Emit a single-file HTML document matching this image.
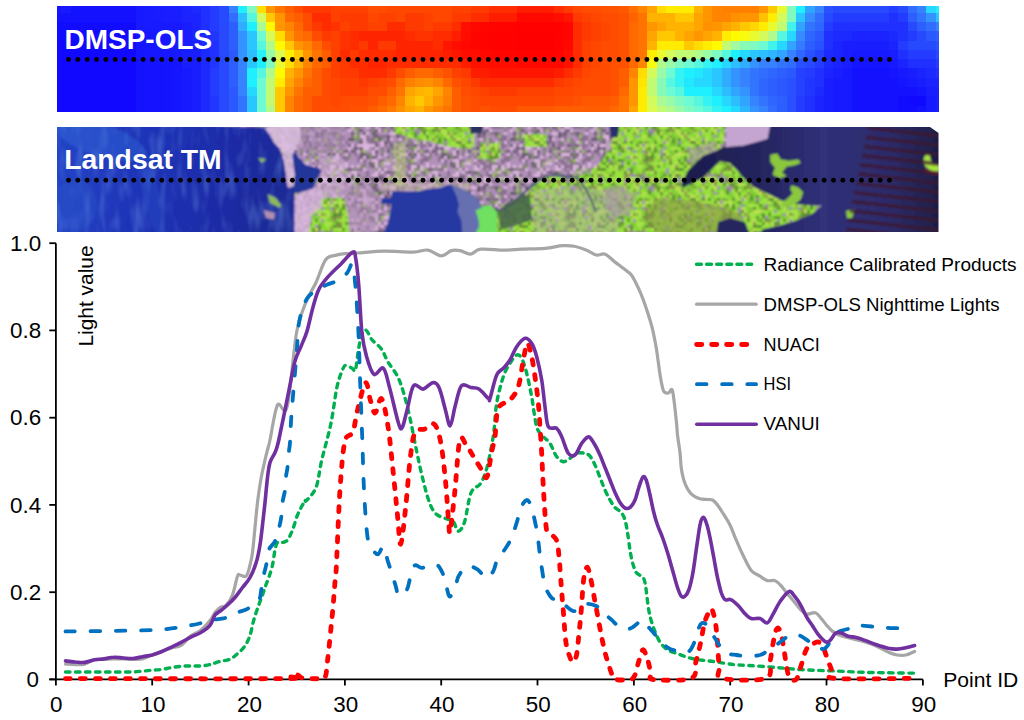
<!DOCTYPE html>
<html><head><meta charset="utf-8"><style>
html,body{margin:0;padding:0;background:#fff;width:1024px;height:720px;overflow:hidden}
svg{display:block}
</style></head><body>
<svg width="1024" height="720" viewBox="0 0 1024 720">
<rect width="1024" height="720" fill="#fff"/>
<g shape-rendering="crispEdges">
<rect x="57.00" y="6.00" width="4.70" height="7.18" fill="#1515ff"/>
<rect x="57.00" y="12.78" width="4.70" height="9.68" fill="#1411ff"/>
<rect x="57.00" y="22.06" width="4.70" height="9.68" fill="#120cff"/>
<rect x="57.00" y="31.34" width="4.70" height="9.68" fill="#120cff"/>
<rect x="57.00" y="40.62" width="4.70" height="9.68" fill="#1008ff"/>
<rect x="57.00" y="49.90" width="4.70" height="9.68" fill="#1008ff"/>
<rect x="57.00" y="59.18" width="4.70" height="9.68" fill="#1008ff"/>
<rect x="57.00" y="68.46" width="4.70" height="9.68" fill="#1008ff"/>
<rect x="57.00" y="77.74" width="4.70" height="9.68" fill="#1008ff"/>
<rect x="57.00" y="87.02" width="4.70" height="9.68" fill="#1008ff"/>
<rect x="57.00" y="96.30" width="4.70" height="9.68" fill="#1008ff"/>
<rect x="57.00" y="105.58" width="4.70" height="5.92" fill="#1008ff"/>
<rect x="61.30" y="6.00" width="9.70" height="7.18" fill="#171aff"/>
<rect x="61.30" y="12.78" width="9.70" height="9.68" fill="#1411ff"/>
<rect x="61.30" y="22.06" width="9.70" height="9.68" fill="#120cff"/>
<rect x="61.30" y="31.34" width="9.70" height="9.68" fill="#120cff"/>
<rect x="61.30" y="40.62" width="9.70" height="9.68" fill="#1008ff"/>
<rect x="61.30" y="49.90" width="9.70" height="9.68" fill="#1008ff"/>
<rect x="61.30" y="59.18" width="9.70" height="9.68" fill="#1008ff"/>
<rect x="61.30" y="68.46" width="9.70" height="9.68" fill="#1008ff"/>
<rect x="61.30" y="77.74" width="9.70" height="9.68" fill="#1008ff"/>
<rect x="61.30" y="87.02" width="9.70" height="9.68" fill="#1008ff"/>
<rect x="61.30" y="96.30" width="9.70" height="9.68" fill="#1008ff"/>
<rect x="61.30" y="105.58" width="9.70" height="5.92" fill="#1008ff"/>
<rect x="70.60" y="6.00" width="9.70" height="7.18" fill="#1411ff"/>
<rect x="70.60" y="12.78" width="9.70" height="9.68" fill="#1411ff"/>
<rect x="70.60" y="22.06" width="9.70" height="9.68" fill="#120cff"/>
<rect x="70.60" y="31.34" width="9.70" height="9.68" fill="#120cff"/>
<rect x="70.60" y="40.62" width="9.70" height="9.68" fill="#1008ff"/>
<rect x="70.60" y="49.90" width="9.70" height="9.68" fill="#1008ff"/>
<rect x="70.60" y="59.18" width="9.70" height="9.68" fill="#1008ff"/>
<rect x="70.60" y="68.46" width="9.70" height="9.68" fill="#1008ff"/>
<rect x="70.60" y="77.74" width="9.70" height="9.68" fill="#1008ff"/>
<rect x="70.60" y="87.02" width="9.70" height="9.68" fill="#1008ff"/>
<rect x="70.60" y="96.30" width="9.70" height="9.68" fill="#1008ff"/>
<rect x="70.60" y="105.58" width="9.70" height="5.92" fill="#1008ff"/>
<rect x="79.90" y="6.00" width="9.70" height="7.18" fill="#1411ff"/>
<rect x="79.90" y="12.78" width="9.70" height="9.68" fill="#1411ff"/>
<rect x="79.90" y="22.06" width="9.70" height="9.68" fill="#120cff"/>
<rect x="79.90" y="31.34" width="9.70" height="9.68" fill="#120cff"/>
<rect x="79.90" y="40.62" width="9.70" height="9.68" fill="#1009ff"/>
<rect x="79.90" y="49.90" width="9.70" height="9.68" fill="#1008ff"/>
<rect x="79.90" y="59.18" width="9.70" height="9.68" fill="#1008ff"/>
<rect x="79.90" y="68.46" width="9.70" height="9.68" fill="#1008ff"/>
<rect x="79.90" y="77.74" width="9.70" height="9.68" fill="#1008ff"/>
<rect x="79.90" y="87.02" width="9.70" height="9.68" fill="#1008ff"/>
<rect x="79.90" y="96.30" width="9.70" height="9.68" fill="#1008ff"/>
<rect x="79.90" y="105.58" width="9.70" height="5.92" fill="#1008ff"/>
<rect x="89.20" y="6.00" width="9.70" height="7.18" fill="#1411ff"/>
<rect x="89.20" y="12.78" width="9.70" height="9.68" fill="#1411ff"/>
<rect x="89.20" y="22.06" width="9.70" height="9.68" fill="#120cff"/>
<rect x="89.20" y="31.34" width="9.70" height="9.68" fill="#120cff"/>
<rect x="89.20" y="40.62" width="9.70" height="9.68" fill="#1109ff"/>
<rect x="89.20" y="49.90" width="9.70" height="9.68" fill="#1008ff"/>
<rect x="89.20" y="59.18" width="9.70" height="9.68" fill="#1008ff"/>
<rect x="89.20" y="68.46" width="9.70" height="9.68" fill="#1008ff"/>
<rect x="89.20" y="77.74" width="9.70" height="9.68" fill="#1008ff"/>
<rect x="89.20" y="87.02" width="9.70" height="9.68" fill="#1008ff"/>
<rect x="89.20" y="96.30" width="9.70" height="9.68" fill="#1008ff"/>
<rect x="89.20" y="105.58" width="9.70" height="5.92" fill="#1008ff"/>
<rect x="98.50" y="6.00" width="9.70" height="7.18" fill="#1411ff"/>
<rect x="98.50" y="12.78" width="9.70" height="9.68" fill="#1411ff"/>
<rect x="98.50" y="22.06" width="9.70" height="9.68" fill="#120cff"/>
<rect x="98.50" y="31.34" width="9.70" height="9.68" fill="#120cff"/>
<rect x="98.50" y="40.62" width="9.70" height="9.68" fill="#110aff"/>
<rect x="98.50" y="49.90" width="9.70" height="9.68" fill="#1008ff"/>
<rect x="98.50" y="59.18" width="9.70" height="9.68" fill="#1008ff"/>
<rect x="98.50" y="68.46" width="9.70" height="9.68" fill="#1008ff"/>
<rect x="98.50" y="77.74" width="9.70" height="9.68" fill="#1008ff"/>
<rect x="98.50" y="87.02" width="9.70" height="9.68" fill="#1008ff"/>
<rect x="98.50" y="96.30" width="9.70" height="9.68" fill="#1008ff"/>
<rect x="98.50" y="105.58" width="9.70" height="5.92" fill="#1008ff"/>
<rect x="107.80" y="6.00" width="9.70" height="7.18" fill="#1411ff"/>
<rect x="107.80" y="12.78" width="9.70" height="9.68" fill="#1411ff"/>
<rect x="107.80" y="22.06" width="9.70" height="9.68" fill="#120cff"/>
<rect x="107.80" y="31.34" width="9.70" height="9.68" fill="#120cff"/>
<rect x="107.80" y="40.62" width="9.70" height="9.68" fill="#110bff"/>
<rect x="107.80" y="49.90" width="9.70" height="9.68" fill="#1008ff"/>
<rect x="107.80" y="59.18" width="9.70" height="9.68" fill="#1008ff"/>
<rect x="107.80" y="68.46" width="9.70" height="9.68" fill="#1008ff"/>
<rect x="107.80" y="77.74" width="9.70" height="9.68" fill="#1008ff"/>
<rect x="107.80" y="87.02" width="9.70" height="9.68" fill="#1008ff"/>
<rect x="107.80" y="96.30" width="9.70" height="9.68" fill="#1008ff"/>
<rect x="107.80" y="105.58" width="9.70" height="5.92" fill="#1008ff"/>
<rect x="117.10" y="6.00" width="9.70" height="7.18" fill="#1411ff"/>
<rect x="117.10" y="12.78" width="9.70" height="9.68" fill="#1411ff"/>
<rect x="117.10" y="22.06" width="9.70" height="9.68" fill="#120cff"/>
<rect x="117.10" y="31.34" width="9.70" height="9.68" fill="#120cff"/>
<rect x="117.10" y="40.62" width="9.70" height="9.68" fill="#120cff"/>
<rect x="117.10" y="49.90" width="9.70" height="9.68" fill="#1008ff"/>
<rect x="117.10" y="59.18" width="9.70" height="9.68" fill="#1008ff"/>
<rect x="117.10" y="68.46" width="9.70" height="9.68" fill="#1008ff"/>
<rect x="117.10" y="77.74" width="9.70" height="9.68" fill="#1008ff"/>
<rect x="117.10" y="87.02" width="9.70" height="9.68" fill="#1008ff"/>
<rect x="117.10" y="96.30" width="9.70" height="9.68" fill="#1008ff"/>
<rect x="117.10" y="105.58" width="9.70" height="5.92" fill="#1008ff"/>
<rect x="126.40" y="6.00" width="9.70" height="7.18" fill="#1411ff"/>
<rect x="126.40" y="12.78" width="9.70" height="9.68" fill="#1411ff"/>
<rect x="126.40" y="22.06" width="9.70" height="9.68" fill="#120cff"/>
<rect x="126.40" y="31.34" width="9.70" height="9.68" fill="#120cff"/>
<rect x="126.40" y="40.62" width="9.70" height="9.68" fill="#120cff"/>
<rect x="126.40" y="49.90" width="9.70" height="9.68" fill="#1008ff"/>
<rect x="126.40" y="59.18" width="9.70" height="9.68" fill="#1008ff"/>
<rect x="126.40" y="68.46" width="9.70" height="9.68" fill="#1008ff"/>
<rect x="126.40" y="77.74" width="9.70" height="9.68" fill="#1008ff"/>
<rect x="126.40" y="87.02" width="9.70" height="9.68" fill="#1008ff"/>
<rect x="126.40" y="96.30" width="9.70" height="9.68" fill="#1008ff"/>
<rect x="126.40" y="105.58" width="9.70" height="5.92" fill="#1008ff"/>
<rect x="135.70" y="6.00" width="9.70" height="7.18" fill="#171aff"/>
<rect x="135.70" y="12.78" width="9.70" height="9.68" fill="#171aff"/>
<rect x="135.70" y="22.06" width="9.70" height="9.68" fill="#171aff"/>
<rect x="135.70" y="31.34" width="9.70" height="9.68" fill="#1515ff"/>
<rect x="135.70" y="40.62" width="9.70" height="9.68" fill="#1515ff"/>
<rect x="135.70" y="49.90" width="9.70" height="9.68" fill="#1515ff"/>
<rect x="135.70" y="59.18" width="9.70" height="9.68" fill="#1411ff"/>
<rect x="135.70" y="68.46" width="9.70" height="9.68" fill="#1411ff"/>
<rect x="135.70" y="77.74" width="9.70" height="9.68" fill="#1411ff"/>
<rect x="135.70" y="87.02" width="9.70" height="9.68" fill="#1411ff"/>
<rect x="135.70" y="96.30" width="9.70" height="9.68" fill="#1411ff"/>
<rect x="135.70" y="105.58" width="9.70" height="5.92" fill="#1411ff"/>
<rect x="145.00" y="6.00" width="9.70" height="7.18" fill="#181bff"/>
<rect x="145.00" y="12.78" width="9.70" height="9.68" fill="#181bff"/>
<rect x="145.00" y="22.06" width="9.70" height="9.68" fill="#171aff"/>
<rect x="145.00" y="31.34" width="9.70" height="9.68" fill="#1616ff"/>
<rect x="145.00" y="40.62" width="9.70" height="9.68" fill="#1616ff"/>
<rect x="145.00" y="49.90" width="9.70" height="9.68" fill="#1616ff"/>
<rect x="145.00" y="59.18" width="9.70" height="9.68" fill="#1412ff"/>
<rect x="145.00" y="68.46" width="9.70" height="9.68" fill="#1412ff"/>
<rect x="145.00" y="77.74" width="9.70" height="9.68" fill="#1412ff"/>
<rect x="145.00" y="87.02" width="9.70" height="9.68" fill="#1412ff"/>
<rect x="145.00" y="96.30" width="9.70" height="9.68" fill="#1412ff"/>
<rect x="145.00" y="105.58" width="9.70" height="5.92" fill="#1412ff"/>
<rect x="154.30" y="6.00" width="9.70" height="7.18" fill="#181cff"/>
<rect x="154.30" y="12.78" width="9.70" height="9.68" fill="#181cff"/>
<rect x="154.30" y="22.06" width="9.70" height="9.68" fill="#171aff"/>
<rect x="154.30" y="31.34" width="9.70" height="9.68" fill="#1617ff"/>
<rect x="154.30" y="40.62" width="9.70" height="9.68" fill="#1617ff"/>
<rect x="154.30" y="49.90" width="9.70" height="9.68" fill="#1617ff"/>
<rect x="154.30" y="59.18" width="9.70" height="9.68" fill="#1413ff"/>
<rect x="154.30" y="68.46" width="9.70" height="9.68" fill="#1413ff"/>
<rect x="154.30" y="77.74" width="9.70" height="9.68" fill="#1413ff"/>
<rect x="154.30" y="87.02" width="9.70" height="9.68" fill="#1413ff"/>
<rect x="154.30" y="96.30" width="9.70" height="9.68" fill="#1413ff"/>
<rect x="154.30" y="105.58" width="9.70" height="5.92" fill="#1413ff"/>
<rect x="163.60" y="6.00" width="9.70" height="7.18" fill="#191dff"/>
<rect x="163.60" y="12.78" width="9.70" height="9.68" fill="#191dff"/>
<rect x="163.60" y="22.06" width="9.70" height="9.68" fill="#171aff"/>
<rect x="163.60" y="31.34" width="9.70" height="9.68" fill="#1718ff"/>
<rect x="163.60" y="40.62" width="9.70" height="9.68" fill="#1718ff"/>
<rect x="163.60" y="49.90" width="9.70" height="9.68" fill="#1718ff"/>
<rect x="163.60" y="59.18" width="9.70" height="9.68" fill="#1514ff"/>
<rect x="163.60" y="68.46" width="9.70" height="9.68" fill="#1514ff"/>
<rect x="163.60" y="77.74" width="9.70" height="9.68" fill="#1514ff"/>
<rect x="163.60" y="87.02" width="9.70" height="9.68" fill="#1514ff"/>
<rect x="163.60" y="96.30" width="9.70" height="9.68" fill="#1514ff"/>
<rect x="163.60" y="105.58" width="9.70" height="5.92" fill="#1514ff"/>
<rect x="172.90" y="6.00" width="9.70" height="7.18" fill="#191eff"/>
<rect x="172.90" y="12.78" width="9.70" height="9.68" fill="#191eff"/>
<rect x="172.90" y="22.06" width="9.70" height="9.68" fill="#171aff"/>
<rect x="172.90" y="31.34" width="9.70" height="9.68" fill="#171aff"/>
<rect x="172.90" y="40.62" width="9.70" height="9.68" fill="#171aff"/>
<rect x="172.90" y="49.90" width="9.70" height="9.68" fill="#171aff"/>
<rect x="172.90" y="59.18" width="9.70" height="9.68" fill="#1515ff"/>
<rect x="172.90" y="68.46" width="9.70" height="9.68" fill="#1515ff"/>
<rect x="172.90" y="77.74" width="9.70" height="9.68" fill="#1515ff"/>
<rect x="172.90" y="87.02" width="9.70" height="9.68" fill="#1515ff"/>
<rect x="172.90" y="96.30" width="9.70" height="9.68" fill="#1515ff"/>
<rect x="172.90" y="105.58" width="9.70" height="5.92" fill="#1515ff"/>
<rect x="182.20" y="6.00" width="9.70" height="7.18" fill="#1b24ff"/>
<rect x="182.20" y="12.78" width="9.70" height="9.68" fill="#1b24ff"/>
<rect x="182.20" y="22.06" width="9.70" height="9.68" fill="#191eff"/>
<rect x="182.20" y="31.34" width="9.70" height="9.68" fill="#191eff"/>
<rect x="182.20" y="40.62" width="9.70" height="9.68" fill="#191eff"/>
<rect x="182.20" y="49.90" width="9.70" height="9.68" fill="#191eff"/>
<rect x="182.20" y="59.18" width="9.70" height="9.68" fill="#191eff"/>
<rect x="182.20" y="68.46" width="9.70" height="9.68" fill="#171aff"/>
<rect x="182.20" y="77.74" width="9.70" height="9.68" fill="#171aff"/>
<rect x="182.20" y="87.02" width="9.70" height="9.68" fill="#171aff"/>
<rect x="182.20" y="96.30" width="9.70" height="9.68" fill="#171aff"/>
<rect x="182.20" y="105.58" width="9.70" height="5.92" fill="#171aff"/>
<rect x="191.50" y="6.00" width="9.70" height="7.18" fill="#1d2aff"/>
<rect x="191.50" y="12.78" width="9.70" height="9.68" fill="#1b24ff"/>
<rect x="191.50" y="22.06" width="9.70" height="9.68" fill="#1b24ff"/>
<rect x="191.50" y="31.34" width="9.70" height="9.68" fill="#1b24ff"/>
<rect x="191.50" y="40.62" width="9.70" height="9.68" fill="#191eff"/>
<rect x="191.50" y="49.90" width="9.70" height="9.68" fill="#191eff"/>
<rect x="191.50" y="59.18" width="9.70" height="9.68" fill="#191eff"/>
<rect x="191.50" y="68.46" width="9.70" height="9.68" fill="#191eff"/>
<rect x="191.50" y="77.74" width="9.70" height="9.68" fill="#191eff"/>
<rect x="191.50" y="87.02" width="9.70" height="9.68" fill="#191eff"/>
<rect x="191.50" y="96.30" width="9.70" height="9.68" fill="#191eff"/>
<rect x="191.50" y="105.58" width="9.70" height="5.92" fill="#191eff"/>
<rect x="200.80" y="6.00" width="9.70" height="7.18" fill="#1f30ff"/>
<rect x="200.80" y="12.78" width="9.70" height="9.68" fill="#1f30ff"/>
<rect x="200.80" y="22.06" width="9.70" height="9.68" fill="#1f30ff"/>
<rect x="200.80" y="31.34" width="9.70" height="9.68" fill="#1d2aff"/>
<rect x="200.80" y="40.62" width="9.70" height="9.68" fill="#1d2aff"/>
<rect x="200.80" y="49.90" width="9.70" height="9.68" fill="#1d2aff"/>
<rect x="200.80" y="59.18" width="9.70" height="9.68" fill="#1d2aff"/>
<rect x="200.80" y="68.46" width="9.70" height="9.68" fill="#1d2aff"/>
<rect x="200.80" y="77.74" width="9.70" height="9.68" fill="#1d2aff"/>
<rect x="200.80" y="87.02" width="9.70" height="9.68" fill="#1d2aff"/>
<rect x="200.80" y="96.30" width="9.70" height="9.68" fill="#1d2aff"/>
<rect x="200.80" y="105.58" width="9.70" height="5.92" fill="#1d2aff"/>
<rect x="210.10" y="6.00" width="9.70" height="7.18" fill="#233cff"/>
<rect x="210.10" y="12.78" width="9.70" height="9.68" fill="#233cff"/>
<rect x="210.10" y="22.06" width="9.70" height="9.68" fill="#233cff"/>
<rect x="210.10" y="31.34" width="9.70" height="9.68" fill="#2136ff"/>
<rect x="210.10" y="40.62" width="9.70" height="9.68" fill="#1f30ff"/>
<rect x="210.10" y="49.90" width="9.70" height="9.68" fill="#1f30ff"/>
<rect x="210.10" y="59.18" width="9.70" height="9.68" fill="#2136ff"/>
<rect x="210.10" y="68.46" width="9.70" height="9.68" fill="#233cff"/>
<rect x="210.10" y="77.74" width="9.70" height="9.68" fill="#233cff"/>
<rect x="210.10" y="87.02" width="9.70" height="9.68" fill="#233cff"/>
<rect x="210.10" y="96.30" width="9.70" height="9.68" fill="#2136ff"/>
<rect x="210.10" y="105.58" width="9.70" height="5.92" fill="#2136ff"/>
<rect x="219.40" y="6.00" width="9.70" height="7.18" fill="#274aff"/>
<rect x="219.40" y="12.78" width="9.70" height="9.68" fill="#274aff"/>
<rect x="219.40" y="22.06" width="9.70" height="9.68" fill="#274aff"/>
<rect x="219.40" y="31.34" width="9.70" height="9.68" fill="#274aff"/>
<rect x="219.40" y="40.62" width="9.70" height="9.68" fill="#274aff"/>
<rect x="219.40" y="49.90" width="9.70" height="9.68" fill="#274aff"/>
<rect x="219.40" y="59.18" width="9.70" height="9.68" fill="#274aff"/>
<rect x="219.40" y="68.46" width="9.70" height="9.68" fill="#274aff"/>
<rect x="219.40" y="77.74" width="9.70" height="9.68" fill="#274aff"/>
<rect x="219.40" y="87.02" width="9.70" height="9.68" fill="#274aff"/>
<rect x="219.40" y="96.30" width="9.70" height="9.68" fill="#274aff"/>
<rect x="219.40" y="105.58" width="9.70" height="5.92" fill="#274aff"/>
<rect x="228.70" y="6.00" width="9.70" height="7.18" fill="#3782ff"/>
<rect x="228.70" y="12.78" width="9.70" height="9.68" fill="#316dff"/>
<rect x="228.70" y="22.06" width="9.70" height="9.68" fill="#2d5fff"/>
<rect x="228.70" y="31.34" width="9.70" height="9.68" fill="#2d5fff"/>
<rect x="228.70" y="40.62" width="9.70" height="9.68" fill="#2d5fff"/>
<rect x="228.70" y="49.90" width="9.70" height="9.68" fill="#2b58ff"/>
<rect x="228.70" y="59.18" width="9.70" height="9.68" fill="#2d5fff"/>
<rect x="228.70" y="68.46" width="9.70" height="9.68" fill="#2d5fff"/>
<rect x="228.70" y="77.74" width="9.70" height="9.68" fill="#2d5fff"/>
<rect x="228.70" y="87.02" width="9.70" height="9.68" fill="#2b58ff"/>
<rect x="228.70" y="96.30" width="9.70" height="9.68" fill="#2b58ff"/>
<rect x="228.70" y="105.58" width="9.70" height="5.92" fill="#2b58ff"/>
<rect x="238.00" y="6.00" width="9.70" height="7.18" fill="#1ef0ff"/>
<rect x="238.00" y="12.78" width="9.70" height="9.68" fill="#2dbeff"/>
<rect x="238.00" y="22.06" width="9.70" height="9.68" fill="#30adff"/>
<rect x="238.00" y="31.34" width="9.70" height="9.68" fill="#3493ff"/>
<rect x="238.00" y="40.62" width="9.70" height="9.68" fill="#3493ff"/>
<rect x="238.00" y="49.90" width="9.70" height="9.68" fill="#3493ff"/>
<rect x="238.00" y="59.18" width="9.70" height="9.68" fill="#3782ff"/>
<rect x="238.00" y="68.46" width="9.70" height="9.68" fill="#3782ff"/>
<rect x="238.00" y="77.74" width="9.70" height="9.68" fill="#3782ff"/>
<rect x="238.00" y="87.02" width="9.70" height="9.68" fill="#3782ff"/>
<rect x="238.00" y="96.30" width="9.70" height="9.68" fill="#3374ff"/>
<rect x="238.00" y="105.58" width="9.70" height="5.92" fill="#3374ff"/>
<rect x="247.30" y="6.00" width="9.70" height="7.18" fill="#7ffac1"/>
<rect x="247.30" y="12.78" width="9.70" height="9.68" fill="#57f7df"/>
<rect x="247.30" y="22.06" width="9.70" height="9.68" fill="#1ef0ff"/>
<rect x="247.30" y="31.34" width="9.70" height="9.68" fill="#2ac6ff"/>
<rect x="247.30" y="40.62" width="9.70" height="9.68" fill="#2ac6ff"/>
<rect x="247.30" y="49.90" width="9.70" height="9.68" fill="#2dbeff"/>
<rect x="247.30" y="59.18" width="9.70" height="9.68" fill="#2ac6ff"/>
<rect x="247.30" y="68.46" width="9.70" height="9.68" fill="#1ef0ff"/>
<rect x="247.30" y="77.74" width="9.70" height="9.68" fill="#1ef0ff"/>
<rect x="247.30" y="87.02" width="9.70" height="9.68" fill="#26d7ff"/>
<rect x="247.30" y="96.30" width="9.70" height="9.68" fill="#2ac6ff"/>
<rect x="247.30" y="105.58" width="9.70" height="5.92" fill="#2ac6ff"/>
<rect x="256.60" y="6.00" width="9.70" height="7.18" fill="#ffdd00"/>
<rect x="256.60" y="12.78" width="9.70" height="9.68" fill="#d4fa5c"/>
<rect x="256.60" y="22.06" width="9.70" height="9.68" fill="#aafa96"/>
<rect x="256.60" y="31.34" width="9.70" height="9.68" fill="#6efad2"/>
<rect x="256.60" y="40.62" width="9.70" height="9.68" fill="#57f7df"/>
<rect x="256.60" y="49.90" width="9.70" height="9.68" fill="#29f1f9"/>
<rect x="256.60" y="59.18" width="9.70" height="9.68" fill="#1ef0ff"/>
<rect x="256.60" y="68.46" width="9.70" height="9.68" fill="#57f7df"/>
<rect x="256.60" y="77.74" width="9.70" height="9.68" fill="#6efad2"/>
<rect x="256.60" y="87.02" width="9.70" height="9.68" fill="#6efad2"/>
<rect x="256.60" y="96.30" width="9.70" height="9.68" fill="#6efad2"/>
<rect x="256.60" y="105.58" width="9.70" height="5.92" fill="#6efad2"/>
<rect x="265.90" y="6.00" width="9.70" height="7.18" fill="#ff9600"/>
<rect x="265.90" y="12.78" width="9.70" height="9.68" fill="#ffc800"/>
<rect x="265.90" y="22.06" width="9.70" height="9.68" fill="#fffa00"/>
<rect x="265.90" y="31.34" width="9.70" height="9.68" fill="#d4fa5c"/>
<rect x="265.90" y="40.62" width="9.70" height="9.68" fill="#b2fa8a"/>
<rect x="265.90" y="49.90" width="9.70" height="9.68" fill="#99faa7"/>
<rect x="265.90" y="59.18" width="9.70" height="9.68" fill="#7ffac1"/>
<rect x="265.90" y="68.46" width="9.70" height="9.68" fill="#b2fa8a"/>
<rect x="265.90" y="77.74" width="9.70" height="9.68" fill="#c3fa73"/>
<rect x="265.90" y="87.02" width="9.70" height="9.68" fill="#c3fa73"/>
<rect x="265.90" y="96.30" width="9.70" height="9.68" fill="#c3fa73"/>
<rect x="265.90" y="105.58" width="9.70" height="5.92" fill="#b2fa8a"/>
<rect x="275.20" y="6.00" width="9.70" height="7.18" fill="#ff7400"/>
<rect x="275.20" y="12.78" width="9.70" height="9.68" fill="#ff9600"/>
<rect x="275.20" y="22.06" width="9.70" height="9.68" fill="#ff9600"/>
<rect x="275.20" y="31.34" width="9.70" height="9.68" fill="#ffdd00"/>
<rect x="275.20" y="40.62" width="9.70" height="9.68" fill="#fffa00"/>
<rect x="275.20" y="49.90" width="9.70" height="9.68" fill="#dcfa50"/>
<rect x="275.20" y="59.18" width="9.70" height="9.68" fill="#eafa30"/>
<rect x="275.20" y="68.46" width="9.70" height="9.68" fill="#fffa00"/>
<rect x="275.20" y="77.74" width="9.70" height="9.68" fill="#ffec00"/>
<rect x="275.20" y="87.02" width="9.70" height="9.68" fill="#ffc800"/>
<rect x="275.20" y="96.30" width="9.70" height="9.68" fill="#ffc800"/>
<rect x="275.20" y="105.58" width="9.70" height="5.92" fill="#ffc800"/>
<rect x="284.50" y="6.00" width="9.70" height="7.18" fill="#ff5e00"/>
<rect x="284.50" y="12.78" width="9.70" height="9.68" fill="#ff6900"/>
<rect x="284.50" y="22.06" width="9.70" height="9.68" fill="#ff8500"/>
<rect x="284.50" y="31.34" width="9.70" height="9.68" fill="#ff9600"/>
<rect x="284.50" y="40.62" width="9.70" height="9.68" fill="#ffc800"/>
<rect x="284.50" y="49.90" width="9.70" height="9.68" fill="#ffec00"/>
<rect x="284.50" y="59.18" width="9.70" height="9.68" fill="#ffdd00"/>
<rect x="284.50" y="68.46" width="9.70" height="9.68" fill="#ffb300"/>
<rect x="284.50" y="77.74" width="9.70" height="9.68" fill="#ffa400"/>
<rect x="284.50" y="87.02" width="9.70" height="9.68" fill="#ff9600"/>
<rect x="284.50" y="96.30" width="9.70" height="9.68" fill="#ff8500"/>
<rect x="284.50" y="105.58" width="9.70" height="5.92" fill="#ff8500"/>
<rect x="293.80" y="6.00" width="9.70" height="7.18" fill="#ff4c00"/>
<rect x="293.80" y="12.78" width="9.70" height="9.68" fill="#ff5e00"/>
<rect x="293.80" y="22.06" width="9.70" height="9.68" fill="#ff6900"/>
<rect x="293.80" y="31.34" width="9.70" height="9.68" fill="#ff7400"/>
<rect x="293.80" y="40.62" width="9.70" height="9.68" fill="#ff9600"/>
<rect x="293.80" y="49.90" width="9.70" height="9.68" fill="#ffc800"/>
<rect x="293.80" y="59.18" width="9.70" height="9.68" fill="#ffb300"/>
<rect x="293.80" y="68.46" width="9.70" height="9.68" fill="#ff9600"/>
<rect x="293.80" y="77.74" width="9.70" height="9.68" fill="#ff8500"/>
<rect x="293.80" y="87.02" width="9.70" height="9.68" fill="#ff7400"/>
<rect x="293.80" y="96.30" width="9.70" height="9.68" fill="#ff6900"/>
<rect x="293.80" y="105.58" width="9.70" height="5.92" fill="#ff6900"/>
<rect x="303.10" y="6.00" width="9.70" height="7.18" fill="#ff3a00"/>
<rect x="303.10" y="12.78" width="9.70" height="9.68" fill="#ff4c00"/>
<rect x="303.10" y="22.06" width="9.70" height="9.68" fill="#ff4c00"/>
<rect x="303.10" y="31.34" width="9.70" height="9.68" fill="#ff6900"/>
<rect x="303.10" y="40.62" width="9.70" height="9.68" fill="#ff8500"/>
<rect x="303.10" y="49.90" width="9.70" height="9.68" fill="#ff9600"/>
<rect x="303.10" y="59.18" width="9.70" height="9.68" fill="#ff8500"/>
<rect x="303.10" y="68.46" width="9.70" height="9.68" fill="#ff7400"/>
<rect x="303.10" y="77.74" width="9.70" height="9.68" fill="#ff6900"/>
<rect x="303.10" y="87.02" width="9.70" height="9.68" fill="#ff5e00"/>
<rect x="303.10" y="96.30" width="9.70" height="9.68" fill="#ff5e00"/>
<rect x="303.10" y="105.58" width="9.70" height="5.92" fill="#ff5e00"/>
<rect x="312.40" y="6.00" width="9.70" height="7.18" fill="#ff3a00"/>
<rect x="312.40" y="12.78" width="9.70" height="9.68" fill="#ff2c00"/>
<rect x="312.40" y="22.06" width="9.70" height="9.68" fill="#ff3a00"/>
<rect x="312.40" y="31.34" width="9.70" height="9.68" fill="#ff4c00"/>
<rect x="312.40" y="40.62" width="9.70" height="9.68" fill="#ff6900"/>
<rect x="312.40" y="49.90" width="9.70" height="9.68" fill="#ff7400"/>
<rect x="312.40" y="59.18" width="9.70" height="9.68" fill="#ff6900"/>
<rect x="312.40" y="68.46" width="9.70" height="9.68" fill="#ff5e00"/>
<rect x="312.40" y="77.74" width="9.70" height="9.68" fill="#ff5e00"/>
<rect x="312.40" y="87.02" width="9.70" height="9.68" fill="#ff5e00"/>
<rect x="312.40" y="96.30" width="9.70" height="9.68" fill="#ff4c00"/>
<rect x="312.40" y="105.58" width="9.70" height="5.92" fill="#ff4c00"/>
<rect x="321.70" y="6.00" width="9.70" height="7.18" fill="#ff3a00"/>
<rect x="321.70" y="12.78" width="9.70" height="9.68" fill="#ff2c00"/>
<rect x="321.70" y="22.06" width="9.70" height="9.68" fill="#ff2c00"/>
<rect x="321.70" y="31.34" width="9.70" height="9.68" fill="#ff3a00"/>
<rect x="321.70" y="40.62" width="9.70" height="9.68" fill="#ff4c00"/>
<rect x="321.70" y="49.90" width="9.70" height="9.68" fill="#ff5e00"/>
<rect x="321.70" y="59.18" width="9.70" height="9.68" fill="#ff5e00"/>
<rect x="321.70" y="68.46" width="9.70" height="9.68" fill="#ff4c00"/>
<rect x="321.70" y="77.74" width="9.70" height="9.68" fill="#ff4c00"/>
<rect x="321.70" y="87.02" width="9.70" height="9.68" fill="#ff4c00"/>
<rect x="321.70" y="96.30" width="9.70" height="9.68" fill="#ff4c00"/>
<rect x="321.70" y="105.58" width="9.70" height="5.92" fill="#ff4c00"/>
<rect x="331.00" y="6.00" width="9.70" height="7.18" fill="#ff4100"/>
<rect x="331.00" y="12.78" width="9.70" height="9.68" fill="#ff4100"/>
<rect x="331.00" y="22.06" width="9.70" height="9.68" fill="#ff3300"/>
<rect x="331.00" y="31.34" width="9.70" height="9.68" fill="#ff4100"/>
<rect x="331.00" y="40.62" width="9.70" height="9.68" fill="#ff4100"/>
<rect x="331.00" y="49.90" width="9.70" height="9.68" fill="#ff4100"/>
<rect x="331.00" y="59.18" width="9.70" height="9.68" fill="#ff4100"/>
<rect x="331.00" y="68.46" width="9.70" height="9.68" fill="#ff4100"/>
<rect x="331.00" y="77.74" width="9.70" height="9.68" fill="#ff4700"/>
<rect x="331.00" y="87.02" width="9.70" height="9.68" fill="#ff4700"/>
<rect x="331.00" y="96.30" width="9.70" height="9.68" fill="#ff4700"/>
<rect x="331.00" y="105.58" width="9.70" height="5.92" fill="#ff4c00"/>
<rect x="340.30" y="6.00" width="9.70" height="7.18" fill="#ff4100"/>
<rect x="340.30" y="12.78" width="9.70" height="9.68" fill="#ff3a00"/>
<rect x="340.30" y="22.06" width="9.70" height="9.68" fill="#ff4100"/>
<rect x="340.30" y="31.34" width="9.70" height="9.68" fill="#ff3300"/>
<rect x="340.30" y="40.62" width="9.70" height="9.68" fill="#ff3300"/>
<rect x="340.30" y="49.90" width="9.70" height="9.68" fill="#ff2c00"/>
<rect x="340.30" y="59.18" width="9.70" height="9.68" fill="#ff3a00"/>
<rect x="340.30" y="68.46" width="9.70" height="9.68" fill="#ff3a00"/>
<rect x="340.30" y="77.74" width="9.70" height="9.68" fill="#ff4100"/>
<rect x="340.30" y="87.02" width="9.70" height="9.68" fill="#ff4100"/>
<rect x="340.30" y="96.30" width="9.70" height="9.68" fill="#ff4c00"/>
<rect x="340.30" y="105.58" width="9.70" height="5.92" fill="#ff4c00"/>
<rect x="349.60" y="6.00" width="9.70" height="7.18" fill="#ff4100"/>
<rect x="349.60" y="12.78" width="9.70" height="9.68" fill="#ff3a00"/>
<rect x="349.60" y="22.06" width="9.70" height="9.68" fill="#ff3a00"/>
<rect x="349.60" y="31.34" width="9.70" height="9.68" fill="#ff2c00"/>
<rect x="349.60" y="40.62" width="9.70" height="9.68" fill="#ff2c00"/>
<rect x="349.60" y="49.90" width="9.70" height="9.68" fill="#ff3a00"/>
<rect x="349.60" y="59.18" width="9.70" height="9.68" fill="#ff2c00"/>
<rect x="349.60" y="68.46" width="9.70" height="9.68" fill="#ff3a00"/>
<rect x="349.60" y="77.74" width="9.70" height="9.68" fill="#ff4100"/>
<rect x="349.60" y="87.02" width="9.70" height="9.68" fill="#ff4100"/>
<rect x="349.60" y="96.30" width="9.70" height="9.68" fill="#ff4c00"/>
<rect x="349.60" y="105.58" width="9.70" height="5.92" fill="#ff5200"/>
<rect x="358.90" y="6.00" width="9.70" height="7.18" fill="#ff4100"/>
<rect x="358.90" y="12.78" width="9.70" height="9.68" fill="#ff3a00"/>
<rect x="358.90" y="22.06" width="9.70" height="9.68" fill="#ff3a00"/>
<rect x="358.90" y="31.34" width="9.70" height="9.68" fill="#ff2400"/>
<rect x="358.90" y="40.62" width="9.70" height="9.68" fill="#ff3a00"/>
<rect x="358.90" y="49.90" width="9.70" height="9.68" fill="#ff2c00"/>
<rect x="358.90" y="59.18" width="9.70" height="9.68" fill="#ff2c00"/>
<rect x="358.90" y="68.46" width="9.70" height="9.68" fill="#ff2c00"/>
<rect x="358.90" y="77.74" width="9.70" height="9.68" fill="#ff3a00"/>
<rect x="358.90" y="87.02" width="9.70" height="9.68" fill="#ff4100"/>
<rect x="358.90" y="96.30" width="9.70" height="9.68" fill="#ff4c00"/>
<rect x="358.90" y="105.58" width="9.70" height="5.92" fill="#ff5200"/>
<rect x="368.20" y="6.00" width="9.70" height="7.18" fill="#ff4c00"/>
<rect x="368.20" y="12.78" width="9.70" height="9.68" fill="#ff4700"/>
<rect x="368.20" y="22.06" width="9.70" height="9.68" fill="#ff4100"/>
<rect x="368.20" y="31.34" width="9.70" height="9.68" fill="#ff2400"/>
<rect x="368.20" y="40.62" width="9.70" height="9.68" fill="#ff2400"/>
<rect x="368.20" y="49.90" width="9.70" height="9.68" fill="#ff2c00"/>
<rect x="368.20" y="59.18" width="9.70" height="9.68" fill="#ff2400"/>
<rect x="368.20" y="68.46" width="9.70" height="9.68" fill="#ff2c00"/>
<rect x="368.20" y="77.74" width="9.70" height="9.68" fill="#ff4100"/>
<rect x="368.20" y="87.02" width="9.70" height="9.68" fill="#ff4c00"/>
<rect x="368.20" y="96.30" width="9.70" height="9.68" fill="#ff5200"/>
<rect x="368.20" y="105.58" width="9.70" height="5.92" fill="#ff5e00"/>
<rect x="377.50" y="6.00" width="9.70" height="7.18" fill="#ff4c00"/>
<rect x="377.50" y="12.78" width="9.70" height="9.68" fill="#ff4100"/>
<rect x="377.50" y="22.06" width="9.70" height="9.68" fill="#ff4100"/>
<rect x="377.50" y="31.34" width="9.70" height="9.68" fill="#ff2400"/>
<rect x="377.50" y="40.62" width="9.70" height="9.68" fill="#ff3a00"/>
<rect x="377.50" y="49.90" width="9.70" height="9.68" fill="#ff2c00"/>
<rect x="377.50" y="59.18" width="9.70" height="9.68" fill="#ff2400"/>
<rect x="377.50" y="68.46" width="9.70" height="9.68" fill="#ff2c00"/>
<rect x="377.50" y="77.74" width="9.70" height="9.68" fill="#ff4700"/>
<rect x="377.50" y="87.02" width="9.70" height="9.68" fill="#ff4c00"/>
<rect x="377.50" y="96.30" width="9.70" height="9.68" fill="#ff5e00"/>
<rect x="377.50" y="105.58" width="9.70" height="5.92" fill="#ff6900"/>
<rect x="386.80" y="6.00" width="9.70" height="7.18" fill="#ff4700"/>
<rect x="386.80" y="12.78" width="9.70" height="9.68" fill="#ff4100"/>
<rect x="386.80" y="22.06" width="9.70" height="9.68" fill="#ff2c00"/>
<rect x="386.80" y="31.34" width="9.70" height="9.68" fill="#ff2400"/>
<rect x="386.80" y="40.62" width="9.70" height="9.68" fill="#ff3a00"/>
<rect x="386.80" y="49.90" width="9.70" height="9.68" fill="#ff2c00"/>
<rect x="386.80" y="59.18" width="9.70" height="9.68" fill="#ff2c00"/>
<rect x="386.80" y="68.46" width="9.70" height="9.68" fill="#ff3a00"/>
<rect x="386.80" y="77.74" width="9.70" height="9.68" fill="#ff4c00"/>
<rect x="386.80" y="87.02" width="9.70" height="9.68" fill="#ff5e00"/>
<rect x="386.80" y="96.30" width="9.70" height="9.68" fill="#ff6900"/>
<rect x="386.80" y="105.58" width="9.70" height="5.92" fill="#ff7a00"/>
<rect x="396.10" y="6.00" width="9.70" height="7.18" fill="#ff4700"/>
<rect x="396.10" y="12.78" width="9.70" height="9.68" fill="#ff4700"/>
<rect x="396.10" y="22.06" width="9.70" height="9.68" fill="#ff2c00"/>
<rect x="396.10" y="31.34" width="9.70" height="9.68" fill="#ff2400"/>
<rect x="396.10" y="40.62" width="9.70" height="9.68" fill="#ff2400"/>
<rect x="396.10" y="49.90" width="9.70" height="9.68" fill="#ff2400"/>
<rect x="396.10" y="59.18" width="9.70" height="9.68" fill="#ff2c00"/>
<rect x="396.10" y="68.46" width="9.70" height="9.68" fill="#ff4c00"/>
<rect x="396.10" y="77.74" width="9.70" height="9.68" fill="#ff6900"/>
<rect x="396.10" y="87.02" width="9.70" height="9.68" fill="#ff7400"/>
<rect x="396.10" y="96.30" width="9.70" height="9.68" fill="#ff8500"/>
<rect x="396.10" y="105.58" width="9.70" height="5.92" fill="#ff9000"/>
<rect x="405.40" y="6.00" width="9.70" height="7.18" fill="#ff4700"/>
<rect x="405.40" y="12.78" width="9.70" height="9.68" fill="#ff3a00"/>
<rect x="405.40" y="22.06" width="9.70" height="9.68" fill="#ff3a00"/>
<rect x="405.40" y="31.34" width="9.70" height="9.68" fill="#ff2c00"/>
<rect x="405.40" y="40.62" width="9.70" height="9.68" fill="#ff2400"/>
<rect x="405.40" y="49.90" width="9.70" height="9.68" fill="#ff2400"/>
<rect x="405.40" y="59.18" width="9.70" height="9.68" fill="#ff2c00"/>
<rect x="405.40" y="68.46" width="9.70" height="9.68" fill="#ff5e00"/>
<rect x="405.40" y="77.74" width="9.70" height="9.68" fill="#ff8000"/>
<rect x="405.40" y="87.02" width="9.70" height="9.68" fill="#ffa400"/>
<rect x="405.40" y="96.30" width="9.70" height="9.68" fill="#ffb300"/>
<rect x="405.40" y="105.58" width="9.70" height="5.92" fill="#ffa400"/>
<rect x="414.70" y="6.00" width="9.70" height="7.18" fill="#ff4700"/>
<rect x="414.70" y="12.78" width="9.70" height="9.68" fill="#ff3a00"/>
<rect x="414.70" y="22.06" width="9.70" height="9.68" fill="#ff3a00"/>
<rect x="414.70" y="31.34" width="9.70" height="9.68" fill="#ff3300"/>
<rect x="414.70" y="40.62" width="9.70" height="9.68" fill="#ff2400"/>
<rect x="414.70" y="49.90" width="9.70" height="9.68" fill="#ff2400"/>
<rect x="414.70" y="59.18" width="9.70" height="9.68" fill="#ff2c00"/>
<rect x="414.70" y="68.46" width="9.70" height="9.68" fill="#ff6900"/>
<rect x="414.70" y="77.74" width="9.70" height="9.68" fill="#ff8b00"/>
<rect x="414.70" y="87.02" width="9.70" height="9.68" fill="#ffb300"/>
<rect x="414.70" y="96.30" width="9.70" height="9.68" fill="#ffc800"/>
<rect x="414.70" y="105.58" width="9.70" height="5.92" fill="#ffb300"/>
<rect x="424.00" y="6.00" width="9.70" height="7.18" fill="#ff4700"/>
<rect x="424.00" y="12.78" width="9.70" height="9.68" fill="#ff4100"/>
<rect x="424.00" y="22.06" width="9.70" height="9.68" fill="#ff4100"/>
<rect x="424.00" y="31.34" width="9.70" height="9.68" fill="#ff3300"/>
<rect x="424.00" y="40.62" width="9.70" height="9.68" fill="#ff2400"/>
<rect x="424.00" y="49.90" width="9.70" height="9.68" fill="#ff2400"/>
<rect x="424.00" y="59.18" width="9.70" height="9.68" fill="#ff2c00"/>
<rect x="424.00" y="68.46" width="9.70" height="9.68" fill="#ff6900"/>
<rect x="424.00" y="77.74" width="9.70" height="9.68" fill="#ff9000"/>
<rect x="424.00" y="87.02" width="9.70" height="9.68" fill="#ffba00"/>
<rect x="424.00" y="96.30" width="9.70" height="9.68" fill="#ffb300"/>
<rect x="424.00" y="105.58" width="9.70" height="5.92" fill="#ff9600"/>
<rect x="433.30" y="6.00" width="9.70" height="7.18" fill="#ff4700"/>
<rect x="433.30" y="12.78" width="9.70" height="9.68" fill="#ff4700"/>
<rect x="433.30" y="22.06" width="9.70" height="9.68" fill="#ff3a00"/>
<rect x="433.30" y="31.34" width="9.70" height="9.68" fill="#ff2c00"/>
<rect x="433.30" y="40.62" width="9.70" height="9.68" fill="#ff2c00"/>
<rect x="433.30" y="49.90" width="9.70" height="9.68" fill="#ff2400"/>
<rect x="433.30" y="59.18" width="9.70" height="9.68" fill="#ff2c00"/>
<rect x="433.30" y="68.46" width="9.70" height="9.68" fill="#ff5e00"/>
<rect x="433.30" y="77.74" width="9.70" height="9.68" fill="#ff8500"/>
<rect x="433.30" y="87.02" width="9.70" height="9.68" fill="#ffa400"/>
<rect x="433.30" y="96.30" width="9.70" height="9.68" fill="#ff9600"/>
<rect x="433.30" y="105.58" width="9.70" height="5.92" fill="#ff8500"/>
<rect x="442.60" y="6.00" width="9.70" height="7.18" fill="#ff4700"/>
<rect x="442.60" y="12.78" width="9.70" height="9.68" fill="#ff4700"/>
<rect x="442.60" y="22.06" width="9.70" height="9.68" fill="#ff3a00"/>
<rect x="442.60" y="31.34" width="9.70" height="9.68" fill="#ff2c00"/>
<rect x="442.60" y="40.62" width="9.70" height="9.68" fill="#ff1600"/>
<rect x="442.60" y="49.90" width="9.70" height="9.68" fill="#ff1d00"/>
<rect x="442.60" y="59.18" width="9.70" height="9.68" fill="#ff2c00"/>
<rect x="442.60" y="68.46" width="9.70" height="9.68" fill="#ff5200"/>
<rect x="442.60" y="77.74" width="9.70" height="9.68" fill="#ff6900"/>
<rect x="442.60" y="87.02" width="9.70" height="9.68" fill="#ff8500"/>
<rect x="442.60" y="96.30" width="9.70" height="9.68" fill="#ff8000"/>
<rect x="442.60" y="105.58" width="9.70" height="5.92" fill="#ff7400"/>
<rect x="451.90" y="6.00" width="9.70" height="7.18" fill="#ff4100"/>
<rect x="451.90" y="12.78" width="9.70" height="9.68" fill="#ff3a00"/>
<rect x="451.90" y="22.06" width="9.70" height="9.68" fill="#ff2c00"/>
<rect x="451.90" y="31.34" width="9.70" height="9.68" fill="#ff1d00"/>
<rect x="451.90" y="40.62" width="9.70" height="9.68" fill="#ff0d00"/>
<rect x="451.90" y="49.90" width="9.70" height="9.68" fill="#ff1600"/>
<rect x="451.90" y="59.18" width="9.70" height="9.68" fill="#ff2c00"/>
<rect x="451.90" y="68.46" width="9.70" height="9.68" fill="#ff4100"/>
<rect x="451.90" y="77.74" width="9.70" height="9.68" fill="#ff5200"/>
<rect x="451.90" y="87.02" width="9.70" height="9.68" fill="#ff5e00"/>
<rect x="451.90" y="96.30" width="9.70" height="9.68" fill="#ff5e00"/>
<rect x="451.90" y="105.58" width="9.70" height="5.92" fill="#ff5e00"/>
<rect x="461.20" y="6.00" width="9.70" height="7.18" fill="#ff4100"/>
<rect x="461.20" y="12.78" width="9.70" height="9.68" fill="#ff3a00"/>
<rect x="461.20" y="22.06" width="9.70" height="9.68" fill="#ff0d00"/>
<rect x="461.20" y="31.34" width="9.70" height="9.68" fill="#ff0d00"/>
<rect x="461.20" y="40.62" width="9.70" height="9.68" fill="#ff0800"/>
<rect x="461.20" y="49.90" width="9.70" height="9.68" fill="#ff0d00"/>
<rect x="461.20" y="59.18" width="9.70" height="9.68" fill="#ff1d00"/>
<rect x="461.20" y="68.46" width="9.70" height="9.68" fill="#ff3a00"/>
<rect x="461.20" y="77.74" width="9.70" height="9.68" fill="#ff4700"/>
<rect x="461.20" y="87.02" width="9.70" height="9.68" fill="#ff4c00"/>
<rect x="461.20" y="96.30" width="9.70" height="9.68" fill="#ff5200"/>
<rect x="461.20" y="105.58" width="9.70" height="5.92" fill="#ff5200"/>
<rect x="470.50" y="6.00" width="9.70" height="7.18" fill="#ff3a00"/>
<rect x="470.50" y="12.78" width="9.70" height="9.68" fill="#ff2c00"/>
<rect x="470.50" y="22.06" width="9.70" height="9.68" fill="#ff0800"/>
<rect x="470.50" y="31.34" width="9.70" height="9.68" fill="#ff0500"/>
<rect x="470.50" y="40.62" width="9.70" height="9.68" fill="#ff0500"/>
<rect x="470.50" y="49.90" width="9.70" height="9.68" fill="#ff0d00"/>
<rect x="470.50" y="59.18" width="9.70" height="9.68" fill="#ff1100"/>
<rect x="470.50" y="68.46" width="9.70" height="9.68" fill="#ff1d00"/>
<rect x="470.50" y="77.74" width="9.70" height="9.68" fill="#ff3a00"/>
<rect x="470.50" y="87.02" width="9.70" height="9.68" fill="#ff4700"/>
<rect x="470.50" y="96.30" width="9.70" height="9.68" fill="#ff4c00"/>
<rect x="470.50" y="105.58" width="9.70" height="5.92" fill="#ff4c00"/>
<rect x="479.80" y="6.00" width="9.70" height="7.18" fill="#ff3a00"/>
<rect x="479.80" y="12.78" width="9.70" height="9.68" fill="#ff2c00"/>
<rect x="479.80" y="22.06" width="9.70" height="9.68" fill="#ff0500"/>
<rect x="479.80" y="31.34" width="9.70" height="9.68" fill="#ff0300"/>
<rect x="479.80" y="40.62" width="9.70" height="9.68" fill="#ff0300"/>
<rect x="479.80" y="49.90" width="9.70" height="9.68" fill="#ff0800"/>
<rect x="479.80" y="59.18" width="9.70" height="9.68" fill="#ff1100"/>
<rect x="479.80" y="68.46" width="9.70" height="9.68" fill="#ff1d00"/>
<rect x="479.80" y="77.74" width="9.70" height="9.68" fill="#ff2c00"/>
<rect x="479.80" y="87.02" width="9.70" height="9.68" fill="#ff4100"/>
<rect x="479.80" y="96.30" width="9.70" height="9.68" fill="#ff4700"/>
<rect x="479.80" y="105.58" width="9.70" height="5.92" fill="#ff5200"/>
<rect x="489.10" y="6.00" width="9.70" height="7.18" fill="#ff2c00"/>
<rect x="489.10" y="12.78" width="9.70" height="9.68" fill="#ff1d00"/>
<rect x="489.10" y="22.06" width="9.70" height="9.68" fill="#ff0300"/>
<rect x="489.10" y="31.34" width="9.70" height="9.68" fill="#ff0200"/>
<rect x="489.10" y="40.62" width="9.70" height="9.68" fill="#ff0200"/>
<rect x="489.10" y="49.90" width="9.70" height="9.68" fill="#ff0500"/>
<rect x="489.10" y="59.18" width="9.70" height="9.68" fill="#ff0d00"/>
<rect x="489.10" y="68.46" width="9.70" height="9.68" fill="#ff1600"/>
<rect x="489.10" y="77.74" width="9.70" height="9.68" fill="#ff2c00"/>
<rect x="489.10" y="87.02" width="9.70" height="9.68" fill="#ff3a00"/>
<rect x="489.10" y="96.30" width="9.70" height="9.68" fill="#ff4700"/>
<rect x="489.10" y="105.58" width="9.70" height="5.92" fill="#ff4c00"/>
<rect x="498.40" y="6.00" width="9.70" height="7.18" fill="#ff2c00"/>
<rect x="498.40" y="12.78" width="9.70" height="9.68" fill="#ff1d00"/>
<rect x="498.40" y="22.06" width="9.70" height="9.68" fill="#ff0300"/>
<rect x="498.40" y="31.34" width="9.70" height="9.68" fill="#ff0200"/>
<rect x="498.40" y="40.62" width="9.70" height="9.68" fill="#ff0200"/>
<rect x="498.40" y="49.90" width="9.70" height="9.68" fill="#ff0500"/>
<rect x="498.40" y="59.18" width="9.70" height="9.68" fill="#ff0d00"/>
<rect x="498.40" y="68.46" width="9.70" height="9.68" fill="#ff1600"/>
<rect x="498.40" y="77.74" width="9.70" height="9.68" fill="#ff2c00"/>
<rect x="498.40" y="87.02" width="9.70" height="9.68" fill="#ff3a00"/>
<rect x="498.40" y="96.30" width="9.70" height="9.68" fill="#ff4700"/>
<rect x="498.40" y="105.58" width="9.70" height="5.92" fill="#ff4c00"/>
<rect x="507.70" y="6.00" width="9.70" height="7.18" fill="#ff2c00"/>
<rect x="507.70" y="12.78" width="9.70" height="9.68" fill="#ff1d00"/>
<rect x="507.70" y="22.06" width="9.70" height="9.68" fill="#ff0300"/>
<rect x="507.70" y="31.34" width="9.70" height="9.68" fill="#ff0200"/>
<rect x="507.70" y="40.62" width="9.70" height="9.68" fill="#ff0200"/>
<rect x="507.70" y="49.90" width="9.70" height="9.68" fill="#ff0500"/>
<rect x="507.70" y="59.18" width="9.70" height="9.68" fill="#ff0d00"/>
<rect x="507.70" y="68.46" width="9.70" height="9.68" fill="#ff1600"/>
<rect x="507.70" y="77.74" width="9.70" height="9.68" fill="#ff2c00"/>
<rect x="507.70" y="87.02" width="9.70" height="9.68" fill="#ff3a00"/>
<rect x="507.70" y="96.30" width="9.70" height="9.68" fill="#ff4700"/>
<rect x="507.70" y="105.58" width="9.70" height="5.92" fill="#ff4c00"/>
<rect x="517.00" y="6.00" width="9.70" height="7.18" fill="#ff1d00"/>
<rect x="517.00" y="12.78" width="9.70" height="9.68" fill="#ff0800"/>
<rect x="517.00" y="22.06" width="9.70" height="9.68" fill="#ff0200"/>
<rect x="517.00" y="31.34" width="9.70" height="9.68" fill="#ff0000"/>
<rect x="517.00" y="40.62" width="9.70" height="9.68" fill="#ff0000"/>
<rect x="517.00" y="49.90" width="9.70" height="9.68" fill="#ff0300"/>
<rect x="517.00" y="59.18" width="9.70" height="9.68" fill="#ff0800"/>
<rect x="517.00" y="68.46" width="9.70" height="9.68" fill="#ff1600"/>
<rect x="517.00" y="77.74" width="9.70" height="9.68" fill="#ff2c00"/>
<rect x="517.00" y="87.02" width="9.70" height="9.68" fill="#ff4100"/>
<rect x="517.00" y="96.30" width="9.70" height="9.68" fill="#ff4700"/>
<rect x="517.00" y="105.58" width="9.70" height="5.92" fill="#ff5800"/>
<rect x="526.30" y="6.00" width="9.70" height="7.18" fill="#ff1d00"/>
<rect x="526.30" y="12.78" width="9.70" height="9.68" fill="#ff0800"/>
<rect x="526.30" y="22.06" width="9.70" height="9.68" fill="#ff0200"/>
<rect x="526.30" y="31.34" width="9.70" height="9.68" fill="#ff0000"/>
<rect x="526.30" y="40.62" width="9.70" height="9.68" fill="#ff0000"/>
<rect x="526.30" y="49.90" width="9.70" height="9.68" fill="#ff0300"/>
<rect x="526.30" y="59.18" width="9.70" height="9.68" fill="#ff0800"/>
<rect x="526.30" y="68.46" width="9.70" height="9.68" fill="#ff1600"/>
<rect x="526.30" y="77.74" width="9.70" height="9.68" fill="#ff2c00"/>
<rect x="526.30" y="87.02" width="9.70" height="9.68" fill="#ff4100"/>
<rect x="526.30" y="96.30" width="9.70" height="9.68" fill="#ff4700"/>
<rect x="526.30" y="105.58" width="9.70" height="5.92" fill="#ff5800"/>
<rect x="535.60" y="6.00" width="9.70" height="7.18" fill="#ff1d00"/>
<rect x="535.60" y="12.78" width="9.70" height="9.68" fill="#ff0800"/>
<rect x="535.60" y="22.06" width="9.70" height="9.68" fill="#ff0200"/>
<rect x="535.60" y="31.34" width="9.70" height="9.68" fill="#ff0000"/>
<rect x="535.60" y="40.62" width="9.70" height="9.68" fill="#ff0000"/>
<rect x="535.60" y="49.90" width="9.70" height="9.68" fill="#ff0300"/>
<rect x="535.60" y="59.18" width="9.70" height="9.68" fill="#ff0800"/>
<rect x="535.60" y="68.46" width="9.70" height="9.68" fill="#ff1600"/>
<rect x="535.60" y="77.74" width="9.70" height="9.68" fill="#ff2c00"/>
<rect x="535.60" y="87.02" width="9.70" height="9.68" fill="#ff4100"/>
<rect x="535.60" y="96.30" width="9.70" height="9.68" fill="#ff4700"/>
<rect x="535.60" y="105.58" width="9.70" height="5.92" fill="#ff5800"/>
<rect x="544.90" y="6.00" width="9.70" height="7.18" fill="#ff1d00"/>
<rect x="544.90" y="12.78" width="9.70" height="9.68" fill="#ff0800"/>
<rect x="544.90" y="22.06" width="9.70" height="9.68" fill="#ff0200"/>
<rect x="544.90" y="31.34" width="9.70" height="9.68" fill="#ff0000"/>
<rect x="544.90" y="40.62" width="9.70" height="9.68" fill="#ff0000"/>
<rect x="544.90" y="49.90" width="9.70" height="9.68" fill="#ff0300"/>
<rect x="544.90" y="59.18" width="9.70" height="9.68" fill="#ff0800"/>
<rect x="544.90" y="68.46" width="9.70" height="9.68" fill="#ff1600"/>
<rect x="544.90" y="77.74" width="9.70" height="9.68" fill="#ff2c00"/>
<rect x="544.90" y="87.02" width="9.70" height="9.68" fill="#ff4100"/>
<rect x="544.90" y="96.30" width="9.70" height="9.68" fill="#ff4700"/>
<rect x="544.90" y="105.58" width="9.70" height="5.92" fill="#ff5800"/>
<rect x="554.20" y="6.00" width="9.70" height="7.18" fill="#ff2c00"/>
<rect x="554.20" y="12.78" width="9.70" height="9.68" fill="#ff0d00"/>
<rect x="554.20" y="22.06" width="9.70" height="9.68" fill="#ff0200"/>
<rect x="554.20" y="31.34" width="9.70" height="9.68" fill="#ff0200"/>
<rect x="554.20" y="40.62" width="9.70" height="9.68" fill="#ff0300"/>
<rect x="554.20" y="49.90" width="9.70" height="9.68" fill="#ff0500"/>
<rect x="554.20" y="59.18" width="9.70" height="9.68" fill="#ff0800"/>
<rect x="554.20" y="68.46" width="9.70" height="9.68" fill="#ff1d00"/>
<rect x="554.20" y="77.74" width="9.70" height="9.68" fill="#ff3a00"/>
<rect x="554.20" y="87.02" width="9.70" height="9.68" fill="#ff4700"/>
<rect x="554.20" y="96.30" width="9.70" height="9.68" fill="#ff4c00"/>
<rect x="554.20" y="105.58" width="9.70" height="5.92" fill="#ff5e00"/>
<rect x="563.50" y="6.00" width="9.70" height="7.18" fill="#ff3a00"/>
<rect x="563.50" y="12.78" width="9.70" height="9.68" fill="#ff1600"/>
<rect x="563.50" y="22.06" width="9.70" height="9.68" fill="#ff0500"/>
<rect x="563.50" y="31.34" width="9.70" height="9.68" fill="#ff0500"/>
<rect x="563.50" y="40.62" width="9.70" height="9.68" fill="#ff0800"/>
<rect x="563.50" y="49.90" width="9.70" height="9.68" fill="#ff0d00"/>
<rect x="563.50" y="59.18" width="9.70" height="9.68" fill="#ff1100"/>
<rect x="563.50" y="68.46" width="9.70" height="9.68" fill="#ff2c00"/>
<rect x="563.50" y="77.74" width="9.70" height="9.68" fill="#ff4100"/>
<rect x="563.50" y="87.02" width="9.70" height="9.68" fill="#ff4700"/>
<rect x="563.50" y="96.30" width="9.70" height="9.68" fill="#ff4c00"/>
<rect x="563.50" y="105.58" width="9.70" height="5.92" fill="#ff5e00"/>
<rect x="572.80" y="6.00" width="9.70" height="7.18" fill="#ff4700"/>
<rect x="572.80" y="12.78" width="9.70" height="9.68" fill="#ff3a00"/>
<rect x="572.80" y="22.06" width="9.70" height="9.68" fill="#ff2c00"/>
<rect x="572.80" y="31.34" width="9.70" height="9.68" fill="#ff2c00"/>
<rect x="572.80" y="40.62" width="9.70" height="9.68" fill="#ff2c00"/>
<rect x="572.80" y="49.90" width="9.70" height="9.68" fill="#ff2c00"/>
<rect x="572.80" y="59.18" width="9.70" height="9.68" fill="#ff2c00"/>
<rect x="572.80" y="68.46" width="9.70" height="9.68" fill="#ff3a00"/>
<rect x="572.80" y="77.74" width="9.70" height="9.68" fill="#ff4700"/>
<rect x="572.80" y="87.02" width="9.70" height="9.68" fill="#ff4c00"/>
<rect x="572.80" y="96.30" width="9.70" height="9.68" fill="#ff5200"/>
<rect x="572.80" y="105.58" width="9.70" height="5.92" fill="#ff5e00"/>
<rect x="582.10" y="6.00" width="9.70" height="7.18" fill="#ff4c00"/>
<rect x="582.10" y="12.78" width="9.70" height="9.68" fill="#ff4100"/>
<rect x="582.10" y="22.06" width="9.70" height="9.68" fill="#ff3a00"/>
<rect x="582.10" y="31.34" width="9.70" height="9.68" fill="#ff3a00"/>
<rect x="582.10" y="40.62" width="9.70" height="9.68" fill="#ff4100"/>
<rect x="582.10" y="49.90" width="9.70" height="9.68" fill="#ff4100"/>
<rect x="582.10" y="59.18" width="9.70" height="9.68" fill="#ff4100"/>
<rect x="582.10" y="68.46" width="9.70" height="9.68" fill="#ff4700"/>
<rect x="582.10" y="77.74" width="9.70" height="9.68" fill="#ff4c00"/>
<rect x="582.10" y="87.02" width="9.70" height="9.68" fill="#ff4c00"/>
<rect x="582.10" y="96.30" width="9.70" height="9.68" fill="#ff5800"/>
<rect x="582.10" y="105.58" width="9.70" height="5.92" fill="#ff5e00"/>
<rect x="591.40" y="6.00" width="9.70" height="7.18" fill="#ff4c00"/>
<rect x="591.40" y="12.78" width="9.70" height="9.68" fill="#ff4700"/>
<rect x="591.40" y="22.06" width="9.70" height="9.68" fill="#ff4100"/>
<rect x="591.40" y="31.34" width="9.70" height="9.68" fill="#ff4100"/>
<rect x="591.40" y="40.62" width="9.70" height="9.68" fill="#ff4700"/>
<rect x="591.40" y="49.90" width="9.70" height="9.68" fill="#ff4700"/>
<rect x="591.40" y="59.18" width="9.70" height="9.68" fill="#ff4700"/>
<rect x="591.40" y="68.46" width="9.70" height="9.68" fill="#ff4c00"/>
<rect x="591.40" y="77.74" width="9.70" height="9.68" fill="#ff4c00"/>
<rect x="591.40" y="87.02" width="9.70" height="9.68" fill="#ff4c00"/>
<rect x="591.40" y="96.30" width="9.70" height="9.68" fill="#ff5800"/>
<rect x="591.40" y="105.58" width="9.70" height="5.92" fill="#ff5e00"/>
<rect x="600.70" y="6.00" width="9.70" height="7.18" fill="#ff5200"/>
<rect x="600.70" y="12.78" width="9.70" height="9.68" fill="#ff4c00"/>
<rect x="600.70" y="22.06" width="9.70" height="9.68" fill="#ff4700"/>
<rect x="600.70" y="31.34" width="9.70" height="9.68" fill="#ff4700"/>
<rect x="600.70" y="40.62" width="9.70" height="9.68" fill="#ff4c00"/>
<rect x="600.70" y="49.90" width="9.70" height="9.68" fill="#ff4c00"/>
<rect x="600.70" y="59.18" width="9.70" height="9.68" fill="#ff4c00"/>
<rect x="600.70" y="68.46" width="9.70" height="9.68" fill="#ff4c00"/>
<rect x="600.70" y="77.74" width="9.70" height="9.68" fill="#ff4c00"/>
<rect x="600.70" y="87.02" width="9.70" height="9.68" fill="#ff4c00"/>
<rect x="600.70" y="96.30" width="9.70" height="9.68" fill="#ff5800"/>
<rect x="600.70" y="105.58" width="9.70" height="5.92" fill="#ff5e00"/>
<rect x="610.00" y="6.00" width="9.70" height="7.18" fill="#ff5200"/>
<rect x="610.00" y="12.78" width="9.70" height="9.68" fill="#ff4c00"/>
<rect x="610.00" y="22.06" width="9.70" height="9.68" fill="#ff4c00"/>
<rect x="610.00" y="31.34" width="9.70" height="9.68" fill="#ff4c00"/>
<rect x="610.00" y="40.62" width="9.70" height="9.68" fill="#ff4c00"/>
<rect x="610.00" y="49.90" width="9.70" height="9.68" fill="#ff4c00"/>
<rect x="610.00" y="59.18" width="9.70" height="9.68" fill="#ff5200"/>
<rect x="610.00" y="68.46" width="9.70" height="9.68" fill="#ff5200"/>
<rect x="610.00" y="77.74" width="9.70" height="9.68" fill="#ff5200"/>
<rect x="610.00" y="87.02" width="9.70" height="9.68" fill="#ff5200"/>
<rect x="610.00" y="96.30" width="9.70" height="9.68" fill="#ff5e00"/>
<rect x="610.00" y="105.58" width="9.70" height="5.92" fill="#ff6900"/>
<rect x="619.30" y="6.00" width="9.70" height="7.18" fill="#ff5800"/>
<rect x="619.30" y="12.78" width="9.70" height="9.68" fill="#ff5200"/>
<rect x="619.30" y="22.06" width="9.70" height="9.68" fill="#ff5200"/>
<rect x="619.30" y="31.34" width="9.70" height="9.68" fill="#ff5200"/>
<rect x="619.30" y="40.62" width="9.70" height="9.68" fill="#ff5200"/>
<rect x="619.30" y="49.90" width="9.70" height="9.68" fill="#ff5200"/>
<rect x="619.30" y="59.18" width="9.70" height="9.68" fill="#ff5200"/>
<rect x="619.30" y="68.46" width="9.70" height="9.68" fill="#ff5e00"/>
<rect x="619.30" y="77.74" width="9.70" height="9.68" fill="#ff5e00"/>
<rect x="619.30" y="87.02" width="9.70" height="9.68" fill="#ff6900"/>
<rect x="619.30" y="96.30" width="9.70" height="9.68" fill="#ff7400"/>
<rect x="619.30" y="105.58" width="9.70" height="5.92" fill="#ff7400"/>
<rect x="628.60" y="6.00" width="9.70" height="7.18" fill="#ff6f00"/>
<rect x="628.60" y="12.78" width="9.70" height="9.68" fill="#ff6300"/>
<rect x="628.60" y="22.06" width="9.70" height="9.68" fill="#ff6900"/>
<rect x="628.60" y="31.34" width="9.70" height="9.68" fill="#ff6900"/>
<rect x="628.60" y="40.62" width="9.70" height="9.68" fill="#ff6900"/>
<rect x="628.60" y="49.90" width="9.70" height="9.68" fill="#ff6900"/>
<rect x="628.60" y="59.18" width="9.70" height="9.68" fill="#ff6900"/>
<rect x="628.60" y="68.46" width="9.70" height="9.68" fill="#ff8500"/>
<rect x="628.60" y="77.74" width="9.70" height="9.68" fill="#ff9600"/>
<rect x="628.60" y="87.02" width="9.70" height="9.68" fill="#ff9600"/>
<rect x="628.60" y="96.30" width="9.70" height="9.68" fill="#ff9600"/>
<rect x="628.60" y="105.58" width="9.70" height="5.92" fill="#ffa400"/>
<rect x="637.90" y="6.00" width="9.70" height="7.18" fill="#ff8500"/>
<rect x="637.90" y="12.78" width="9.70" height="9.68" fill="#ff7400"/>
<rect x="637.90" y="22.06" width="9.70" height="9.68" fill="#ff7400"/>
<rect x="637.90" y="31.34" width="9.70" height="9.68" fill="#ff7400"/>
<rect x="637.90" y="40.62" width="9.70" height="9.68" fill="#ff7400"/>
<rect x="637.90" y="49.90" width="9.70" height="9.68" fill="#ff7400"/>
<rect x="637.90" y="59.18" width="9.70" height="9.68" fill="#ff8500"/>
<rect x="637.90" y="68.46" width="9.70" height="9.68" fill="#ffdd00"/>
<rect x="637.90" y="77.74" width="9.70" height="9.68" fill="#ffe500"/>
<rect x="637.90" y="87.02" width="9.70" height="9.68" fill="#ffec00"/>
<rect x="637.90" y="96.30" width="9.70" height="9.68" fill="#ffec00"/>
<rect x="637.90" y="105.58" width="9.70" height="5.92" fill="#ffec00"/>
<rect x="647.20" y="6.00" width="9.70" height="7.18" fill="#ffa400"/>
<rect x="647.20" y="12.78" width="9.70" height="9.68" fill="#ffb300"/>
<rect x="647.20" y="22.06" width="9.70" height="9.68" fill="#ff9600"/>
<rect x="647.20" y="31.34" width="9.70" height="9.68" fill="#ffa400"/>
<rect x="647.20" y="40.62" width="9.70" height="9.68" fill="#ffb300"/>
<rect x="647.20" y="49.90" width="9.70" height="9.68" fill="#ffec00"/>
<rect x="647.20" y="59.18" width="9.70" height="9.68" fill="#f8fa10"/>
<rect x="647.20" y="68.46" width="9.70" height="9.68" fill="#d4fa5c"/>
<rect x="647.20" y="77.74" width="9.70" height="9.68" fill="#c3fa73"/>
<rect x="647.20" y="87.02" width="9.70" height="9.68" fill="#c3fa73"/>
<rect x="647.20" y="96.30" width="9.70" height="9.68" fill="#d4fa5c"/>
<rect x="647.20" y="105.58" width="9.70" height="5.92" fill="#dcfa50"/>
<rect x="656.50" y="6.00" width="9.70" height="7.18" fill="#ffdd00"/>
<rect x="656.50" y="12.78" width="9.70" height="9.68" fill="#ffb300"/>
<rect x="656.50" y="22.06" width="9.70" height="9.68" fill="#ffa400"/>
<rect x="656.50" y="31.34" width="9.70" height="9.68" fill="#ffc800"/>
<rect x="656.50" y="40.62" width="9.70" height="9.68" fill="#ffec00"/>
<rect x="656.50" y="49.90" width="9.70" height="9.68" fill="#eafa30"/>
<rect x="656.50" y="59.18" width="9.70" height="9.68" fill="#b2fa8a"/>
<rect x="656.50" y="68.46" width="9.70" height="9.68" fill="#99faa7"/>
<rect x="656.50" y="77.74" width="9.70" height="9.68" fill="#88fab8"/>
<rect x="656.50" y="87.02" width="9.70" height="9.68" fill="#88fab8"/>
<rect x="656.50" y="96.30" width="9.70" height="9.68" fill="#aafa96"/>
<rect x="656.50" y="105.58" width="9.70" height="5.92" fill="#c3fa73"/>
<rect x="665.80" y="6.00" width="9.70" height="7.18" fill="#ffec00"/>
<rect x="665.80" y="12.78" width="9.70" height="9.68" fill="#ffb300"/>
<rect x="665.80" y="22.06" width="9.70" height="9.68" fill="#ffb300"/>
<rect x="665.80" y="31.34" width="9.70" height="9.68" fill="#ffc800"/>
<rect x="665.80" y="40.62" width="9.70" height="9.68" fill="#ffec00"/>
<rect x="665.80" y="49.90" width="9.70" height="9.68" fill="#d4fa5c"/>
<rect x="665.80" y="59.18" width="9.70" height="9.68" fill="#99faa7"/>
<rect x="665.80" y="68.46" width="9.70" height="9.68" fill="#6efad2"/>
<rect x="665.80" y="77.74" width="9.70" height="9.68" fill="#57f7df"/>
<rect x="665.80" y="87.02" width="9.70" height="9.68" fill="#6efad2"/>
<rect x="665.80" y="96.30" width="9.70" height="9.68" fill="#99faa7"/>
<rect x="665.80" y="105.58" width="9.70" height="5.92" fill="#b2fa8a"/>
<rect x="675.10" y="6.00" width="9.70" height="7.18" fill="#ffec00"/>
<rect x="675.10" y="12.78" width="9.70" height="9.68" fill="#ffc800"/>
<rect x="675.10" y="22.06" width="9.70" height="9.68" fill="#ffb300"/>
<rect x="675.10" y="31.34" width="9.70" height="9.68" fill="#ffb300"/>
<rect x="675.10" y="40.62" width="9.70" height="9.68" fill="#ffec00"/>
<rect x="675.10" y="49.90" width="9.70" height="9.68" fill="#c3fa73"/>
<rect x="675.10" y="59.18" width="9.70" height="9.68" fill="#7ffac1"/>
<rect x="675.10" y="68.46" width="9.70" height="9.68" fill="#35f3f2"/>
<rect x="675.10" y="77.74" width="9.70" height="9.68" fill="#35f3f2"/>
<rect x="675.10" y="87.02" width="9.70" height="9.68" fill="#57f7df"/>
<rect x="675.10" y="96.30" width="9.70" height="9.68" fill="#7ffac1"/>
<rect x="675.10" y="105.58" width="9.70" height="5.92" fill="#99faa7"/>
<rect x="684.40" y="6.00" width="9.70" height="7.18" fill="#ffec00"/>
<rect x="684.40" y="12.78" width="9.70" height="9.68" fill="#ffc800"/>
<rect x="684.40" y="22.06" width="9.70" height="9.68" fill="#ffb300"/>
<rect x="684.40" y="31.34" width="9.70" height="9.68" fill="#ffa400"/>
<rect x="684.40" y="40.62" width="9.70" height="9.68" fill="#ffc800"/>
<rect x="684.40" y="49.90" width="9.70" height="9.68" fill="#c3fa73"/>
<rect x="684.40" y="59.18" width="9.70" height="9.68" fill="#6efad2"/>
<rect x="684.40" y="68.46" width="9.70" height="9.68" fill="#1ef0ff"/>
<rect x="684.40" y="77.74" width="9.70" height="9.68" fill="#20e8ff"/>
<rect x="684.40" y="87.02" width="9.70" height="9.68" fill="#1ef0ff"/>
<rect x="684.40" y="96.30" width="9.70" height="9.68" fill="#6efad2"/>
<rect x="684.40" y="105.58" width="9.70" height="5.92" fill="#7ffac1"/>
<rect x="693.70" y="6.00" width="9.70" height="7.18" fill="#ffb300"/>
<rect x="693.70" y="12.78" width="9.70" height="9.68" fill="#ffa400"/>
<rect x="693.70" y="22.06" width="9.70" height="9.68" fill="#ffa400"/>
<rect x="693.70" y="31.34" width="9.70" height="9.68" fill="#ff9600"/>
<rect x="693.70" y="40.62" width="9.70" height="9.68" fill="#ffdd00"/>
<rect x="693.70" y="49.90" width="9.70" height="9.68" fill="#b2fa8a"/>
<rect x="693.70" y="59.18" width="9.70" height="9.68" fill="#57f7df"/>
<rect x="693.70" y="68.46" width="9.70" height="9.68" fill="#20e8ff"/>
<rect x="693.70" y="77.74" width="9.70" height="9.68" fill="#26d7ff"/>
<rect x="693.70" y="87.02" width="9.70" height="9.68" fill="#1ef0ff"/>
<rect x="693.70" y="96.30" width="9.70" height="9.68" fill="#57f7df"/>
<rect x="693.70" y="105.58" width="9.70" height="5.92" fill="#6efad2"/>
<rect x="703.00" y="6.00" width="9.70" height="7.18" fill="#ff9600"/>
<rect x="703.00" y="12.78" width="9.70" height="9.68" fill="#ff9600"/>
<rect x="703.00" y="22.06" width="9.70" height="9.68" fill="#ff9000"/>
<rect x="703.00" y="31.34" width="9.70" height="9.68" fill="#ffa400"/>
<rect x="703.00" y="40.62" width="9.70" height="9.68" fill="#ffec00"/>
<rect x="703.00" y="49.90" width="9.70" height="9.68" fill="#99faa7"/>
<rect x="703.00" y="59.18" width="9.70" height="9.68" fill="#35f3f2"/>
<rect x="703.00" y="68.46" width="9.70" height="9.68" fill="#26d7ff"/>
<rect x="703.00" y="77.74" width="9.70" height="9.68" fill="#26d7ff"/>
<rect x="703.00" y="87.02" width="9.70" height="9.68" fill="#1ef0ff"/>
<rect x="703.00" y="96.30" width="9.70" height="9.68" fill="#35f3f2"/>
<rect x="703.00" y="105.58" width="9.70" height="5.92" fill="#57f7df"/>
<rect x="712.30" y="6.00" width="9.70" height="7.18" fill="#ff8500"/>
<rect x="712.30" y="12.78" width="9.70" height="9.68" fill="#ff8500"/>
<rect x="712.30" y="22.06" width="9.70" height="9.68" fill="#ff9600"/>
<rect x="712.30" y="31.34" width="9.70" height="9.68" fill="#ffb300"/>
<rect x="712.30" y="40.62" width="9.70" height="9.68" fill="#fffa00"/>
<rect x="712.30" y="49.90" width="9.70" height="9.68" fill="#7ffac1"/>
<rect x="712.30" y="59.18" width="9.70" height="9.68" fill="#1ef0ff"/>
<rect x="712.30" y="68.46" width="9.70" height="9.68" fill="#2ac6ff"/>
<rect x="712.30" y="77.74" width="9.70" height="9.68" fill="#2ac6ff"/>
<rect x="712.30" y="87.02" width="9.70" height="9.68" fill="#26d7ff"/>
<rect x="712.30" y="96.30" width="9.70" height="9.68" fill="#1ef0ff"/>
<rect x="712.30" y="105.58" width="9.70" height="5.92" fill="#35f3f2"/>
<rect x="721.60" y="6.00" width="9.70" height="7.18" fill="#ff8000"/>
<rect x="721.60" y="12.78" width="9.70" height="9.68" fill="#ff8500"/>
<rect x="721.60" y="22.06" width="9.70" height="9.68" fill="#ffa400"/>
<rect x="721.60" y="31.34" width="9.70" height="9.68" fill="#ffec00"/>
<rect x="721.60" y="40.62" width="9.70" height="9.68" fill="#c3fa73"/>
<rect x="721.60" y="49.90" width="9.70" height="9.68" fill="#57f7df"/>
<rect x="721.60" y="59.18" width="9.70" height="9.68" fill="#26d7ff"/>
<rect x="721.60" y="68.46" width="9.70" height="9.68" fill="#30adff"/>
<rect x="721.60" y="77.74" width="9.70" height="9.68" fill="#30adff"/>
<rect x="721.60" y="87.02" width="9.70" height="9.68" fill="#2dbeff"/>
<rect x="721.60" y="96.30" width="9.70" height="9.68" fill="#26d7ff"/>
<rect x="721.60" y="105.58" width="9.70" height="5.92" fill="#1ef0ff"/>
<rect x="730.90" y="6.00" width="9.70" height="7.18" fill="#ff8000"/>
<rect x="730.90" y="12.78" width="9.70" height="9.68" fill="#ff9000"/>
<rect x="730.90" y="22.06" width="9.70" height="9.68" fill="#ffb300"/>
<rect x="730.90" y="31.34" width="9.70" height="9.68" fill="#fffa00"/>
<rect x="730.90" y="40.62" width="9.70" height="9.68" fill="#a1fa9f"/>
<rect x="730.90" y="49.90" width="9.70" height="9.68" fill="#1ef0ff"/>
<rect x="730.90" y="59.18" width="9.70" height="9.68" fill="#2dbeff"/>
<rect x="730.90" y="68.46" width="9.70" height="9.68" fill="#3493ff"/>
<rect x="730.90" y="77.74" width="9.70" height="9.68" fill="#3493ff"/>
<rect x="730.90" y="87.02" width="9.70" height="9.68" fill="#31a4ff"/>
<rect x="730.90" y="96.30" width="9.70" height="9.68" fill="#2dbeff"/>
<rect x="730.90" y="105.58" width="9.70" height="5.92" fill="#26d7ff"/>
<rect x="740.20" y="6.00" width="9.70" height="7.18" fill="#ff8000"/>
<rect x="740.20" y="12.78" width="9.70" height="9.68" fill="#ff9600"/>
<rect x="740.20" y="22.06" width="9.70" height="9.68" fill="#ffc800"/>
<rect x="740.20" y="31.34" width="9.70" height="9.68" fill="#f8fa10"/>
<rect x="740.20" y="40.62" width="9.70" height="9.68" fill="#88fab8"/>
<rect x="740.20" y="49.90" width="9.70" height="9.68" fill="#26d7ff"/>
<rect x="740.20" y="59.18" width="9.70" height="9.68" fill="#30adff"/>
<rect x="740.20" y="68.46" width="9.70" height="9.68" fill="#3782ff"/>
<rect x="740.20" y="77.74" width="9.70" height="9.68" fill="#3782ff"/>
<rect x="740.20" y="87.02" width="9.70" height="9.68" fill="#3493ff"/>
<rect x="740.20" y="96.30" width="9.70" height="9.68" fill="#31a4ff"/>
<rect x="740.20" y="105.58" width="9.70" height="5.92" fill="#2eb5ff"/>
<rect x="749.50" y="6.00" width="9.70" height="7.18" fill="#ff8000"/>
<rect x="749.50" y="12.78" width="9.70" height="9.68" fill="#ff9600"/>
<rect x="749.50" y="22.06" width="9.70" height="9.68" fill="#ffd600"/>
<rect x="749.50" y="31.34" width="9.70" height="9.68" fill="#eafa30"/>
<rect x="749.50" y="40.62" width="9.70" height="9.68" fill="#7ffac1"/>
<rect x="749.50" y="49.90" width="9.70" height="9.68" fill="#2ac6ff"/>
<rect x="749.50" y="59.18" width="9.70" height="9.68" fill="#3493ff"/>
<rect x="749.50" y="68.46" width="9.70" height="9.68" fill="#3374ff"/>
<rect x="749.50" y="77.74" width="9.70" height="9.68" fill="#3374ff"/>
<rect x="749.50" y="87.02" width="9.70" height="9.68" fill="#3374ff"/>
<rect x="749.50" y="96.30" width="9.70" height="9.68" fill="#3782ff"/>
<rect x="749.50" y="105.58" width="9.70" height="5.92" fill="#3493ff"/>
<rect x="758.80" y="6.00" width="9.70" height="7.18" fill="#ff9600"/>
<rect x="758.80" y="12.78" width="9.70" height="9.68" fill="#ffc100"/>
<rect x="758.80" y="22.06" width="9.70" height="9.68" fill="#ffec00"/>
<rect x="758.80" y="31.34" width="9.70" height="9.68" fill="#d4fa5c"/>
<rect x="758.80" y="40.62" width="9.70" height="9.68" fill="#6efad2"/>
<rect x="758.80" y="49.90" width="9.70" height="9.68" fill="#2dbeff"/>
<rect x="758.80" y="59.18" width="9.70" height="9.68" fill="#3782ff"/>
<rect x="758.80" y="68.46" width="9.70" height="9.68" fill="#316dff"/>
<rect x="758.80" y="77.74" width="9.70" height="9.68" fill="#2f66ff"/>
<rect x="758.80" y="87.02" width="9.70" height="9.68" fill="#2f66ff"/>
<rect x="758.80" y="96.30" width="9.70" height="9.68" fill="#3374ff"/>
<rect x="758.80" y="105.58" width="9.70" height="5.92" fill="#3782ff"/>
<rect x="768.10" y="6.00" width="9.70" height="7.18" fill="#ffc800"/>
<rect x="768.10" y="12.78" width="9.70" height="9.68" fill="#ffec00"/>
<rect x="768.10" y="22.06" width="9.70" height="9.68" fill="#eafa30"/>
<rect x="768.10" y="31.34" width="9.70" height="9.68" fill="#b2fa8a"/>
<rect x="768.10" y="40.62" width="9.70" height="9.68" fill="#40f4ec"/>
<rect x="768.10" y="49.90" width="9.70" height="9.68" fill="#2eb5ff"/>
<rect x="768.10" y="59.18" width="9.70" height="9.68" fill="#3782ff"/>
<rect x="768.10" y="68.46" width="9.70" height="9.68" fill="#2f66ff"/>
<rect x="768.10" y="77.74" width="9.70" height="9.68" fill="#2d5fff"/>
<rect x="768.10" y="87.02" width="9.70" height="9.68" fill="#2d5fff"/>
<rect x="768.10" y="96.30" width="9.70" height="9.68" fill="#2f66ff"/>
<rect x="768.10" y="105.58" width="9.70" height="5.92" fill="#316dff"/>
<rect x="777.40" y="6.00" width="9.70" height="7.18" fill="#eafa30"/>
<rect x="777.40" y="12.78" width="9.70" height="9.68" fill="#d4fa5c"/>
<rect x="777.40" y="22.06" width="9.70" height="9.68" fill="#c3fa73"/>
<rect x="777.40" y="31.34" width="9.70" height="9.68" fill="#57f7df"/>
<rect x="777.40" y="40.62" width="9.70" height="9.68" fill="#26d7ff"/>
<rect x="777.40" y="49.90" width="9.70" height="9.68" fill="#31a4ff"/>
<rect x="777.40" y="59.18" width="9.70" height="9.68" fill="#3374ff"/>
<rect x="777.40" y="68.46" width="9.70" height="9.68" fill="#2d5fff"/>
<rect x="777.40" y="77.74" width="9.70" height="9.68" fill="#2b58ff"/>
<rect x="777.40" y="87.02" width="9.70" height="9.68" fill="#2b58ff"/>
<rect x="777.40" y="96.30" width="9.70" height="9.68" fill="#2d5fff"/>
<rect x="777.40" y="105.58" width="9.70" height="5.92" fill="#2d5fff"/>
<rect x="786.70" y="6.00" width="9.70" height="7.18" fill="#7ffac1"/>
<rect x="786.70" y="12.78" width="9.70" height="9.68" fill="#7ffac1"/>
<rect x="786.70" y="22.06" width="9.70" height="9.68" fill="#40f4ec"/>
<rect x="786.70" y="31.34" width="9.70" height="9.68" fill="#26d7ff"/>
<rect x="786.70" y="40.62" width="9.70" height="9.68" fill="#31a4ff"/>
<rect x="786.70" y="49.90" width="9.70" height="9.68" fill="#3782ff"/>
<rect x="786.70" y="59.18" width="9.70" height="9.68" fill="#316dff"/>
<rect x="786.70" y="68.46" width="9.70" height="9.68" fill="#2b58ff"/>
<rect x="786.70" y="77.74" width="9.70" height="9.68" fill="#2951ff"/>
<rect x="786.70" y="87.02" width="9.70" height="9.68" fill="#2951ff"/>
<rect x="786.70" y="96.30" width="9.70" height="9.68" fill="#2951ff"/>
<rect x="786.70" y="105.58" width="9.70" height="5.92" fill="#2951ff"/>
<rect x="796.00" y="6.00" width="9.70" height="7.18" fill="#1ef0ff"/>
<rect x="796.00" y="12.78" width="9.70" height="9.68" fill="#2ac6ff"/>
<rect x="796.00" y="22.06" width="9.70" height="9.68" fill="#31a4ff"/>
<rect x="796.00" y="31.34" width="9.70" height="9.68" fill="#368bff"/>
<rect x="796.00" y="40.62" width="9.70" height="9.68" fill="#357bff"/>
<rect x="796.00" y="49.90" width="9.70" height="9.68" fill="#2f66ff"/>
<rect x="796.00" y="59.18" width="9.70" height="9.68" fill="#2951ff"/>
<rect x="796.00" y="68.46" width="9.70" height="9.68" fill="#2543ff"/>
<rect x="796.00" y="77.74" width="9.70" height="9.68" fill="#2543ff"/>
<rect x="796.00" y="87.02" width="9.70" height="9.68" fill="#2543ff"/>
<rect x="796.00" y="96.30" width="9.70" height="9.68" fill="#233cff"/>
<rect x="796.00" y="105.58" width="9.70" height="5.92" fill="#233cff"/>
<rect x="805.30" y="6.00" width="9.70" height="7.18" fill="#31a4ff"/>
<rect x="805.30" y="12.78" width="9.70" height="9.68" fill="#368bff"/>
<rect x="805.30" y="22.06" width="9.70" height="9.68" fill="#3374ff"/>
<rect x="805.30" y="31.34" width="9.70" height="9.68" fill="#2f66ff"/>
<rect x="805.30" y="40.62" width="9.70" height="9.68" fill="#2d5fff"/>
<rect x="805.30" y="49.90" width="9.70" height="9.68" fill="#2951ff"/>
<rect x="805.30" y="59.18" width="9.70" height="9.68" fill="#274aff"/>
<rect x="805.30" y="68.46" width="9.70" height="9.68" fill="#233cff"/>
<rect x="805.30" y="77.74" width="9.70" height="9.68" fill="#2136ff"/>
<rect x="805.30" y="87.02" width="9.70" height="9.68" fill="#2136ff"/>
<rect x="805.30" y="96.30" width="9.70" height="9.68" fill="#1f30ff"/>
<rect x="805.30" y="105.58" width="9.70" height="5.92" fill="#1f30ff"/>
<rect x="814.60" y="6.00" width="9.70" height="7.18" fill="#3782ff"/>
<rect x="814.60" y="12.78" width="9.70" height="9.68" fill="#316dff"/>
<rect x="814.60" y="22.06" width="9.70" height="9.68" fill="#2f66ff"/>
<rect x="814.60" y="31.34" width="9.70" height="9.68" fill="#2b58ff"/>
<rect x="814.60" y="40.62" width="9.70" height="9.68" fill="#2951ff"/>
<rect x="814.60" y="49.90" width="9.70" height="9.68" fill="#2543ff"/>
<rect x="814.60" y="59.18" width="9.70" height="9.68" fill="#233cff"/>
<rect x="814.60" y="68.46" width="9.70" height="9.68" fill="#1f30ff"/>
<rect x="814.60" y="77.74" width="9.70" height="9.68" fill="#1f30ff"/>
<rect x="814.60" y="87.02" width="9.70" height="9.68" fill="#1d2aff"/>
<rect x="814.60" y="96.30" width="9.70" height="9.68" fill="#1b24ff"/>
<rect x="814.60" y="105.58" width="9.70" height="5.92" fill="#1b24ff"/>
<rect x="823.90" y="6.00" width="9.70" height="7.18" fill="#2951ff"/>
<rect x="823.90" y="12.78" width="9.70" height="9.68" fill="#274aff"/>
<rect x="823.90" y="22.06" width="9.70" height="9.68" fill="#233cff"/>
<rect x="823.90" y="31.34" width="9.70" height="9.68" fill="#1f30ff"/>
<rect x="823.90" y="40.62" width="9.70" height="9.68" fill="#1f30ff"/>
<rect x="823.90" y="49.90" width="9.70" height="9.68" fill="#1d2aff"/>
<rect x="823.90" y="59.18" width="9.70" height="9.68" fill="#1d2aff"/>
<rect x="823.90" y="68.46" width="9.70" height="9.68" fill="#1b24ff"/>
<rect x="823.90" y="77.74" width="9.70" height="9.68" fill="#191eff"/>
<rect x="823.90" y="87.02" width="9.70" height="9.68" fill="#191eff"/>
<rect x="823.90" y="96.30" width="9.70" height="9.68" fill="#191eff"/>
<rect x="823.90" y="105.58" width="9.70" height="5.92" fill="#191eff"/>
<rect x="833.20" y="6.00" width="9.70" height="7.18" fill="#274aff"/>
<rect x="833.20" y="12.78" width="9.70" height="9.68" fill="#233cff"/>
<rect x="833.20" y="22.06" width="9.70" height="9.68" fill="#1f30ff"/>
<rect x="833.20" y="31.34" width="9.70" height="9.68" fill="#1d2aff"/>
<rect x="833.20" y="40.62" width="9.70" height="9.68" fill="#1b24ff"/>
<rect x="833.20" y="49.90" width="9.70" height="9.68" fill="#1b24ff"/>
<rect x="833.20" y="59.18" width="9.70" height="9.68" fill="#1b24ff"/>
<rect x="833.20" y="68.46" width="9.70" height="9.68" fill="#191eff"/>
<rect x="833.20" y="77.74" width="9.70" height="9.68" fill="#171aff"/>
<rect x="833.20" y="87.02" width="9.70" height="9.68" fill="#171aff"/>
<rect x="833.20" y="96.30" width="9.70" height="9.68" fill="#171aff"/>
<rect x="833.20" y="105.58" width="9.70" height="5.92" fill="#171aff"/>
<rect x="842.50" y="6.00" width="9.70" height="7.18" fill="#274aff"/>
<rect x="842.50" y="12.78" width="9.70" height="9.68" fill="#233cff"/>
<rect x="842.50" y="22.06" width="9.70" height="9.68" fill="#1f30ff"/>
<rect x="842.50" y="31.34" width="9.70" height="9.68" fill="#1d2aff"/>
<rect x="842.50" y="40.62" width="9.70" height="9.68" fill="#191eff"/>
<rect x="842.50" y="49.90" width="9.70" height="9.68" fill="#191eff"/>
<rect x="842.50" y="59.18" width="9.70" height="9.68" fill="#191eff"/>
<rect x="842.50" y="68.46" width="9.70" height="9.68" fill="#171aff"/>
<rect x="842.50" y="77.74" width="9.70" height="9.68" fill="#171aff"/>
<rect x="842.50" y="87.02" width="9.70" height="9.68" fill="#171aff"/>
<rect x="842.50" y="96.30" width="9.70" height="9.68" fill="#171aff"/>
<rect x="842.50" y="105.58" width="9.70" height="5.92" fill="#171aff"/>
<rect x="851.80" y="6.00" width="9.70" height="7.18" fill="#274aff"/>
<rect x="851.80" y="12.78" width="9.70" height="9.68" fill="#233cff"/>
<rect x="851.80" y="22.06" width="9.70" height="9.68" fill="#1f30ff"/>
<rect x="851.80" y="31.34" width="9.70" height="9.68" fill="#1b24ff"/>
<rect x="851.80" y="40.62" width="9.70" height="9.68" fill="#191eff"/>
<rect x="851.80" y="49.90" width="9.70" height="9.68" fill="#171aff"/>
<rect x="851.80" y="59.18" width="9.70" height="9.68" fill="#1515ff"/>
<rect x="851.80" y="68.46" width="9.70" height="9.68" fill="#1411ff"/>
<rect x="851.80" y="77.74" width="9.70" height="9.68" fill="#1411ff"/>
<rect x="851.80" y="87.02" width="9.70" height="9.68" fill="#1411ff"/>
<rect x="851.80" y="96.30" width="9.70" height="9.68" fill="#1411ff"/>
<rect x="851.80" y="105.58" width="9.70" height="5.92" fill="#1411ff"/>
<rect x="861.10" y="6.00" width="9.70" height="7.18" fill="#274aff"/>
<rect x="861.10" y="12.78" width="9.70" height="9.68" fill="#233cff"/>
<rect x="861.10" y="22.06" width="9.70" height="9.68" fill="#1f30ff"/>
<rect x="861.10" y="31.34" width="9.70" height="9.68" fill="#1b24ff"/>
<rect x="861.10" y="40.62" width="9.70" height="9.68" fill="#191eff"/>
<rect x="861.10" y="49.90" width="9.70" height="9.68" fill="#171aff"/>
<rect x="861.10" y="59.18" width="9.70" height="9.68" fill="#1515ff"/>
<rect x="861.10" y="68.46" width="9.70" height="9.68" fill="#1411ff"/>
<rect x="861.10" y="77.74" width="9.70" height="9.68" fill="#1411ff"/>
<rect x="861.10" y="87.02" width="9.70" height="9.68" fill="#1411ff"/>
<rect x="861.10" y="96.30" width="9.70" height="9.68" fill="#1411ff"/>
<rect x="861.10" y="105.58" width="9.70" height="5.92" fill="#1411ff"/>
<rect x="870.40" y="6.00" width="9.70" height="7.18" fill="#274aff"/>
<rect x="870.40" y="12.78" width="9.70" height="9.68" fill="#233cff"/>
<rect x="870.40" y="22.06" width="9.70" height="9.68" fill="#1f30ff"/>
<rect x="870.40" y="31.34" width="9.70" height="9.68" fill="#1b24ff"/>
<rect x="870.40" y="40.62" width="9.70" height="9.68" fill="#191eff"/>
<rect x="870.40" y="49.90" width="9.70" height="9.68" fill="#171aff"/>
<rect x="870.40" y="59.18" width="9.70" height="9.68" fill="#1515ff"/>
<rect x="870.40" y="68.46" width="9.70" height="9.68" fill="#1411ff"/>
<rect x="870.40" y="77.74" width="9.70" height="9.68" fill="#1411ff"/>
<rect x="870.40" y="87.02" width="9.70" height="9.68" fill="#1411ff"/>
<rect x="870.40" y="96.30" width="9.70" height="9.68" fill="#1411ff"/>
<rect x="870.40" y="105.58" width="9.70" height="5.92" fill="#1411ff"/>
<rect x="879.70" y="6.00" width="9.70" height="7.18" fill="#274aff"/>
<rect x="879.70" y="12.78" width="9.70" height="9.68" fill="#233cff"/>
<rect x="879.70" y="22.06" width="9.70" height="9.68" fill="#1f30ff"/>
<rect x="879.70" y="31.34" width="9.70" height="9.68" fill="#1b24ff"/>
<rect x="879.70" y="40.62" width="9.70" height="9.68" fill="#191eff"/>
<rect x="879.70" y="49.90" width="9.70" height="9.68" fill="#171aff"/>
<rect x="879.70" y="59.18" width="9.70" height="9.68" fill="#1515ff"/>
<rect x="879.70" y="68.46" width="9.70" height="9.68" fill="#1411ff"/>
<rect x="879.70" y="77.74" width="9.70" height="9.68" fill="#1411ff"/>
<rect x="879.70" y="87.02" width="9.70" height="9.68" fill="#1411ff"/>
<rect x="879.70" y="96.30" width="9.70" height="9.68" fill="#1411ff"/>
<rect x="879.70" y="105.58" width="9.70" height="5.92" fill="#1411ff"/>
<rect x="889.00" y="6.00" width="9.70" height="7.18" fill="#233cff"/>
<rect x="889.00" y="12.78" width="9.70" height="9.68" fill="#1f30ff"/>
<rect x="889.00" y="22.06" width="9.70" height="9.68" fill="#1f30ff"/>
<rect x="889.00" y="31.34" width="9.70" height="9.68" fill="#1d2aff"/>
<rect x="889.00" y="40.62" width="9.70" height="9.68" fill="#1b24ff"/>
<rect x="889.00" y="49.90" width="9.70" height="9.68" fill="#191eff"/>
<rect x="889.00" y="59.18" width="9.70" height="9.68" fill="#171aff"/>
<rect x="889.00" y="68.46" width="9.70" height="9.68" fill="#1515ff"/>
<rect x="889.00" y="77.74" width="9.70" height="9.68" fill="#1411ff"/>
<rect x="889.00" y="87.02" width="9.70" height="9.68" fill="#1411ff"/>
<rect x="889.00" y="96.30" width="9.70" height="9.68" fill="#1411ff"/>
<rect x="889.00" y="105.58" width="9.70" height="5.92" fill="#1411ff"/>
<rect x="898.30" y="6.00" width="9.70" height="7.18" fill="#274aff"/>
<rect x="898.30" y="12.78" width="9.70" height="9.68" fill="#233cff"/>
<rect x="898.30" y="22.06" width="9.70" height="9.68" fill="#1f30ff"/>
<rect x="898.30" y="31.34" width="9.70" height="9.68" fill="#1f30ff"/>
<rect x="898.30" y="40.62" width="9.70" height="9.68" fill="#233cff"/>
<rect x="898.30" y="49.90" width="9.70" height="9.68" fill="#1f30ff"/>
<rect x="898.30" y="59.18" width="9.70" height="9.68" fill="#1b24ff"/>
<rect x="898.30" y="68.46" width="9.70" height="9.68" fill="#171aff"/>
<rect x="898.30" y="77.74" width="9.70" height="9.68" fill="#1515ff"/>
<rect x="898.30" y="87.02" width="9.70" height="9.68" fill="#1411ff"/>
<rect x="898.30" y="96.30" width="9.70" height="9.68" fill="#120cff"/>
<rect x="898.30" y="105.58" width="9.70" height="5.92" fill="#120cff"/>
<rect x="907.60" y="6.00" width="9.70" height="7.18" fill="#316dff"/>
<rect x="907.60" y="12.78" width="9.70" height="9.68" fill="#2d5fff"/>
<rect x="907.60" y="22.06" width="9.70" height="9.68" fill="#274aff"/>
<rect x="907.60" y="31.34" width="9.70" height="9.68" fill="#233cff"/>
<rect x="907.60" y="40.62" width="9.70" height="9.68" fill="#274aff"/>
<rect x="907.60" y="49.90" width="9.70" height="9.68" fill="#233cff"/>
<rect x="907.60" y="59.18" width="9.70" height="9.68" fill="#1f30ff"/>
<rect x="907.60" y="68.46" width="9.70" height="9.68" fill="#191eff"/>
<rect x="907.60" y="77.74" width="9.70" height="9.68" fill="#171aff"/>
<rect x="907.60" y="87.02" width="9.70" height="9.68" fill="#1411ff"/>
<rect x="907.60" y="96.30" width="9.70" height="9.68" fill="#1008ff"/>
<rect x="907.60" y="105.58" width="9.70" height="5.92" fill="#120cff"/>
<rect x="916.90" y="6.00" width="9.70" height="7.18" fill="#3782ff"/>
<rect x="916.90" y="12.78" width="9.70" height="9.68" fill="#3374ff"/>
<rect x="916.90" y="22.06" width="9.70" height="9.68" fill="#2d5fff"/>
<rect x="916.90" y="31.34" width="9.70" height="9.68" fill="#274aff"/>
<rect x="916.90" y="40.62" width="9.70" height="9.68" fill="#274aff"/>
<rect x="916.90" y="49.90" width="9.70" height="9.68" fill="#233cff"/>
<rect x="916.90" y="59.18" width="9.70" height="9.68" fill="#1f30ff"/>
<rect x="916.90" y="68.46" width="9.70" height="9.68" fill="#1b24ff"/>
<rect x="916.90" y="77.74" width="9.70" height="9.68" fill="#191eff"/>
<rect x="916.90" y="87.02" width="9.70" height="9.68" fill="#1515ff"/>
<rect x="916.90" y="96.30" width="9.70" height="9.68" fill="#1008ff"/>
<rect x="916.90" y="105.58" width="9.70" height="5.92" fill="#1411ff"/>
<rect x="926.20" y="6.00" width="9.70" height="7.18" fill="#26d7ff"/>
<rect x="926.20" y="12.78" width="9.70" height="9.68" fill="#3493ff"/>
<rect x="926.20" y="22.06" width="9.70" height="9.68" fill="#316dff"/>
<rect x="926.20" y="31.34" width="9.70" height="9.68" fill="#2b58ff"/>
<rect x="926.20" y="40.62" width="9.70" height="9.68" fill="#274aff"/>
<rect x="926.20" y="49.90" width="9.70" height="9.68" fill="#233cff"/>
<rect x="926.20" y="59.18" width="9.70" height="9.68" fill="#1f30ff"/>
<rect x="926.20" y="68.46" width="9.70" height="9.68" fill="#1d2aff"/>
<rect x="926.20" y="77.74" width="9.70" height="9.68" fill="#1b24ff"/>
<rect x="926.20" y="87.02" width="9.70" height="9.68" fill="#191eff"/>
<rect x="926.20" y="96.30" width="9.70" height="9.68" fill="#171aff"/>
<rect x="926.20" y="105.58" width="9.70" height="5.92" fill="#171aff"/>
<rect x="935.50" y="6.00" width="3.00" height="7.18" fill="#1ef0ff"/>
<rect x="935.50" y="12.78" width="3.00" height="9.68" fill="#2ac6ff"/>
<rect x="935.50" y="22.06" width="3.00" height="9.68" fill="#3782ff"/>
<rect x="935.50" y="31.34" width="3.00" height="9.68" fill="#2d5fff"/>
<rect x="935.50" y="40.62" width="3.00" height="9.68" fill="#2951ff"/>
<rect x="935.50" y="49.90" width="3.00" height="9.68" fill="#274aff"/>
<rect x="935.50" y="59.18" width="3.00" height="9.68" fill="#233cff"/>
<rect x="935.50" y="68.46" width="3.00" height="9.68" fill="#1f30ff"/>
<rect x="935.50" y="77.74" width="3.00" height="9.68" fill="#1b24ff"/>
<rect x="935.50" y="87.02" width="3.00" height="9.68" fill="#191eff"/>
<rect x="935.50" y="96.30" width="3.00" height="9.68" fill="#191eff"/>
<rect x="935.50" y="105.58" width="3.00" height="5.92" fill="#191eff"/>
</g>
<text x="64.6" y="48.5" font-family='"Liberation Sans", sans-serif' font-weight="bold" font-size="28" fill="#fff" textLength="147.5" lengthAdjust="spacingAndGlyphs">DMSP-OLS</text>
<g fill="#000"><circle cx="68.50" cy="59.5" r="2.45"/>
<circle cx="77.83" cy="59.5" r="2.45"/>
<circle cx="87.16" cy="59.5" r="2.45"/>
<circle cx="96.49" cy="59.5" r="2.45"/>
<circle cx="105.82" cy="59.5" r="2.45"/>
<circle cx="115.15" cy="59.5" r="2.45"/>
<circle cx="124.47" cy="59.5" r="2.45"/>
<circle cx="133.80" cy="59.5" r="2.45"/>
<circle cx="143.13" cy="59.5" r="2.45"/>
<circle cx="152.46" cy="59.5" r="2.45"/>
<circle cx="161.79" cy="59.5" r="2.45"/>
<circle cx="171.12" cy="59.5" r="2.45"/>
<circle cx="180.45" cy="59.5" r="2.45"/>
<circle cx="189.78" cy="59.5" r="2.45"/>
<circle cx="199.11" cy="59.5" r="2.45"/>
<circle cx="208.44" cy="59.5" r="2.45"/>
<circle cx="217.76" cy="59.5" r="2.45"/>
<circle cx="227.09" cy="59.5" r="2.45"/>
<circle cx="236.42" cy="59.5" r="2.45"/>
<circle cx="245.75" cy="59.5" r="2.45"/>
<circle cx="255.08" cy="59.5" r="2.45"/>
<circle cx="264.41" cy="59.5" r="2.45"/>
<circle cx="273.74" cy="59.5" r="2.45"/>
<circle cx="283.07" cy="59.5" r="2.45"/>
<circle cx="292.40" cy="59.5" r="2.45"/>
<circle cx="301.73" cy="59.5" r="2.45"/>
<circle cx="311.05" cy="59.5" r="2.45"/>
<circle cx="320.38" cy="59.5" r="2.45"/>
<circle cx="329.71" cy="59.5" r="2.45"/>
<circle cx="339.04" cy="59.5" r="2.45"/>
<circle cx="348.37" cy="59.5" r="2.45"/>
<circle cx="357.70" cy="59.5" r="2.45"/>
<circle cx="367.03" cy="59.5" r="2.45"/>
<circle cx="376.36" cy="59.5" r="2.45"/>
<circle cx="385.69" cy="59.5" r="2.45"/>
<circle cx="395.02" cy="59.5" r="2.45"/>
<circle cx="404.34" cy="59.5" r="2.45"/>
<circle cx="413.67" cy="59.5" r="2.45"/>
<circle cx="423.00" cy="59.5" r="2.45"/>
<circle cx="432.33" cy="59.5" r="2.45"/>
<circle cx="441.66" cy="59.5" r="2.45"/>
<circle cx="450.99" cy="59.5" r="2.45"/>
<circle cx="460.32" cy="59.5" r="2.45"/>
<circle cx="469.65" cy="59.5" r="2.45"/>
<circle cx="478.98" cy="59.5" r="2.45"/>
<circle cx="488.31" cy="59.5" r="2.45"/>
<circle cx="497.63" cy="59.5" r="2.45"/>
<circle cx="506.96" cy="59.5" r="2.45"/>
<circle cx="516.29" cy="59.5" r="2.45"/>
<circle cx="525.62" cy="59.5" r="2.45"/>
<circle cx="534.95" cy="59.5" r="2.45"/>
<circle cx="544.28" cy="59.5" r="2.45"/>
<circle cx="553.61" cy="59.5" r="2.45"/>
<circle cx="562.94" cy="59.5" r="2.45"/>
<circle cx="572.27" cy="59.5" r="2.45"/>
<circle cx="581.60" cy="59.5" r="2.45"/>
<circle cx="590.92" cy="59.5" r="2.45"/>
<circle cx="600.25" cy="59.5" r="2.45"/>
<circle cx="609.58" cy="59.5" r="2.45"/>
<circle cx="618.91" cy="59.5" r="2.45"/>
<circle cx="628.24" cy="59.5" r="2.45"/>
<circle cx="637.57" cy="59.5" r="2.45"/>
<circle cx="646.90" cy="59.5" r="2.45"/>
<circle cx="656.23" cy="59.5" r="2.45"/>
<circle cx="665.56" cy="59.5" r="2.45"/>
<circle cx="674.88" cy="59.5" r="2.45"/>
<circle cx="684.21" cy="59.5" r="2.45"/>
<circle cx="693.54" cy="59.5" r="2.45"/>
<circle cx="702.87" cy="59.5" r="2.45"/>
<circle cx="712.20" cy="59.5" r="2.45"/>
<circle cx="721.53" cy="59.5" r="2.45"/>
<circle cx="730.86" cy="59.5" r="2.45"/>
<circle cx="740.19" cy="59.5" r="2.45"/>
<circle cx="749.52" cy="59.5" r="2.45"/>
<circle cx="758.85" cy="59.5" r="2.45"/>
<circle cx="768.18" cy="59.5" r="2.45"/>
<circle cx="777.50" cy="59.5" r="2.45"/>
<circle cx="786.83" cy="59.5" r="2.45"/>
<circle cx="796.16" cy="59.5" r="2.45"/>
<circle cx="805.49" cy="59.5" r="2.45"/>
<circle cx="814.82" cy="59.5" r="2.45"/>
<circle cx="824.15" cy="59.5" r="2.45"/>
<circle cx="833.48" cy="59.5" r="2.45"/>
<circle cx="842.81" cy="59.5" r="2.45"/>
<circle cx="852.14" cy="59.5" r="2.45"/>
<circle cx="861.47" cy="59.5" r="2.45"/>
<circle cx="870.79" cy="59.5" r="2.45"/>
<circle cx="880.12" cy="59.5" r="2.45"/>
<circle cx="889.45" cy="59.5" r="2.45"/></g>
<defs>
<pattern id="urb" x="0" y="0" width="81" height="54" patternUnits="userSpaceOnUse"><rect x="0" y="0" width="3" height="3" fill="#b090b8"/><rect x="0" y="3" width="3" height="3" fill="#8a7090"/><rect x="0" y="6" width="3" height="3" fill="#b090b8"/><rect x="0" y="9" width="3" height="3" fill="#8a7090"/><rect x="0" y="12" width="3" height="3" fill="#8a7090"/><rect x="0" y="15" width="3" height="3" fill="#dcb6de"/><rect x="0" y="18" width="3" height="3" fill="#dcb6de"/><rect x="0" y="21" width="3" height="3" fill="#62566c"/><rect x="0" y="24" width="3" height="3" fill="#b090b8"/><rect x="0" y="27" width="3" height="3" fill="#b090b8"/><rect x="0" y="30" width="3" height="3" fill="#9cbc5c"/><rect x="0" y="33" width="3" height="3" fill="#b090b8"/><rect x="0" y="36" width="3" height="3" fill="#62566c"/><rect x="0" y="39" width="3" height="3" fill="#b090b8"/><rect x="0" y="42" width="3" height="3" fill="#8a7090"/><rect x="0" y="45" width="3" height="3" fill="#dcb6de"/><rect x="0" y="48" width="3" height="3" fill="#8a7090"/><rect x="0" y="51" width="3" height="3" fill="#7e8c6c"/><rect x="3" y="0" width="3" height="3" fill="#8a7090"/><rect x="3" y="3" width="3" height="3" fill="#8a7090"/><rect x="3" y="6" width="3" height="3" fill="#8a7090"/><rect x="3" y="9" width="3" height="3" fill="#dcb6de"/><rect x="3" y="12" width="3" height="3" fill="#62566c"/><rect x="3" y="15" width="3" height="3" fill="#8a7090"/><rect x="3" y="18" width="3" height="3" fill="#b090b8"/><rect x="3" y="21" width="3" height="3" fill="#dcb6de"/><rect x="3" y="24" width="3" height="3" fill="#7e8c6c"/><rect x="3" y="27" width="3" height="3" fill="#b090b8"/><rect x="3" y="30" width="3" height="3" fill="#8a7090"/><rect x="3" y="33" width="3" height="3" fill="#7e8c6c"/><rect x="3" y="36" width="3" height="3" fill="#8a7090"/><rect x="3" y="39" width="3" height="3" fill="#7e8c6c"/><rect x="3" y="42" width="3" height="3" fill="#b090b8"/><rect x="3" y="45" width="3" height="3" fill="#62566c"/><rect x="3" y="48" width="3" height="3" fill="#b090b8"/><rect x="3" y="51" width="3" height="3" fill="#7e8c6c"/><rect x="6" y="0" width="3" height="3" fill="#7e8c6c"/><rect x="6" y="3" width="3" height="3" fill="#dcb6de"/><rect x="6" y="6" width="3" height="3" fill="#dcb6de"/><rect x="6" y="9" width="3" height="3" fill="#b090b8"/><rect x="6" y="12" width="3" height="3" fill="#9cbc5c"/><rect x="6" y="15" width="3" height="3" fill="#b090b8"/><rect x="6" y="18" width="3" height="3" fill="#8a7090"/><rect x="6" y="21" width="3" height="3" fill="#b090b8"/><rect x="6" y="24" width="3" height="3" fill="#8a7090"/><rect x="6" y="27" width="3" height="3" fill="#b090b8"/><rect x="6" y="30" width="3" height="3" fill="#b090b8"/><rect x="6" y="33" width="3" height="3" fill="#8a7090"/><rect x="6" y="36" width="3" height="3" fill="#8a7090"/><rect x="6" y="39" width="3" height="3" fill="#7e8c6c"/><rect x="6" y="42" width="3" height="3" fill="#8a7090"/><rect x="6" y="45" width="3" height="3" fill="#7e8c6c"/><rect x="6" y="48" width="3" height="3" fill="#62566c"/><rect x="6" y="51" width="3" height="3" fill="#9cbc5c"/><rect x="9" y="0" width="3" height="3" fill="#8a7090"/><rect x="9" y="3" width="3" height="3" fill="#dcb6de"/><rect x="9" y="6" width="3" height="3" fill="#7e8c6c"/><rect x="9" y="9" width="3" height="3" fill="#9cbc5c"/><rect x="9" y="12" width="3" height="3" fill="#7e8c6c"/><rect x="9" y="15" width="3" height="3" fill="#8a7090"/><rect x="9" y="18" width="3" height="3" fill="#8a7090"/><rect x="9" y="21" width="3" height="3" fill="#b090b8"/><rect x="9" y="24" width="3" height="3" fill="#62566c"/><rect x="9" y="27" width="3" height="3" fill="#8a7090"/><rect x="9" y="30" width="3" height="3" fill="#b090b8"/><rect x="9" y="33" width="3" height="3" fill="#dcb6de"/><rect x="9" y="36" width="3" height="3" fill="#62566c"/><rect x="9" y="39" width="3" height="3" fill="#9cbc5c"/><rect x="9" y="42" width="3" height="3" fill="#dcb6de"/><rect x="9" y="45" width="3" height="3" fill="#62566c"/><rect x="9" y="48" width="3" height="3" fill="#b090b8"/><rect x="9" y="51" width="3" height="3" fill="#dcb6de"/><rect x="12" y="0" width="3" height="3" fill="#b090b8"/><rect x="12" y="3" width="3" height="3" fill="#62566c"/><rect x="12" y="6" width="3" height="3" fill="#7e8c6c"/><rect x="12" y="9" width="3" height="3" fill="#dcb6de"/><rect x="12" y="12" width="3" height="3" fill="#8a7090"/><rect x="12" y="15" width="3" height="3" fill="#dcb6de"/><rect x="12" y="18" width="3" height="3" fill="#8a7090"/><rect x="12" y="21" width="3" height="3" fill="#b090b8"/><rect x="12" y="24" width="3" height="3" fill="#7e8c6c"/><rect x="12" y="27" width="3" height="3" fill="#9cbc5c"/><rect x="12" y="30" width="3" height="3" fill="#8a7090"/><rect x="12" y="33" width="3" height="3" fill="#9cbc5c"/><rect x="12" y="36" width="3" height="3" fill="#b090b8"/><rect x="12" y="39" width="3" height="3" fill="#dcb6de"/><rect x="12" y="42" width="3" height="3" fill="#8a7090"/><rect x="12" y="45" width="3" height="3" fill="#dcb6de"/><rect x="12" y="48" width="3" height="3" fill="#dcb6de"/><rect x="12" y="51" width="3" height="3" fill="#b090b8"/><rect x="15" y="0" width="3" height="3" fill="#8a7090"/><rect x="15" y="3" width="3" height="3" fill="#dcb6de"/><rect x="15" y="6" width="3" height="3" fill="#dcb6de"/><rect x="15" y="9" width="3" height="3" fill="#7e8c6c"/><rect x="15" y="12" width="3" height="3" fill="#b090b8"/><rect x="15" y="15" width="3" height="3" fill="#9cbc5c"/><rect x="15" y="18" width="3" height="3" fill="#7e8c6c"/><rect x="15" y="21" width="3" height="3" fill="#b090b8"/><rect x="15" y="24" width="3" height="3" fill="#b090b8"/><rect x="15" y="27" width="3" height="3" fill="#8a7090"/><rect x="15" y="30" width="3" height="3" fill="#8a7090"/><rect x="15" y="33" width="3" height="3" fill="#8a7090"/><rect x="15" y="36" width="3" height="3" fill="#8a7090"/><rect x="15" y="39" width="3" height="3" fill="#8a7090"/><rect x="15" y="42" width="3" height="3" fill="#9cbc5c"/><rect x="15" y="45" width="3" height="3" fill="#8a7090"/><rect x="15" y="48" width="3" height="3" fill="#b090b8"/><rect x="15" y="51" width="3" height="3" fill="#8a7090"/><rect x="18" y="0" width="3" height="3" fill="#b090b8"/><rect x="18" y="3" width="3" height="3" fill="#b090b8"/><rect x="18" y="6" width="3" height="3" fill="#9cbc5c"/><rect x="18" y="9" width="3" height="3" fill="#8a7090"/><rect x="18" y="12" width="3" height="3" fill="#8a7090"/><rect x="18" y="15" width="3" height="3" fill="#dcb6de"/><rect x="18" y="18" width="3" height="3" fill="#b090b8"/><rect x="18" y="21" width="3" height="3" fill="#8a7090"/><rect x="18" y="24" width="3" height="3" fill="#dcb6de"/><rect x="18" y="27" width="3" height="3" fill="#8a7090"/><rect x="18" y="30" width="3" height="3" fill="#8a7090"/><rect x="18" y="33" width="3" height="3" fill="#dcb6de"/><rect x="18" y="36" width="3" height="3" fill="#8a7090"/><rect x="18" y="39" width="3" height="3" fill="#b090b8"/><rect x="18" y="42" width="3" height="3" fill="#8a7090"/><rect x="18" y="45" width="3" height="3" fill="#b090b8"/><rect x="18" y="48" width="3" height="3" fill="#8a7090"/><rect x="18" y="51" width="3" height="3" fill="#8a7090"/><rect x="21" y="0" width="3" height="3" fill="#dcb6de"/><rect x="21" y="3" width="3" height="3" fill="#dcb6de"/><rect x="21" y="6" width="3" height="3" fill="#8a7090"/><rect x="21" y="9" width="3" height="3" fill="#9cbc5c"/><rect x="21" y="12" width="3" height="3" fill="#b090b8"/><rect x="21" y="15" width="3" height="3" fill="#b090b8"/><rect x="21" y="18" width="3" height="3" fill="#8a7090"/><rect x="21" y="21" width="3" height="3" fill="#b090b8"/><rect x="21" y="24" width="3" height="3" fill="#b090b8"/><rect x="21" y="27" width="3" height="3" fill="#b090b8"/><rect x="21" y="30" width="3" height="3" fill="#b090b8"/><rect x="21" y="33" width="3" height="3" fill="#8a7090"/><rect x="21" y="36" width="3" height="3" fill="#b090b8"/><rect x="21" y="39" width="3" height="3" fill="#b090b8"/><rect x="21" y="42" width="3" height="3" fill="#62566c"/><rect x="21" y="45" width="3" height="3" fill="#dcb6de"/><rect x="21" y="48" width="3" height="3" fill="#8a7090"/><rect x="21" y="51" width="3" height="3" fill="#8a7090"/><rect x="24" y="0" width="3" height="3" fill="#b090b8"/><rect x="24" y="3" width="3" height="3" fill="#b090b8"/><rect x="24" y="6" width="3" height="3" fill="#62566c"/><rect x="24" y="9" width="3" height="3" fill="#b090b8"/><rect x="24" y="12" width="3" height="3" fill="#dcb6de"/><rect x="24" y="15" width="3" height="3" fill="#b090b8"/><rect x="24" y="18" width="3" height="3" fill="#8a7090"/><rect x="24" y="21" width="3" height="3" fill="#dcb6de"/><rect x="24" y="24" width="3" height="3" fill="#b090b8"/><rect x="24" y="27" width="3" height="3" fill="#b090b8"/><rect x="24" y="30" width="3" height="3" fill="#62566c"/><rect x="24" y="33" width="3" height="3" fill="#b090b8"/><rect x="24" y="36" width="3" height="3" fill="#62566c"/><rect x="24" y="39" width="3" height="3" fill="#dcb6de"/><rect x="24" y="42" width="3" height="3" fill="#b090b8"/><rect x="24" y="45" width="3" height="3" fill="#8a7090"/><rect x="24" y="48" width="3" height="3" fill="#7e8c6c"/><rect x="24" y="51" width="3" height="3" fill="#b090b8"/><rect x="27" y="0" width="3" height="3" fill="#b090b8"/><rect x="27" y="3" width="3" height="3" fill="#dcb6de"/><rect x="27" y="6" width="3" height="3" fill="#8a7090"/><rect x="27" y="9" width="3" height="3" fill="#dcb6de"/><rect x="27" y="12" width="3" height="3" fill="#62566c"/><rect x="27" y="15" width="3" height="3" fill="#62566c"/><rect x="27" y="18" width="3" height="3" fill="#dcb6de"/><rect x="27" y="21" width="3" height="3" fill="#b090b8"/><rect x="27" y="24" width="3" height="3" fill="#62566c"/><rect x="27" y="27" width="3" height="3" fill="#8a7090"/><rect x="27" y="30" width="3" height="3" fill="#62566c"/><rect x="27" y="33" width="3" height="3" fill="#b090b8"/><rect x="27" y="36" width="3" height="3" fill="#dcb6de"/><rect x="27" y="39" width="3" height="3" fill="#b090b8"/><rect x="27" y="42" width="3" height="3" fill="#62566c"/><rect x="27" y="45" width="3" height="3" fill="#b090b8"/><rect x="27" y="48" width="3" height="3" fill="#b090b8"/><rect x="27" y="51" width="3" height="3" fill="#b090b8"/><rect x="30" y="0" width="3" height="3" fill="#b090b8"/><rect x="30" y="3" width="3" height="3" fill="#b090b8"/><rect x="30" y="6" width="3" height="3" fill="#7e8c6c"/><rect x="30" y="9" width="3" height="3" fill="#dcb6de"/><rect x="30" y="12" width="3" height="3" fill="#dcb6de"/><rect x="30" y="15" width="3" height="3" fill="#9cbc5c"/><rect x="30" y="18" width="3" height="3" fill="#7e8c6c"/><rect x="30" y="21" width="3" height="3" fill="#9cbc5c"/><rect x="30" y="24" width="3" height="3" fill="#b090b8"/><rect x="30" y="27" width="3" height="3" fill="#9cbc5c"/><rect x="30" y="30" width="3" height="3" fill="#7e8c6c"/><rect x="30" y="33" width="3" height="3" fill="#b090b8"/><rect x="30" y="36" width="3" height="3" fill="#8a7090"/><rect x="30" y="39" width="3" height="3" fill="#62566c"/><rect x="30" y="42" width="3" height="3" fill="#8a7090"/><rect x="30" y="45" width="3" height="3" fill="#8a7090"/><rect x="30" y="48" width="3" height="3" fill="#b090b8"/><rect x="30" y="51" width="3" height="3" fill="#b090b8"/><rect x="33" y="0" width="3" height="3" fill="#b090b8"/><rect x="33" y="3" width="3" height="3" fill="#dcb6de"/><rect x="33" y="6" width="3" height="3" fill="#8a7090"/><rect x="33" y="9" width="3" height="3" fill="#b090b8"/><rect x="33" y="12" width="3" height="3" fill="#62566c"/><rect x="33" y="15" width="3" height="3" fill="#dcb6de"/><rect x="33" y="18" width="3" height="3" fill="#7e8c6c"/><rect x="33" y="21" width="3" height="3" fill="#8a7090"/><rect x="33" y="24" width="3" height="3" fill="#7e8c6c"/><rect x="33" y="27" width="3" height="3" fill="#7e8c6c"/><rect x="33" y="30" width="3" height="3" fill="#7e8c6c"/><rect x="33" y="33" width="3" height="3" fill="#8a7090"/><rect x="33" y="36" width="3" height="3" fill="#dcb6de"/><rect x="33" y="39" width="3" height="3" fill="#8a7090"/><rect x="33" y="42" width="3" height="3" fill="#dcb6de"/><rect x="33" y="45" width="3" height="3" fill="#b090b8"/><rect x="33" y="48" width="3" height="3" fill="#8a7090"/><rect x="33" y="51" width="3" height="3" fill="#8a7090"/><rect x="36" y="0" width="3" height="3" fill="#b090b8"/><rect x="36" y="3" width="3" height="3" fill="#7e8c6c"/><rect x="36" y="6" width="3" height="3" fill="#8a7090"/><rect x="36" y="9" width="3" height="3" fill="#b090b8"/><rect x="36" y="12" width="3" height="3" fill="#b090b8"/><rect x="36" y="15" width="3" height="3" fill="#7e8c6c"/><rect x="36" y="18" width="3" height="3" fill="#b090b8"/><rect x="36" y="21" width="3" height="3" fill="#62566c"/><rect x="36" y="24" width="3" height="3" fill="#b090b8"/><rect x="36" y="27" width="3" height="3" fill="#dcb6de"/><rect x="36" y="30" width="3" height="3" fill="#8a7090"/><rect x="36" y="33" width="3" height="3" fill="#62566c"/><rect x="36" y="36" width="3" height="3" fill="#dcb6de"/><rect x="36" y="39" width="3" height="3" fill="#62566c"/><rect x="36" y="42" width="3" height="3" fill="#7e8c6c"/><rect x="36" y="45" width="3" height="3" fill="#62566c"/><rect x="36" y="48" width="3" height="3" fill="#62566c"/><rect x="36" y="51" width="3" height="3" fill="#dcb6de"/><rect x="39" y="0" width="3" height="3" fill="#8a7090"/><rect x="39" y="3" width="3" height="3" fill="#7e8c6c"/><rect x="39" y="6" width="3" height="3" fill="#dcb6de"/><rect x="39" y="9" width="3" height="3" fill="#b090b8"/><rect x="39" y="12" width="3" height="3" fill="#b090b8"/><rect x="39" y="15" width="3" height="3" fill="#8a7090"/><rect x="39" y="18" width="3" height="3" fill="#b090b8"/><rect x="39" y="21" width="3" height="3" fill="#b090b8"/><rect x="39" y="24" width="3" height="3" fill="#62566c"/><rect x="39" y="27" width="3" height="3" fill="#dcb6de"/><rect x="39" y="30" width="3" height="3" fill="#dcb6de"/><rect x="39" y="33" width="3" height="3" fill="#dcb6de"/><rect x="39" y="36" width="3" height="3" fill="#dcb6de"/><rect x="39" y="39" width="3" height="3" fill="#dcb6de"/><rect x="39" y="42" width="3" height="3" fill="#9cbc5c"/><rect x="39" y="45" width="3" height="3" fill="#62566c"/><rect x="39" y="48" width="3" height="3" fill="#dcb6de"/><rect x="39" y="51" width="3" height="3" fill="#8a7090"/><rect x="42" y="0" width="3" height="3" fill="#b090b8"/><rect x="42" y="3" width="3" height="3" fill="#b090b8"/><rect x="42" y="6" width="3" height="3" fill="#b090b8"/><rect x="42" y="9" width="3" height="3" fill="#8a7090"/><rect x="42" y="12" width="3" height="3" fill="#8a7090"/><rect x="42" y="15" width="3" height="3" fill="#b090b8"/><rect x="42" y="18" width="3" height="3" fill="#dcb6de"/><rect x="42" y="21" width="3" height="3" fill="#b090b8"/><rect x="42" y="24" width="3" height="3" fill="#dcb6de"/><rect x="42" y="27" width="3" height="3" fill="#8a7090"/><rect x="42" y="30" width="3" height="3" fill="#8a7090"/><rect x="42" y="33" width="3" height="3" fill="#b090b8"/><rect x="42" y="36" width="3" height="3" fill="#dcb6de"/><rect x="42" y="39" width="3" height="3" fill="#dcb6de"/><rect x="42" y="42" width="3" height="3" fill="#b090b8"/><rect x="42" y="45" width="3" height="3" fill="#8a7090"/><rect x="42" y="48" width="3" height="3" fill="#62566c"/><rect x="42" y="51" width="3" height="3" fill="#b090b8"/><rect x="45" y="0" width="3" height="3" fill="#62566c"/><rect x="45" y="3" width="3" height="3" fill="#8a7090"/><rect x="45" y="6" width="3" height="3" fill="#b090b8"/><rect x="45" y="9" width="3" height="3" fill="#b090b8"/><rect x="45" y="12" width="3" height="3" fill="#b090b8"/><rect x="45" y="15" width="3" height="3" fill="#8a7090"/><rect x="45" y="18" width="3" height="3" fill="#b090b8"/><rect x="45" y="21" width="3" height="3" fill="#8a7090"/><rect x="45" y="24" width="3" height="3" fill="#b090b8"/><rect x="45" y="27" width="3" height="3" fill="#b090b8"/><rect x="45" y="30" width="3" height="3" fill="#8a7090"/><rect x="45" y="33" width="3" height="3" fill="#8a7090"/><rect x="45" y="36" width="3" height="3" fill="#dcb6de"/><rect x="45" y="39" width="3" height="3" fill="#b090b8"/><rect x="45" y="42" width="3" height="3" fill="#b090b8"/><rect x="45" y="45" width="3" height="3" fill="#7e8c6c"/><rect x="45" y="48" width="3" height="3" fill="#7e8c6c"/><rect x="45" y="51" width="3" height="3" fill="#b090b8"/><rect x="48" y="0" width="3" height="3" fill="#7e8c6c"/><rect x="48" y="3" width="3" height="3" fill="#62566c"/><rect x="48" y="6" width="3" height="3" fill="#b090b8"/><rect x="48" y="9" width="3" height="3" fill="#b090b8"/><rect x="48" y="12" width="3" height="3" fill="#dcb6de"/><rect x="48" y="15" width="3" height="3" fill="#62566c"/><rect x="48" y="18" width="3" height="3" fill="#8a7090"/><rect x="48" y="21" width="3" height="3" fill="#7e8c6c"/><rect x="48" y="24" width="3" height="3" fill="#62566c"/><rect x="48" y="27" width="3" height="3" fill="#8a7090"/><rect x="48" y="30" width="3" height="3" fill="#8a7090"/><rect x="48" y="33" width="3" height="3" fill="#8a7090"/><rect x="48" y="36" width="3" height="3" fill="#dcb6de"/><rect x="48" y="39" width="3" height="3" fill="#8a7090"/><rect x="48" y="42" width="3" height="3" fill="#dcb6de"/><rect x="48" y="45" width="3" height="3" fill="#dcb6de"/><rect x="48" y="48" width="3" height="3" fill="#62566c"/><rect x="48" y="51" width="3" height="3" fill="#dcb6de"/><rect x="51" y="0" width="3" height="3" fill="#dcb6de"/><rect x="51" y="3" width="3" height="3" fill="#dcb6de"/><rect x="51" y="6" width="3" height="3" fill="#7e8c6c"/><rect x="51" y="9" width="3" height="3" fill="#dcb6de"/><rect x="51" y="12" width="3" height="3" fill="#dcb6de"/><rect x="51" y="15" width="3" height="3" fill="#62566c"/><rect x="51" y="18" width="3" height="3" fill="#dcb6de"/><rect x="51" y="21" width="3" height="3" fill="#62566c"/><rect x="51" y="24" width="3" height="3" fill="#8a7090"/><rect x="51" y="27" width="3" height="3" fill="#62566c"/><rect x="51" y="30" width="3" height="3" fill="#9cbc5c"/><rect x="51" y="33" width="3" height="3" fill="#8a7090"/><rect x="51" y="36" width="3" height="3" fill="#62566c"/><rect x="51" y="39" width="3" height="3" fill="#dcb6de"/><rect x="51" y="42" width="3" height="3" fill="#62566c"/><rect x="51" y="45" width="3" height="3" fill="#8a7090"/><rect x="51" y="48" width="3" height="3" fill="#8a7090"/><rect x="51" y="51" width="3" height="3" fill="#dcb6de"/><rect x="54" y="0" width="3" height="3" fill="#8a7090"/><rect x="54" y="3" width="3" height="3" fill="#7e8c6c"/><rect x="54" y="6" width="3" height="3" fill="#dcb6de"/><rect x="54" y="9" width="3" height="3" fill="#b090b8"/><rect x="54" y="12" width="3" height="3" fill="#8a7090"/><rect x="54" y="15" width="3" height="3" fill="#62566c"/><rect x="54" y="18" width="3" height="3" fill="#b090b8"/><rect x="54" y="21" width="3" height="3" fill="#dcb6de"/><rect x="54" y="24" width="3" height="3" fill="#b090b8"/><rect x="54" y="27" width="3" height="3" fill="#8a7090"/><rect x="54" y="30" width="3" height="3" fill="#62566c"/><rect x="54" y="33" width="3" height="3" fill="#b090b8"/><rect x="54" y="36" width="3" height="3" fill="#b090b8"/><rect x="54" y="39" width="3" height="3" fill="#b090b8"/><rect x="54" y="42" width="3" height="3" fill="#b090b8"/><rect x="54" y="45" width="3" height="3" fill="#b090b8"/><rect x="54" y="48" width="3" height="3" fill="#dcb6de"/><rect x="54" y="51" width="3" height="3" fill="#8a7090"/><rect x="57" y="0" width="3" height="3" fill="#9cbc5c"/><rect x="57" y="3" width="3" height="3" fill="#b090b8"/><rect x="57" y="6" width="3" height="3" fill="#8a7090"/><rect x="57" y="9" width="3" height="3" fill="#dcb6de"/><rect x="57" y="12" width="3" height="3" fill="#8a7090"/><rect x="57" y="15" width="3" height="3" fill="#62566c"/><rect x="57" y="18" width="3" height="3" fill="#8a7090"/><rect x="57" y="21" width="3" height="3" fill="#8a7090"/><rect x="57" y="24" width="3" height="3" fill="#b090b8"/><rect x="57" y="27" width="3" height="3" fill="#8a7090"/><rect x="57" y="30" width="3" height="3" fill="#7e8c6c"/><rect x="57" y="33" width="3" height="3" fill="#dcb6de"/><rect x="57" y="36" width="3" height="3" fill="#dcb6de"/><rect x="57" y="39" width="3" height="3" fill="#8a7090"/><rect x="57" y="42" width="3" height="3" fill="#7e8c6c"/><rect x="57" y="45" width="3" height="3" fill="#8a7090"/><rect x="57" y="48" width="3" height="3" fill="#b090b8"/><rect x="57" y="51" width="3" height="3" fill="#8a7090"/><rect x="60" y="0" width="3" height="3" fill="#dcb6de"/><rect x="60" y="3" width="3" height="3" fill="#b090b8"/><rect x="60" y="6" width="3" height="3" fill="#dcb6de"/><rect x="60" y="9" width="3" height="3" fill="#8a7090"/><rect x="60" y="12" width="3" height="3" fill="#b090b8"/><rect x="60" y="15" width="3" height="3" fill="#b090b8"/><rect x="60" y="18" width="3" height="3" fill="#8a7090"/><rect x="60" y="21" width="3" height="3" fill="#9cbc5c"/><rect x="60" y="24" width="3" height="3" fill="#b090b8"/><rect x="60" y="27" width="3" height="3" fill="#8a7090"/><rect x="60" y="30" width="3" height="3" fill="#b090b8"/><rect x="60" y="33" width="3" height="3" fill="#62566c"/><rect x="60" y="36" width="3" height="3" fill="#8a7090"/><rect x="60" y="39" width="3" height="3" fill="#b090b8"/><rect x="60" y="42" width="3" height="3" fill="#b090b8"/><rect x="60" y="45" width="3" height="3" fill="#dcb6de"/><rect x="60" y="48" width="3" height="3" fill="#b090b8"/><rect x="60" y="51" width="3" height="3" fill="#b090b8"/><rect x="63" y="0" width="3" height="3" fill="#dcb6de"/><rect x="63" y="3" width="3" height="3" fill="#b090b8"/><rect x="63" y="6" width="3" height="3" fill="#b090b8"/><rect x="63" y="9" width="3" height="3" fill="#62566c"/><rect x="63" y="12" width="3" height="3" fill="#dcb6de"/><rect x="63" y="15" width="3" height="3" fill="#9cbc5c"/><rect x="63" y="18" width="3" height="3" fill="#b090b8"/><rect x="63" y="21" width="3" height="3" fill="#8a7090"/><rect x="63" y="24" width="3" height="3" fill="#b090b8"/><rect x="63" y="27" width="3" height="3" fill="#62566c"/><rect x="63" y="30" width="3" height="3" fill="#62566c"/><rect x="63" y="33" width="3" height="3" fill="#8a7090"/><rect x="63" y="36" width="3" height="3" fill="#b090b8"/><rect x="63" y="39" width="3" height="3" fill="#8a7090"/><rect x="63" y="42" width="3" height="3" fill="#62566c"/><rect x="63" y="45" width="3" height="3" fill="#b090b8"/><rect x="63" y="48" width="3" height="3" fill="#8a7090"/><rect x="63" y="51" width="3" height="3" fill="#9cbc5c"/><rect x="66" y="0" width="3" height="3" fill="#b090b8"/><rect x="66" y="3" width="3" height="3" fill="#b090b8"/><rect x="66" y="6" width="3" height="3" fill="#b090b8"/><rect x="66" y="9" width="3" height="3" fill="#8a7090"/><rect x="66" y="12" width="3" height="3" fill="#8a7090"/><rect x="66" y="15" width="3" height="3" fill="#9cbc5c"/><rect x="66" y="18" width="3" height="3" fill="#62566c"/><rect x="66" y="21" width="3" height="3" fill="#b090b8"/><rect x="66" y="24" width="3" height="3" fill="#dcb6de"/><rect x="66" y="27" width="3" height="3" fill="#b090b8"/><rect x="66" y="30" width="3" height="3" fill="#dcb6de"/><rect x="66" y="33" width="3" height="3" fill="#8a7090"/><rect x="66" y="36" width="3" height="3" fill="#62566c"/><rect x="66" y="39" width="3" height="3" fill="#7e8c6c"/><rect x="66" y="42" width="3" height="3" fill="#b090b8"/><rect x="66" y="45" width="3" height="3" fill="#7e8c6c"/><rect x="66" y="48" width="3" height="3" fill="#b090b8"/><rect x="66" y="51" width="3" height="3" fill="#b090b8"/><rect x="69" y="0" width="3" height="3" fill="#8a7090"/><rect x="69" y="3" width="3" height="3" fill="#dcb6de"/><rect x="69" y="6" width="3" height="3" fill="#dcb6de"/><rect x="69" y="9" width="3" height="3" fill="#62566c"/><rect x="69" y="12" width="3" height="3" fill="#b090b8"/><rect x="69" y="15" width="3" height="3" fill="#b090b8"/><rect x="69" y="18" width="3" height="3" fill="#8a7090"/><rect x="69" y="21" width="3" height="3" fill="#8a7090"/><rect x="69" y="24" width="3" height="3" fill="#dcb6de"/><rect x="69" y="27" width="3" height="3" fill="#b090b8"/><rect x="69" y="30" width="3" height="3" fill="#b090b8"/><rect x="69" y="33" width="3" height="3" fill="#b090b8"/><rect x="69" y="36" width="3" height="3" fill="#b090b8"/><rect x="69" y="39" width="3" height="3" fill="#8a7090"/><rect x="69" y="42" width="3" height="3" fill="#9cbc5c"/><rect x="69" y="45" width="3" height="3" fill="#b090b8"/><rect x="69" y="48" width="3" height="3" fill="#8a7090"/><rect x="69" y="51" width="3" height="3" fill="#dcb6de"/><rect x="72" y="0" width="3" height="3" fill="#b090b8"/><rect x="72" y="3" width="3" height="3" fill="#8a7090"/><rect x="72" y="6" width="3" height="3" fill="#dcb6de"/><rect x="72" y="9" width="3" height="3" fill="#7e8c6c"/><rect x="72" y="12" width="3" height="3" fill="#7e8c6c"/><rect x="72" y="15" width="3" height="3" fill="#dcb6de"/><rect x="72" y="18" width="3" height="3" fill="#9cbc5c"/><rect x="72" y="21" width="3" height="3" fill="#b090b8"/><rect x="72" y="24" width="3" height="3" fill="#62566c"/><rect x="72" y="27" width="3" height="3" fill="#62566c"/><rect x="72" y="30" width="3" height="3" fill="#b090b8"/><rect x="72" y="33" width="3" height="3" fill="#8a7090"/><rect x="72" y="36" width="3" height="3" fill="#8a7090"/><rect x="72" y="39" width="3" height="3" fill="#62566c"/><rect x="72" y="42" width="3" height="3" fill="#b090b8"/><rect x="72" y="45" width="3" height="3" fill="#62566c"/><rect x="72" y="48" width="3" height="3" fill="#9cbc5c"/><rect x="72" y="51" width="3" height="3" fill="#8a7090"/><rect x="75" y="0" width="3" height="3" fill="#8a7090"/><rect x="75" y="3" width="3" height="3" fill="#dcb6de"/><rect x="75" y="6" width="3" height="3" fill="#b090b8"/><rect x="75" y="9" width="3" height="3" fill="#b090b8"/><rect x="75" y="12" width="3" height="3" fill="#8a7090"/><rect x="75" y="15" width="3" height="3" fill="#8a7090"/><rect x="75" y="18" width="3" height="3" fill="#8a7090"/><rect x="75" y="21" width="3" height="3" fill="#dcb6de"/><rect x="75" y="24" width="3" height="3" fill="#8a7090"/><rect x="75" y="27" width="3" height="3" fill="#8a7090"/><rect x="75" y="30" width="3" height="3" fill="#dcb6de"/><rect x="75" y="33" width="3" height="3" fill="#7e8c6c"/><rect x="75" y="36" width="3" height="3" fill="#8a7090"/><rect x="75" y="39" width="3" height="3" fill="#dcb6de"/><rect x="75" y="42" width="3" height="3" fill="#7e8c6c"/><rect x="75" y="45" width="3" height="3" fill="#dcb6de"/><rect x="75" y="48" width="3" height="3" fill="#b090b8"/><rect x="75" y="51" width="3" height="3" fill="#8a7090"/><rect x="78" y="0" width="3" height="3" fill="#8a7090"/><rect x="78" y="3" width="3" height="3" fill="#8a7090"/><rect x="78" y="6" width="3" height="3" fill="#8a7090"/><rect x="78" y="9" width="3" height="3" fill="#b090b8"/><rect x="78" y="12" width="3" height="3" fill="#b090b8"/><rect x="78" y="15" width="3" height="3" fill="#dcb6de"/><rect x="78" y="18" width="3" height="3" fill="#dcb6de"/><rect x="78" y="21" width="3" height="3" fill="#8a7090"/><rect x="78" y="24" width="3" height="3" fill="#62566c"/><rect x="78" y="27" width="3" height="3" fill="#8a7090"/><rect x="78" y="30" width="3" height="3" fill="#8a7090"/><rect x="78" y="33" width="3" height="3" fill="#b090b8"/><rect x="78" y="36" width="3" height="3" fill="#b090b8"/><rect x="78" y="39" width="3" height="3" fill="#b090b8"/><rect x="78" y="42" width="3" height="3" fill="#7e8c6c"/><rect x="78" y="45" width="3" height="3" fill="#dcb6de"/><rect x="78" y="48" width="3" height="3" fill="#8a7090"/><rect x="78" y="51" width="3" height="3" fill="#b090b8"/></pattern>
<pattern id="veg" x="0" y="0" width="78" height="57" patternUnits="userSpaceOnUse"><rect x="0" y="0" width="3" height="3" fill="#5c9030"/><rect x="0" y="3" width="3" height="3" fill="#8c9448"/><rect x="0" y="6" width="3" height="3" fill="#8c9448"/><rect x="0" y="9" width="3" height="3" fill="#a088a8"/><rect x="0" y="12" width="3" height="3" fill="#8c9448"/><rect x="0" y="15" width="3" height="3" fill="#bce055"/><rect x="0" y="18" width="3" height="3" fill="#9ae23e"/><rect x="0" y="21" width="3" height="3" fill="#80cc36"/><rect x="0" y="24" width="3" height="3" fill="#a088a8"/><rect x="0" y="27" width="3" height="3" fill="#5c9030"/><rect x="0" y="30" width="3" height="3" fill="#bce055"/><rect x="0" y="33" width="3" height="3" fill="#9ae23e"/><rect x="0" y="36" width="3" height="3" fill="#80cc36"/><rect x="0" y="39" width="3" height="3" fill="#9ae23e"/><rect x="0" y="42" width="3" height="3" fill="#80cc36"/><rect x="0" y="45" width="3" height="3" fill="#80cc36"/><rect x="0" y="48" width="3" height="3" fill="#9ae23e"/><rect x="0" y="51" width="3" height="3" fill="#9ae23e"/><rect x="0" y="54" width="3" height="3" fill="#9ae23e"/><rect x="3" y="0" width="3" height="3" fill="#bce055"/><rect x="3" y="3" width="3" height="3" fill="#8c9448"/><rect x="3" y="6" width="3" height="3" fill="#9ae23e"/><rect x="3" y="9" width="3" height="3" fill="#8c9448"/><rect x="3" y="12" width="3" height="3" fill="#9ae23e"/><rect x="3" y="15" width="3" height="3" fill="#5c9030"/><rect x="3" y="18" width="3" height="3" fill="#9ae23e"/><rect x="3" y="21" width="3" height="3" fill="#9ae23e"/><rect x="3" y="24" width="3" height="3" fill="#bce055"/><rect x="3" y="27" width="3" height="3" fill="#9ae23e"/><rect x="3" y="30" width="3" height="3" fill="#9ae23e"/><rect x="3" y="33" width="3" height="3" fill="#a088a8"/><rect x="3" y="36" width="3" height="3" fill="#bce055"/><rect x="3" y="39" width="3" height="3" fill="#9ae23e"/><rect x="3" y="42" width="3" height="3" fill="#a088a8"/><rect x="3" y="45" width="3" height="3" fill="#80cc36"/><rect x="3" y="48" width="3" height="3" fill="#5c9030"/><rect x="3" y="51" width="3" height="3" fill="#9ae23e"/><rect x="3" y="54" width="3" height="3" fill="#a088a8"/><rect x="6" y="0" width="3" height="3" fill="#5c9030"/><rect x="6" y="3" width="3" height="3" fill="#a088a8"/><rect x="6" y="6" width="3" height="3" fill="#bce055"/><rect x="6" y="9" width="3" height="3" fill="#9ae23e"/><rect x="6" y="12" width="3" height="3" fill="#80cc36"/><rect x="6" y="15" width="3" height="3" fill="#9ae23e"/><rect x="6" y="18" width="3" height="3" fill="#9ae23e"/><rect x="6" y="21" width="3" height="3" fill="#9ae23e"/><rect x="6" y="24" width="3" height="3" fill="#9ae23e"/><rect x="6" y="27" width="3" height="3" fill="#5c9030"/><rect x="6" y="30" width="3" height="3" fill="#9ae23e"/><rect x="6" y="33" width="3" height="3" fill="#5c9030"/><rect x="6" y="36" width="3" height="3" fill="#80cc36"/><rect x="6" y="39" width="3" height="3" fill="#9ae23e"/><rect x="6" y="42" width="3" height="3" fill="#bce055"/><rect x="6" y="45" width="3" height="3" fill="#80cc36"/><rect x="6" y="48" width="3" height="3" fill="#9ae23e"/><rect x="6" y="51" width="3" height="3" fill="#80cc36"/><rect x="6" y="54" width="3" height="3" fill="#5c9030"/><rect x="9" y="0" width="3" height="3" fill="#9ae23e"/><rect x="9" y="3" width="3" height="3" fill="#a088a8"/><rect x="9" y="6" width="3" height="3" fill="#9ae23e"/><rect x="9" y="9" width="3" height="3" fill="#8c9448"/><rect x="9" y="12" width="3" height="3" fill="#bce055"/><rect x="9" y="15" width="3" height="3" fill="#9ae23e"/><rect x="9" y="18" width="3" height="3" fill="#8c9448"/><rect x="9" y="21" width="3" height="3" fill="#80cc36"/><rect x="9" y="24" width="3" height="3" fill="#80cc36"/><rect x="9" y="27" width="3" height="3" fill="#9ae23e"/><rect x="9" y="30" width="3" height="3" fill="#9ae23e"/><rect x="9" y="33" width="3" height="3" fill="#9ae23e"/><rect x="9" y="36" width="3" height="3" fill="#a088a8"/><rect x="9" y="39" width="3" height="3" fill="#9ae23e"/><rect x="9" y="42" width="3" height="3" fill="#8c9448"/><rect x="9" y="45" width="3" height="3" fill="#bce055"/><rect x="9" y="48" width="3" height="3" fill="#a088a8"/><rect x="9" y="51" width="3" height="3" fill="#80cc36"/><rect x="9" y="54" width="3" height="3" fill="#80cc36"/><rect x="12" y="0" width="3" height="3" fill="#80cc36"/><rect x="12" y="3" width="3" height="3" fill="#8c9448"/><rect x="12" y="6" width="3" height="3" fill="#9ae23e"/><rect x="12" y="9" width="3" height="3" fill="#8c9448"/><rect x="12" y="12" width="3" height="3" fill="#8c9448"/><rect x="12" y="15" width="3" height="3" fill="#bce055"/><rect x="12" y="18" width="3" height="3" fill="#9ae23e"/><rect x="12" y="21" width="3" height="3" fill="#a088a8"/><rect x="12" y="24" width="3" height="3" fill="#9ae23e"/><rect x="12" y="27" width="3" height="3" fill="#80cc36"/><rect x="12" y="30" width="3" height="3" fill="#5c9030"/><rect x="12" y="33" width="3" height="3" fill="#bce055"/><rect x="12" y="36" width="3" height="3" fill="#80cc36"/><rect x="12" y="39" width="3" height="3" fill="#bce055"/><rect x="12" y="42" width="3" height="3" fill="#80cc36"/><rect x="12" y="45" width="3" height="3" fill="#9ae23e"/><rect x="12" y="48" width="3" height="3" fill="#9ae23e"/><rect x="12" y="51" width="3" height="3" fill="#9ae23e"/><rect x="12" y="54" width="3" height="3" fill="#9ae23e"/><rect x="15" y="0" width="3" height="3" fill="#9ae23e"/><rect x="15" y="3" width="3" height="3" fill="#5c9030"/><rect x="15" y="6" width="3" height="3" fill="#a088a8"/><rect x="15" y="9" width="3" height="3" fill="#9ae23e"/><rect x="15" y="12" width="3" height="3" fill="#9ae23e"/><rect x="15" y="15" width="3" height="3" fill="#a088a8"/><rect x="15" y="18" width="3" height="3" fill="#80cc36"/><rect x="15" y="21" width="3" height="3" fill="#80cc36"/><rect x="15" y="24" width="3" height="3" fill="#9ae23e"/><rect x="15" y="27" width="3" height="3" fill="#5c9030"/><rect x="15" y="30" width="3" height="3" fill="#bce055"/><rect x="15" y="33" width="3" height="3" fill="#80cc36"/><rect x="15" y="36" width="3" height="3" fill="#80cc36"/><rect x="15" y="39" width="3" height="3" fill="#9ae23e"/><rect x="15" y="42" width="3" height="3" fill="#bce055"/><rect x="15" y="45" width="3" height="3" fill="#9ae23e"/><rect x="15" y="48" width="3" height="3" fill="#80cc36"/><rect x="15" y="51" width="3" height="3" fill="#bce055"/><rect x="15" y="54" width="3" height="3" fill="#9ae23e"/><rect x="18" y="0" width="3" height="3" fill="#8c9448"/><rect x="18" y="3" width="3" height="3" fill="#a088a8"/><rect x="18" y="6" width="3" height="3" fill="#5c9030"/><rect x="18" y="9" width="3" height="3" fill="#8c9448"/><rect x="18" y="12" width="3" height="3" fill="#9ae23e"/><rect x="18" y="15" width="3" height="3" fill="#80cc36"/><rect x="18" y="18" width="3" height="3" fill="#9ae23e"/><rect x="18" y="21" width="3" height="3" fill="#bce055"/><rect x="18" y="24" width="3" height="3" fill="#9ae23e"/><rect x="18" y="27" width="3" height="3" fill="#80cc36"/><rect x="18" y="30" width="3" height="3" fill="#a088a8"/><rect x="18" y="33" width="3" height="3" fill="#bce055"/><rect x="18" y="36" width="3" height="3" fill="#a088a8"/><rect x="18" y="39" width="3" height="3" fill="#80cc36"/><rect x="18" y="42" width="3" height="3" fill="#80cc36"/><rect x="18" y="45" width="3" height="3" fill="#8c9448"/><rect x="18" y="48" width="3" height="3" fill="#80cc36"/><rect x="18" y="51" width="3" height="3" fill="#9ae23e"/><rect x="18" y="54" width="3" height="3" fill="#80cc36"/><rect x="21" y="0" width="3" height="3" fill="#9ae23e"/><rect x="21" y="3" width="3" height="3" fill="#80cc36"/><rect x="21" y="6" width="3" height="3" fill="#a088a8"/><rect x="21" y="9" width="3" height="3" fill="#a088a8"/><rect x="21" y="12" width="3" height="3" fill="#5c9030"/><rect x="21" y="15" width="3" height="3" fill="#80cc36"/><rect x="21" y="18" width="3" height="3" fill="#80cc36"/><rect x="21" y="21" width="3" height="3" fill="#9ae23e"/><rect x="21" y="24" width="3" height="3" fill="#9ae23e"/><rect x="21" y="27" width="3" height="3" fill="#8c9448"/><rect x="21" y="30" width="3" height="3" fill="#bce055"/><rect x="21" y="33" width="3" height="3" fill="#80cc36"/><rect x="21" y="36" width="3" height="3" fill="#8c9448"/><rect x="21" y="39" width="3" height="3" fill="#8c9448"/><rect x="21" y="42" width="3" height="3" fill="#5c9030"/><rect x="21" y="45" width="3" height="3" fill="#5c9030"/><rect x="21" y="48" width="3" height="3" fill="#8c9448"/><rect x="21" y="51" width="3" height="3" fill="#80cc36"/><rect x="21" y="54" width="3" height="3" fill="#5c9030"/><rect x="24" y="0" width="3" height="3" fill="#9ae23e"/><rect x="24" y="3" width="3" height="3" fill="#80cc36"/><rect x="24" y="6" width="3" height="3" fill="#8c9448"/><rect x="24" y="9" width="3" height="3" fill="#5c9030"/><rect x="24" y="12" width="3" height="3" fill="#9ae23e"/><rect x="24" y="15" width="3" height="3" fill="#a088a8"/><rect x="24" y="18" width="3" height="3" fill="#5c9030"/><rect x="24" y="21" width="3" height="3" fill="#5c9030"/><rect x="24" y="24" width="3" height="3" fill="#9ae23e"/><rect x="24" y="27" width="3" height="3" fill="#80cc36"/><rect x="24" y="30" width="3" height="3" fill="#9ae23e"/><rect x="24" y="33" width="3" height="3" fill="#5c9030"/><rect x="24" y="36" width="3" height="3" fill="#80cc36"/><rect x="24" y="39" width="3" height="3" fill="#bce055"/><rect x="24" y="42" width="3" height="3" fill="#5c9030"/><rect x="24" y="45" width="3" height="3" fill="#8c9448"/><rect x="24" y="48" width="3" height="3" fill="#80cc36"/><rect x="24" y="51" width="3" height="3" fill="#5c9030"/><rect x="24" y="54" width="3" height="3" fill="#8c9448"/><rect x="27" y="0" width="3" height="3" fill="#bce055"/><rect x="27" y="3" width="3" height="3" fill="#80cc36"/><rect x="27" y="6" width="3" height="3" fill="#bce055"/><rect x="27" y="9" width="3" height="3" fill="#bce055"/><rect x="27" y="12" width="3" height="3" fill="#5c9030"/><rect x="27" y="15" width="3" height="3" fill="#a088a8"/><rect x="27" y="18" width="3" height="3" fill="#a088a8"/><rect x="27" y="21" width="3" height="3" fill="#80cc36"/><rect x="27" y="24" width="3" height="3" fill="#80cc36"/><rect x="27" y="27" width="3" height="3" fill="#9ae23e"/><rect x="27" y="30" width="3" height="3" fill="#bce055"/><rect x="27" y="33" width="3" height="3" fill="#bce055"/><rect x="27" y="36" width="3" height="3" fill="#80cc36"/><rect x="27" y="39" width="3" height="3" fill="#5c9030"/><rect x="27" y="42" width="3" height="3" fill="#5c9030"/><rect x="27" y="45" width="3" height="3" fill="#8c9448"/><rect x="27" y="48" width="3" height="3" fill="#9ae23e"/><rect x="27" y="51" width="3" height="3" fill="#8c9448"/><rect x="27" y="54" width="3" height="3" fill="#5c9030"/><rect x="30" y="0" width="3" height="3" fill="#5c9030"/><rect x="30" y="3" width="3" height="3" fill="#80cc36"/><rect x="30" y="6" width="3" height="3" fill="#5c9030"/><rect x="30" y="9" width="3" height="3" fill="#8c9448"/><rect x="30" y="12" width="3" height="3" fill="#5c9030"/><rect x="30" y="15" width="3" height="3" fill="#8c9448"/><rect x="30" y="18" width="3" height="3" fill="#9ae23e"/><rect x="30" y="21" width="3" height="3" fill="#9ae23e"/><rect x="30" y="24" width="3" height="3" fill="#80cc36"/><rect x="30" y="27" width="3" height="3" fill="#5c9030"/><rect x="30" y="30" width="3" height="3" fill="#9ae23e"/><rect x="30" y="33" width="3" height="3" fill="#5c9030"/><rect x="30" y="36" width="3" height="3" fill="#5c9030"/><rect x="30" y="39" width="3" height="3" fill="#9ae23e"/><rect x="30" y="42" width="3" height="3" fill="#80cc36"/><rect x="30" y="45" width="3" height="3" fill="#9ae23e"/><rect x="30" y="48" width="3" height="3" fill="#9ae23e"/><rect x="30" y="51" width="3" height="3" fill="#9ae23e"/><rect x="30" y="54" width="3" height="3" fill="#9ae23e"/><rect x="33" y="0" width="3" height="3" fill="#9ae23e"/><rect x="33" y="3" width="3" height="3" fill="#9ae23e"/><rect x="33" y="6" width="3" height="3" fill="#9ae23e"/><rect x="33" y="9" width="3" height="3" fill="#80cc36"/><rect x="33" y="12" width="3" height="3" fill="#80cc36"/><rect x="33" y="15" width="3" height="3" fill="#5c9030"/><rect x="33" y="18" width="3" height="3" fill="#5c9030"/><rect x="33" y="21" width="3" height="3" fill="#9ae23e"/><rect x="33" y="24" width="3" height="3" fill="#bce055"/><rect x="33" y="27" width="3" height="3" fill="#9ae23e"/><rect x="33" y="30" width="3" height="3" fill="#80cc36"/><rect x="33" y="33" width="3" height="3" fill="#9ae23e"/><rect x="33" y="36" width="3" height="3" fill="#80cc36"/><rect x="33" y="39" width="3" height="3" fill="#9ae23e"/><rect x="33" y="42" width="3" height="3" fill="#bce055"/><rect x="33" y="45" width="3" height="3" fill="#80cc36"/><rect x="33" y="48" width="3" height="3" fill="#9ae23e"/><rect x="33" y="51" width="3" height="3" fill="#5c9030"/><rect x="33" y="54" width="3" height="3" fill="#9ae23e"/><rect x="36" y="0" width="3" height="3" fill="#80cc36"/><rect x="36" y="3" width="3" height="3" fill="#80cc36"/><rect x="36" y="6" width="3" height="3" fill="#5c9030"/><rect x="36" y="9" width="3" height="3" fill="#a088a8"/><rect x="36" y="12" width="3" height="3" fill="#bce055"/><rect x="36" y="15" width="3" height="3" fill="#80cc36"/><rect x="36" y="18" width="3" height="3" fill="#bce055"/><rect x="36" y="21" width="3" height="3" fill="#5c9030"/><rect x="36" y="24" width="3" height="3" fill="#80cc36"/><rect x="36" y="27" width="3" height="3" fill="#9ae23e"/><rect x="36" y="30" width="3" height="3" fill="#5c9030"/><rect x="36" y="33" width="3" height="3" fill="#80cc36"/><rect x="36" y="36" width="3" height="3" fill="#a088a8"/><rect x="36" y="39" width="3" height="3" fill="#a088a8"/><rect x="36" y="42" width="3" height="3" fill="#5c9030"/><rect x="36" y="45" width="3" height="3" fill="#80cc36"/><rect x="36" y="48" width="3" height="3" fill="#bce055"/><rect x="36" y="51" width="3" height="3" fill="#9ae23e"/><rect x="36" y="54" width="3" height="3" fill="#9ae23e"/><rect x="39" y="0" width="3" height="3" fill="#80cc36"/><rect x="39" y="3" width="3" height="3" fill="#5c9030"/><rect x="39" y="6" width="3" height="3" fill="#9ae23e"/><rect x="39" y="9" width="3" height="3" fill="#5c9030"/><rect x="39" y="12" width="3" height="3" fill="#bce055"/><rect x="39" y="15" width="3" height="3" fill="#80cc36"/><rect x="39" y="18" width="3" height="3" fill="#80cc36"/><rect x="39" y="21" width="3" height="3" fill="#9ae23e"/><rect x="39" y="24" width="3" height="3" fill="#9ae23e"/><rect x="39" y="27" width="3" height="3" fill="#a088a8"/><rect x="39" y="30" width="3" height="3" fill="#80cc36"/><rect x="39" y="33" width="3" height="3" fill="#a088a8"/><rect x="39" y="36" width="3" height="3" fill="#bce055"/><rect x="39" y="39" width="3" height="3" fill="#5c9030"/><rect x="39" y="42" width="3" height="3" fill="#9ae23e"/><rect x="39" y="45" width="3" height="3" fill="#a088a8"/><rect x="39" y="48" width="3" height="3" fill="#80cc36"/><rect x="39" y="51" width="3" height="3" fill="#80cc36"/><rect x="39" y="54" width="3" height="3" fill="#9ae23e"/><rect x="42" y="0" width="3" height="3" fill="#a088a8"/><rect x="42" y="3" width="3" height="3" fill="#80cc36"/><rect x="42" y="6" width="3" height="3" fill="#9ae23e"/><rect x="42" y="9" width="3" height="3" fill="#80cc36"/><rect x="42" y="12" width="3" height="3" fill="#9ae23e"/><rect x="42" y="15" width="3" height="3" fill="#5c9030"/><rect x="42" y="18" width="3" height="3" fill="#80cc36"/><rect x="42" y="21" width="3" height="3" fill="#9ae23e"/><rect x="42" y="24" width="3" height="3" fill="#8c9448"/><rect x="42" y="27" width="3" height="3" fill="#bce055"/><rect x="42" y="30" width="3" height="3" fill="#9ae23e"/><rect x="42" y="33" width="3" height="3" fill="#80cc36"/><rect x="42" y="36" width="3" height="3" fill="#9ae23e"/><rect x="42" y="39" width="3" height="3" fill="#bce055"/><rect x="42" y="42" width="3" height="3" fill="#8c9448"/><rect x="42" y="45" width="3" height="3" fill="#9ae23e"/><rect x="42" y="48" width="3" height="3" fill="#9ae23e"/><rect x="42" y="51" width="3" height="3" fill="#9ae23e"/><rect x="42" y="54" width="3" height="3" fill="#a088a8"/><rect x="45" y="0" width="3" height="3" fill="#9ae23e"/><rect x="45" y="3" width="3" height="3" fill="#5c9030"/><rect x="45" y="6" width="3" height="3" fill="#80cc36"/><rect x="45" y="9" width="3" height="3" fill="#5c9030"/><rect x="45" y="12" width="3" height="3" fill="#5c9030"/><rect x="45" y="15" width="3" height="3" fill="#8c9448"/><rect x="45" y="18" width="3" height="3" fill="#9ae23e"/><rect x="45" y="21" width="3" height="3" fill="#8c9448"/><rect x="45" y="24" width="3" height="3" fill="#9ae23e"/><rect x="45" y="27" width="3" height="3" fill="#80cc36"/><rect x="45" y="30" width="3" height="3" fill="#80cc36"/><rect x="45" y="33" width="3" height="3" fill="#9ae23e"/><rect x="45" y="36" width="3" height="3" fill="#80cc36"/><rect x="45" y="39" width="3" height="3" fill="#80cc36"/><rect x="45" y="42" width="3" height="3" fill="#80cc36"/><rect x="45" y="45" width="3" height="3" fill="#8c9448"/><rect x="45" y="48" width="3" height="3" fill="#5c9030"/><rect x="45" y="51" width="3" height="3" fill="#9ae23e"/><rect x="45" y="54" width="3" height="3" fill="#9ae23e"/><rect x="48" y="0" width="3" height="3" fill="#80cc36"/><rect x="48" y="3" width="3" height="3" fill="#bce055"/><rect x="48" y="6" width="3" height="3" fill="#bce055"/><rect x="48" y="9" width="3" height="3" fill="#80cc36"/><rect x="48" y="12" width="3" height="3" fill="#9ae23e"/><rect x="48" y="15" width="3" height="3" fill="#8c9448"/><rect x="48" y="18" width="3" height="3" fill="#80cc36"/><rect x="48" y="21" width="3" height="3" fill="#80cc36"/><rect x="48" y="24" width="3" height="3" fill="#5c9030"/><rect x="48" y="27" width="3" height="3" fill="#5c9030"/><rect x="48" y="30" width="3" height="3" fill="#80cc36"/><rect x="48" y="33" width="3" height="3" fill="#bce055"/><rect x="48" y="36" width="3" height="3" fill="#80cc36"/><rect x="48" y="39" width="3" height="3" fill="#80cc36"/><rect x="48" y="42" width="3" height="3" fill="#bce055"/><rect x="48" y="45" width="3" height="3" fill="#9ae23e"/><rect x="48" y="48" width="3" height="3" fill="#9ae23e"/><rect x="48" y="51" width="3" height="3" fill="#bce055"/><rect x="48" y="54" width="3" height="3" fill="#9ae23e"/><rect x="51" y="0" width="3" height="3" fill="#bce055"/><rect x="51" y="3" width="3" height="3" fill="#5c9030"/><rect x="51" y="6" width="3" height="3" fill="#80cc36"/><rect x="51" y="9" width="3" height="3" fill="#9ae23e"/><rect x="51" y="12" width="3" height="3" fill="#8c9448"/><rect x="51" y="15" width="3" height="3" fill="#bce055"/><rect x="51" y="18" width="3" height="3" fill="#9ae23e"/><rect x="51" y="21" width="3" height="3" fill="#80cc36"/><rect x="51" y="24" width="3" height="3" fill="#80cc36"/><rect x="51" y="27" width="3" height="3" fill="#80cc36"/><rect x="51" y="30" width="3" height="3" fill="#80cc36"/><rect x="51" y="33" width="3" height="3" fill="#9ae23e"/><rect x="51" y="36" width="3" height="3" fill="#5c9030"/><rect x="51" y="39" width="3" height="3" fill="#bce055"/><rect x="51" y="42" width="3" height="3" fill="#9ae23e"/><rect x="51" y="45" width="3" height="3" fill="#9ae23e"/><rect x="51" y="48" width="3" height="3" fill="#bce055"/><rect x="51" y="51" width="3" height="3" fill="#8c9448"/><rect x="51" y="54" width="3" height="3" fill="#5c9030"/><rect x="54" y="0" width="3" height="3" fill="#9ae23e"/><rect x="54" y="3" width="3" height="3" fill="#8c9448"/><rect x="54" y="6" width="3" height="3" fill="#a088a8"/><rect x="54" y="9" width="3" height="3" fill="#a088a8"/><rect x="54" y="12" width="3" height="3" fill="#5c9030"/><rect x="54" y="15" width="3" height="3" fill="#9ae23e"/><rect x="54" y="18" width="3" height="3" fill="#bce055"/><rect x="54" y="21" width="3" height="3" fill="#9ae23e"/><rect x="54" y="24" width="3" height="3" fill="#5c9030"/><rect x="54" y="27" width="3" height="3" fill="#a088a8"/><rect x="54" y="30" width="3" height="3" fill="#5c9030"/><rect x="54" y="33" width="3" height="3" fill="#9ae23e"/><rect x="54" y="36" width="3" height="3" fill="#9ae23e"/><rect x="54" y="39" width="3" height="3" fill="#bce055"/><rect x="54" y="42" width="3" height="3" fill="#9ae23e"/><rect x="54" y="45" width="3" height="3" fill="#5c9030"/><rect x="54" y="48" width="3" height="3" fill="#80cc36"/><rect x="54" y="51" width="3" height="3" fill="#9ae23e"/><rect x="54" y="54" width="3" height="3" fill="#5c9030"/><rect x="57" y="0" width="3" height="3" fill="#9ae23e"/><rect x="57" y="3" width="3" height="3" fill="#9ae23e"/><rect x="57" y="6" width="3" height="3" fill="#80cc36"/><rect x="57" y="9" width="3" height="3" fill="#9ae23e"/><rect x="57" y="12" width="3" height="3" fill="#9ae23e"/><rect x="57" y="15" width="3" height="3" fill="#80cc36"/><rect x="57" y="18" width="3" height="3" fill="#8c9448"/><rect x="57" y="21" width="3" height="3" fill="#bce055"/><rect x="57" y="24" width="3" height="3" fill="#9ae23e"/><rect x="57" y="27" width="3" height="3" fill="#80cc36"/><rect x="57" y="30" width="3" height="3" fill="#9ae23e"/><rect x="57" y="33" width="3" height="3" fill="#5c9030"/><rect x="57" y="36" width="3" height="3" fill="#80cc36"/><rect x="57" y="39" width="3" height="3" fill="#bce055"/><rect x="57" y="42" width="3" height="3" fill="#80cc36"/><rect x="57" y="45" width="3" height="3" fill="#9ae23e"/><rect x="57" y="48" width="3" height="3" fill="#5c9030"/><rect x="57" y="51" width="3" height="3" fill="#9ae23e"/><rect x="57" y="54" width="3" height="3" fill="#5c9030"/><rect x="60" y="0" width="3" height="3" fill="#80cc36"/><rect x="60" y="3" width="3" height="3" fill="#bce055"/><rect x="60" y="6" width="3" height="3" fill="#80cc36"/><rect x="60" y="9" width="3" height="3" fill="#5c9030"/><rect x="60" y="12" width="3" height="3" fill="#9ae23e"/><rect x="60" y="15" width="3" height="3" fill="#80cc36"/><rect x="60" y="18" width="3" height="3" fill="#9ae23e"/><rect x="60" y="21" width="3" height="3" fill="#8c9448"/><rect x="60" y="24" width="3" height="3" fill="#80cc36"/><rect x="60" y="27" width="3" height="3" fill="#9ae23e"/><rect x="60" y="30" width="3" height="3" fill="#9ae23e"/><rect x="60" y="33" width="3" height="3" fill="#80cc36"/><rect x="60" y="36" width="3" height="3" fill="#8c9448"/><rect x="60" y="39" width="3" height="3" fill="#9ae23e"/><rect x="60" y="42" width="3" height="3" fill="#5c9030"/><rect x="60" y="45" width="3" height="3" fill="#5c9030"/><rect x="60" y="48" width="3" height="3" fill="#9ae23e"/><rect x="60" y="51" width="3" height="3" fill="#5c9030"/><rect x="60" y="54" width="3" height="3" fill="#9ae23e"/><rect x="63" y="0" width="3" height="3" fill="#9ae23e"/><rect x="63" y="3" width="3" height="3" fill="#5c9030"/><rect x="63" y="6" width="3" height="3" fill="#9ae23e"/><rect x="63" y="9" width="3" height="3" fill="#bce055"/><rect x="63" y="12" width="3" height="3" fill="#80cc36"/><rect x="63" y="15" width="3" height="3" fill="#80cc36"/><rect x="63" y="18" width="3" height="3" fill="#8c9448"/><rect x="63" y="21" width="3" height="3" fill="#9ae23e"/><rect x="63" y="24" width="3" height="3" fill="#8c9448"/><rect x="63" y="27" width="3" height="3" fill="#9ae23e"/><rect x="63" y="30" width="3" height="3" fill="#9ae23e"/><rect x="63" y="33" width="3" height="3" fill="#a088a8"/><rect x="63" y="36" width="3" height="3" fill="#5c9030"/><rect x="63" y="39" width="3" height="3" fill="#9ae23e"/><rect x="63" y="42" width="3" height="3" fill="#9ae23e"/><rect x="63" y="45" width="3" height="3" fill="#a088a8"/><rect x="63" y="48" width="3" height="3" fill="#5c9030"/><rect x="63" y="51" width="3" height="3" fill="#bce055"/><rect x="63" y="54" width="3" height="3" fill="#9ae23e"/><rect x="66" y="0" width="3" height="3" fill="#5c9030"/><rect x="66" y="3" width="3" height="3" fill="#80cc36"/><rect x="66" y="6" width="3" height="3" fill="#9ae23e"/><rect x="66" y="9" width="3" height="3" fill="#80cc36"/><rect x="66" y="12" width="3" height="3" fill="#5c9030"/><rect x="66" y="15" width="3" height="3" fill="#80cc36"/><rect x="66" y="18" width="3" height="3" fill="#80cc36"/><rect x="66" y="21" width="3" height="3" fill="#9ae23e"/><rect x="66" y="24" width="3" height="3" fill="#bce055"/><rect x="66" y="27" width="3" height="3" fill="#5c9030"/><rect x="66" y="30" width="3" height="3" fill="#bce055"/><rect x="66" y="33" width="3" height="3" fill="#80cc36"/><rect x="66" y="36" width="3" height="3" fill="#bce055"/><rect x="66" y="39" width="3" height="3" fill="#80cc36"/><rect x="66" y="42" width="3" height="3" fill="#5c9030"/><rect x="66" y="45" width="3" height="3" fill="#80cc36"/><rect x="66" y="48" width="3" height="3" fill="#8c9448"/><rect x="66" y="51" width="3" height="3" fill="#80cc36"/><rect x="66" y="54" width="3" height="3" fill="#9ae23e"/><rect x="69" y="0" width="3" height="3" fill="#9ae23e"/><rect x="69" y="3" width="3" height="3" fill="#9ae23e"/><rect x="69" y="6" width="3" height="3" fill="#9ae23e"/><rect x="69" y="9" width="3" height="3" fill="#bce055"/><rect x="69" y="12" width="3" height="3" fill="#80cc36"/><rect x="69" y="15" width="3" height="3" fill="#8c9448"/><rect x="69" y="18" width="3" height="3" fill="#9ae23e"/><rect x="69" y="21" width="3" height="3" fill="#80cc36"/><rect x="69" y="24" width="3" height="3" fill="#bce055"/><rect x="69" y="27" width="3" height="3" fill="#5c9030"/><rect x="69" y="30" width="3" height="3" fill="#80cc36"/><rect x="69" y="33" width="3" height="3" fill="#80cc36"/><rect x="69" y="36" width="3" height="3" fill="#9ae23e"/><rect x="69" y="39" width="3" height="3" fill="#9ae23e"/><rect x="69" y="42" width="3" height="3" fill="#9ae23e"/><rect x="69" y="45" width="3" height="3" fill="#80cc36"/><rect x="69" y="48" width="3" height="3" fill="#80cc36"/><rect x="69" y="51" width="3" height="3" fill="#bce055"/><rect x="69" y="54" width="3" height="3" fill="#9ae23e"/><rect x="72" y="0" width="3" height="3" fill="#9ae23e"/><rect x="72" y="3" width="3" height="3" fill="#9ae23e"/><rect x="72" y="6" width="3" height="3" fill="#9ae23e"/><rect x="72" y="9" width="3" height="3" fill="#9ae23e"/><rect x="72" y="12" width="3" height="3" fill="#9ae23e"/><rect x="72" y="15" width="3" height="3" fill="#80cc36"/><rect x="72" y="18" width="3" height="3" fill="#9ae23e"/><rect x="72" y="21" width="3" height="3" fill="#bce055"/><rect x="72" y="24" width="3" height="3" fill="#80cc36"/><rect x="72" y="27" width="3" height="3" fill="#bce055"/><rect x="72" y="30" width="3" height="3" fill="#5c9030"/><rect x="72" y="33" width="3" height="3" fill="#5c9030"/><rect x="72" y="36" width="3" height="3" fill="#80cc36"/><rect x="72" y="39" width="3" height="3" fill="#a088a8"/><rect x="72" y="42" width="3" height="3" fill="#9ae23e"/><rect x="72" y="45" width="3" height="3" fill="#5c9030"/><rect x="72" y="48" width="3" height="3" fill="#9ae23e"/><rect x="72" y="51" width="3" height="3" fill="#5c9030"/><rect x="72" y="54" width="3" height="3" fill="#8c9448"/><rect x="75" y="0" width="3" height="3" fill="#9ae23e"/><rect x="75" y="3" width="3" height="3" fill="#9ae23e"/><rect x="75" y="6" width="3" height="3" fill="#9ae23e"/><rect x="75" y="9" width="3" height="3" fill="#9ae23e"/><rect x="75" y="12" width="3" height="3" fill="#9ae23e"/><rect x="75" y="15" width="3" height="3" fill="#80cc36"/><rect x="75" y="18" width="3" height="3" fill="#a088a8"/><rect x="75" y="21" width="3" height="3" fill="#80cc36"/><rect x="75" y="24" width="3" height="3" fill="#9ae23e"/><rect x="75" y="27" width="3" height="3" fill="#80cc36"/><rect x="75" y="30" width="3" height="3" fill="#9ae23e"/><rect x="75" y="33" width="3" height="3" fill="#8c9448"/><rect x="75" y="36" width="3" height="3" fill="#5c9030"/><rect x="75" y="39" width="3" height="3" fill="#9ae23e"/><rect x="75" y="42" width="3" height="3" fill="#9ae23e"/><rect x="75" y="45" width="3" height="3" fill="#5c9030"/><rect x="75" y="48" width="3" height="3" fill="#a088a8"/><rect x="75" y="51" width="3" height="3" fill="#5c9030"/><rect x="75" y="54" width="3" height="3" fill="#80cc36"/></pattern>
<clipPath id="lsclip"><polygon points="57,127 930,127 938.5,133 938.5,232 57,232"/></clipPath>
<clipPath id="gclip"><polygon points="394.5,120.0 474.0,120.0 474.0,149.0 455.0,148.0 430.0,142.0 410.0,138.0 394.5,133.0"/><polygon points="474.0,240.0 476.7,209.6 492.5,212.0 510.4,207.0 524.0,196.0 535.0,185.0 548.6,176.0 575.6,178.0 596.0,167.0 609.0,151.0 612.0,140.0 616.0,120.0 726.0,120.0 723.0,147.0 716.7,150.8 710.0,153.3 703.3,155.8 696.7,161.7 688.3,170.0 681.7,183.3 682.0,188.0 692.0,183.0 702.5,178.0 713.0,168.0 720.0,161.0 730.0,163.0 737.0,170.0 743.5,178.0 754.0,187.0 767.5,193.5 781.0,200.0 795.0,204.0 812.0,205.4 822.0,205.4 812.0,214.0 795.0,221.0 778.0,226.0 764.0,229.0 750.0,240.0"/><polygon points="307.0,240.0 310.0,215.0 323.0,198.0 344.0,198.0 348.0,215.0 350.0,240.0"/><polygon points="480.0,143.0 500.0,143.0 500.0,159.0 480.0,159.0"/><polygon points="523.0,134.0 547.0,134.0 547.0,147.0 523.0,147.0"/></clipPath>
<linearGradient id="rsea" gradientUnits="userSpaceOnUse" x1="680" x2="939" y1="0" y2="0"><stop offset="0" stop-color="#1c1c4c"/><stop offset="0.3" stop-color="#24245e"/><stop offset="0.55" stop-color="#30307a"/><stop offset="0.8" stop-color="#2c2c6c"/><stop offset="1" stop-color="#1e1e48"/></linearGradient>
<linearGradient id="lsea" x1="0" x2="1" y1="0" y2="0.1"><stop offset="0" stop-color="#2446c8"/><stop offset="0.4" stop-color="#1f34b8"/><stop offset="0.8" stop-color="#1e2aa4"/><stop offset="1" stop-color="#1e2c96"/></linearGradient>
<filter id="noise2" x="0" y="0" width="100%" height="100%"><feTurbulence type="fractalNoise" baseFrequency="0.25" numOctaves="3" seed="7"/><feColorMatrix type="matrix" values="0 0 0 0 0.3  0 0 0 0 0.25  0 0 0 0 0.32  0 1.7 0 0 -0.78"/></filter>
<filter id="noise3" x="0" y="0" width="100%" height="100%"><feTurbulence type="fractalNoise" baseFrequency="0.3" numOctaves="2" seed="11"/><feColorMatrix type="matrix" values="0 0 0 0 1  0 0 0 0 0.9  0 0 0 0 1  0 0 1.7 0 -0.82"/></filter>
<filter id="noiseg" x="0" y="0" width="100%" height="100%"><feTurbulence type="fractalNoise" baseFrequency="0.12 0.3" numOctaves="3" seed="5"/><feColorMatrix type="matrix" values="0 0 0 0 0.3  0 0 0 0 0.45  0 0 0 0 0.12  3.2 0 0 0 -1.35"/></filter>
<filter id="noisegl" x="0" y="0" width="100%" height="100%"><feTurbulence type="fractalNoise" baseFrequency="0.3" numOctaves="2" seed="9"/><feColorMatrix type="matrix" values="0 0 0 0 0.6  0 0 0 0 0.95  0 0 0 0 0.25  0 0 3 0 -1.45"/></filter>
<filter id="noisew" x="0" y="0" width="100%" height="100%"><feTurbulence type="fractalNoise" baseFrequency="0.12 0.03" numOctaves="2" seed="2"/><feColorMatrix type="matrix" values="0 0 0 0 0.2  0 0 0 0 0.42  0 0 0 0 0.9  1.6 0 0 0 -0.78"/></filter>
<filter id="lblur" x="-2%" y="-5%" width="104%" height="110%"><feGaussianBlur stdDeviation="0.9"/></filter>
</defs>
<g clip-path="url(#lsclip)"><g filter="url(#lblur)">
<rect x="50" y="120" width="896" height="120" fill="url(#urb)"/>
<polygon points="264.0,120.0 300.0,120.0 300.0,140.0 292.0,152.0 280.0,148.0 272.0,138.0" fill="#c8a6cc" opacity="0.55"/>
<polygon points="318.0,158.0 335.0,155.0 345.0,160.0 344.0,198.0 323.0,198.0 318.0,186.0 321.6,171.1" fill="#d8b8dc" opacity="0.55"/>
<polygon points="342.0,184.0 370.0,186.0 378.0,195.0 376.0,240.0 350.0,240.0 344.0,200.0" fill="#b898bc" opacity="0.55"/>
<polygon points="300.0,120.0 345.0,120.0 345.0,150.0 320.0,156.0 300.0,150.0" fill="#ac8cb2" opacity="0.55"/>
<polygon points="380.0,183.0 470.0,183.0 470.0,191.0 380.0,191.0" fill="#c8b8b0" opacity="0.55"/>
<polygon points="394.0,143.0 406.0,143.0 406.0,186.0 394.0,186.0" fill="#b8c878" opacity="0.55"/>
<polygon points="605.0,140.0 625.0,140.0 638.0,150.0 635.0,172.0 615.0,170.0 605.0,162.0" fill="#a890a8" opacity="0.55"/>
<path d="M476,210 C492,214 505,210 515,202 C525,192 535,180 548,176 C560,174 570,178 578,178 C585,186 590,196 596,212" fill="none" stroke="#4a5878" stroke-width="2.2"/>
<polygon points="394.5,120.0 474.0,120.0 474.0,149.0 455.0,148.0 430.0,142.0 410.0,138.0 394.5,133.0" fill="url(#veg)"/>
<polygon points="480.0,143.0 500.0,143.0 500.0,159.0 480.0,159.0" fill="url(#veg)"/>
<polygon points="523.0,134.0 547.0,134.0 547.0,147.0 523.0,147.0" fill="url(#veg)"/>
<polygon points="474.0,240.0 476.7,209.6 492.5,212.0 510.4,207.0 524.0,196.0 535.0,185.0 548.6,176.0 575.6,178.0 596.0,167.0 609.0,151.0 612.0,140.0 616.0,120.0 726.0,120.0 723.0,147.0 716.7,150.8 710.0,153.3 703.3,155.8 696.7,161.7 688.3,170.0 681.7,183.3 682.0,188.0 692.0,183.0 702.5,178.0 713.0,168.0 720.0,161.0 730.0,163.0 737.0,170.0 743.5,178.0 754.0,187.0 767.5,193.5 781.0,200.0 795.0,204.0 812.0,205.4 822.0,205.4 812.0,214.0 795.0,221.0 778.0,226.0 764.0,229.0 750.0,240.0" fill="url(#veg)"/>
<polygon points="307.0,240.0 310.0,215.0 323.0,198.0 344.0,198.0 348.0,215.0 350.0,240.0" fill="url(#veg)"/>
<polygon points="655.0,198.0 690.0,200.0 720.0,206.0 742.0,214.0 738.0,240.0 662.0,240.0 645.0,215.0" fill="#8c9a4a" opacity="0.6"/>
<polygon points="533.0,190.0 575.0,185.0 618.0,192.0 618.0,240.0 533.0,240.0" fill="#b4a0b8" opacity="0.4"/>
<polygon points="605.0,188.0 622.0,185.0 636.0,196.0 630.0,214.0 615.0,218.0 605.0,208.0" fill="#a894aa" opacity="0.6"/>
<polygon points="688.0,150.0 715.0,140.0 718.0,150.0 705.0,156.0 690.0,165.0" fill="#a894a8" opacity="0.6"/>
<path d="M476,210 C492,214 505,210 515,202 C525,192 535,180 548,176 C560,174 570,178 578,178 C585,186 590,196 596,212" fill="none" stroke="#4a5878" stroke-width="2"/>
<polygon points="474.0,208.0 490.0,205.0 497.0,212.0 497.0,240.0 474.0,240.0" fill="#70e060"/>
<polygon points="498.0,212.0 508.0,202.0 520.0,196.0 530.0,194.0 532.0,220.0 515.0,226.0 500.0,230.0" fill="#44604e" opacity="0.85"/>
<polygon points="50.0,120.0 264.5,127.5 269.3,133.9 274.0,142.6 278.8,147.4 282.0,153.7 284.3,163.2 285.9,174.3 287.5,185.4 288.3,187.8 293.8,186.2 294.6,194.9 294.6,240.0 50.0,240.0" fill="url(#lsea)"/>
<rect x="50" y="120" width="245" height="120" filter="url(#noisew)" opacity="0.6"/>
<ellipse cx="100" cy="140" rx="48" ry="16" fill="#3468d8" opacity="0.45" transform="rotate(18 100 140)"/>
<ellipse cx="75" cy="205" rx="22" ry="26" fill="#2e58cc" opacity="0.35"/>
<ellipse cx="150" cy="190" rx="8" ry="45" fill="#2e5ccc" opacity="0.3" transform="rotate(-12 150 190)"/>
<polygon points="292.2,152.9 296.2,153.7 301.0,160.0 305.7,164.8 312.0,166.4 318.4,168.0 321.6,171.1 318.4,175.9 315.2,183.8 313.6,188.6 302.5,191.7 294.6,193.3 293.0,188.6 293.8,185.4 294.6,174.3 293.0,161.6" fill="#243699"/>
<polygon points="264.5,127.5 300.0,120.0 301.0,140.0 292.2,152.9 293.0,161.6 294.6,174.3 293.8,186.2 288.3,187.8 287.5,185.4 285.9,174.3 284.3,163.2 282.0,153.7 278.8,147.4 274.0,142.6 269.3,133.9" fill="#dec2e2" opacity="0.75"/>
<polygon points="294.6,194.9 302.5,191.7 313.6,188.6 318.4,185.4 323.0,192.0 322.0,208.0 312.0,214.0 308.0,240.0 294.6,240.0" fill="#dab8de" opacity="0.8"/>
<polygon points="258.0,158.0 266.0,159.0 262.0,163.0" fill="#8ec04a"/>
<polygon points="267.6,194.0 276.0,198.0 281.0,205.0 280.0,208.0 270.0,203.0" fill="#8eb85a"/>
<polygon points="263.7,210.0 275.0,213.0 274.0,219.6 266.0,218.0" fill="#b090b0"/>
<polygon points="392.2,190.9 401.7,191.6 411.9,191.6 420.8,190.9 427.1,189.0 433.5,188.4 441.1,187.8 446.2,185.2 451.2,184.6 458.9,187.8 466.5,190.9 474.1,195.4 479.2,200.5 480.4,205.5 475.4,210.6 477.9,218.2 479.2,225.9 471.6,240.0 445.0,240.0 445.0,226.0 461.0,226.0 461.0,240.0 380.2,240.0 387.8,223.3 391.0,208.0 391.0,204.0 381.4,204.0 381.4,198.0 391.0,198.0" fill="#2838a2"/>
<polygon points="451.0,184.6 466.5,190.9 474.1,195.4 480.4,203.0 481.7,208.0 475.4,210.6 477.9,218.2 479.2,225.9 471.6,240.0 462.7,240.0 461.4,220.8 457.6,211.9 458.9,204.3 456.3,195.4" fill="#6670b0"/>
<polygon points="470.0,120.0 485.0,120.0 482.0,133.0 470.0,134.0" fill="#2a3060"/>
<polygon points="609.0,120.0 620.0,120.0 618.0,137.0 610.0,138.0" fill="#2a2e6a"/>
<polygon points="771.0,120.0 946.0,120.0 946.0,240.0 750.0,240.0 764.0,229.0 778.0,226.0 795.0,221.0 812.0,214.0 822.0,205.4 812.0,205.4 795.0,204.0 781.0,200.0 767.5,193.5 754.0,187.0 743.5,178.0 737.0,170.0 730.0,163.0 720.0,161.0 713.0,168.0 702.5,178.0 692.0,183.0 682.0,188.0 681.7,183.3 688.3,170.0 696.7,161.7 703.3,155.8 710.0,153.3 716.7,150.8 723.3,146.7 726.0,147.0 743.5,145.6 767.5,138.8" fill="url(#rsea)"/>
<polygon points="716.0,240.0 718.0,222.0 730.0,218.0 745.0,222.0 752.0,240.0" fill="#26265e"/>
<polygon points="726.0,120.0 771.0,120.0 767.5,138.8 743.5,145.6 726.0,147.0" fill="#c4a4d0"/>
<polygon points="770.3,154.8 777.3,153.6 780.9,159.5 789.0,160.7 798.4,159.5 800.8,163.0 793.7,165.4 786.7,166.5 782.0,172.4 786.7,175.9 779.7,178.2 772.6,174.7 775.0,167.7 770.3,161.8" fill="#8cc83c"/>
<polygon points="791.4,185.3 798.4,187.6 803.1,192.3 800.8,199.3 793.7,205.2 784.4,207.5 780.9,202.9 786.7,199.3 792.6,193.5 790.2,188.8" fill="#8cc83c"/>
<polygon points="846.0,211.0 854.7,209.0 852.0,218.0 847.0,218.0" fill="#8cc83c"/>
<path d="M926,154 Q919,165 932,171 L939,172 L939,164 Q930,166 930,155 Z" fill="#a8e440"/>
<path d="M925,170 Q930,173 939,174" stroke="#e02020" stroke-width="1.5" fill="none"/>
<path d="M868.0,128.0 L939,135.8" stroke="#3e1a2c" stroke-width="4" opacity="0.7"/>
<path d="M866.0,137.2 L939,145.2" stroke="#3e1a2c" stroke-width="4" opacity="0.7"/>
<path d="M864.0,146.4 L939,154.7" stroke="#3e1a2c" stroke-width="4" opacity="0.7"/>
<path d="M862.0,155.6 L939,164.1" stroke="#3e1a2c" stroke-width="4" opacity="0.7"/>
<path d="M860.0,164.8 L939,173.5" stroke="#3e1a2c" stroke-width="4" opacity="0.7"/>
<path d="M858.0,174.0 L939,182.9" stroke="#3e1a2c" stroke-width="4" opacity="0.7"/>
<path d="M856.0,183.2 L939,192.3" stroke="#3e1a2c" stroke-width="4" opacity="0.7"/>
<path d="M854.0,192.4 L939,201.7" stroke="#3e1a2c" stroke-width="4" opacity="0.7"/>
<path d="M852.0,201.6 L939,211.2" stroke="#3e1a2c" stroke-width="4" opacity="0.7"/>
<path d="M850.0,210.8 L939,220.6" stroke="#3e1a2c" stroke-width="4" opacity="0.7"/>
<path d="M848.0,220.0 L939,230.0" stroke="#3e1a2c" stroke-width="4" opacity="0.7"/>
<path d="M846.0,229.2 L939,239.4" stroke="#3e1a2c" stroke-width="4" opacity="0.7"/>
<path d="M844.0,238.4 L939,248.8" stroke="#3e1a2c" stroke-width="4" opacity="0.7"/>
</g></g>
<text x="64.2" y="168.7" font-family='"Liberation Sans", sans-serif' font-weight="bold" font-size="28" fill="#fff" textLength="157.5" lengthAdjust="spacingAndGlyphs">Landsat TM</text>
<g fill="#000"><circle cx="68.50" cy="180.2" r="2.45"/>
<circle cx="77.83" cy="180.2" r="2.45"/>
<circle cx="87.16" cy="180.2" r="2.45"/>
<circle cx="96.49" cy="180.2" r="2.45"/>
<circle cx="105.82" cy="180.2" r="2.45"/>
<circle cx="115.15" cy="180.2" r="2.45"/>
<circle cx="124.47" cy="180.2" r="2.45"/>
<circle cx="133.80" cy="180.2" r="2.45"/>
<circle cx="143.13" cy="180.2" r="2.45"/>
<circle cx="152.46" cy="180.2" r="2.45"/>
<circle cx="161.79" cy="180.2" r="2.45"/>
<circle cx="171.12" cy="180.2" r="2.45"/>
<circle cx="180.45" cy="180.2" r="2.45"/>
<circle cx="189.78" cy="180.2" r="2.45"/>
<circle cx="199.11" cy="180.2" r="2.45"/>
<circle cx="208.44" cy="180.2" r="2.45"/>
<circle cx="217.76" cy="180.2" r="2.45"/>
<circle cx="227.09" cy="180.2" r="2.45"/>
<circle cx="236.42" cy="180.2" r="2.45"/>
<circle cx="245.75" cy="180.2" r="2.45"/>
<circle cx="255.08" cy="180.2" r="2.45"/>
<circle cx="264.41" cy="180.2" r="2.45"/>
<circle cx="273.74" cy="180.2" r="2.45"/>
<circle cx="283.07" cy="180.2" r="2.45"/>
<circle cx="292.40" cy="180.2" r="2.45"/>
<circle cx="301.73" cy="180.2" r="2.45"/>
<circle cx="311.05" cy="180.2" r="2.45"/>
<circle cx="320.38" cy="180.2" r="2.45"/>
<circle cx="329.71" cy="180.2" r="2.45"/>
<circle cx="339.04" cy="180.2" r="2.45"/>
<circle cx="348.37" cy="180.2" r="2.45"/>
<circle cx="357.70" cy="180.2" r="2.45"/>
<circle cx="367.03" cy="180.2" r="2.45"/>
<circle cx="376.36" cy="180.2" r="2.45"/>
<circle cx="385.69" cy="180.2" r="2.45"/>
<circle cx="395.02" cy="180.2" r="2.45"/>
<circle cx="404.34" cy="180.2" r="2.45"/>
<circle cx="413.67" cy="180.2" r="2.45"/>
<circle cx="423.00" cy="180.2" r="2.45"/>
<circle cx="432.33" cy="180.2" r="2.45"/>
<circle cx="441.66" cy="180.2" r="2.45"/>
<circle cx="450.99" cy="180.2" r="2.45"/>
<circle cx="460.32" cy="180.2" r="2.45"/>
<circle cx="469.65" cy="180.2" r="2.45"/>
<circle cx="478.98" cy="180.2" r="2.45"/>
<circle cx="488.31" cy="180.2" r="2.45"/>
<circle cx="497.63" cy="180.2" r="2.45"/>
<circle cx="506.96" cy="180.2" r="2.45"/>
<circle cx="516.29" cy="180.2" r="2.45"/>
<circle cx="525.62" cy="180.2" r="2.45"/>
<circle cx="534.95" cy="180.2" r="2.45"/>
<circle cx="544.28" cy="180.2" r="2.45"/>
<circle cx="553.61" cy="180.2" r="2.45"/>
<circle cx="562.94" cy="180.2" r="2.45"/>
<circle cx="572.27" cy="180.2" r="2.45"/>
<circle cx="581.60" cy="180.2" r="2.45"/>
<circle cx="590.92" cy="180.2" r="2.45"/>
<circle cx="600.25" cy="180.2" r="2.45"/>
<circle cx="609.58" cy="180.2" r="2.45"/>
<circle cx="618.91" cy="180.2" r="2.45"/>
<circle cx="628.24" cy="180.2" r="2.45"/>
<circle cx="637.57" cy="180.2" r="2.45"/>
<circle cx="646.90" cy="180.2" r="2.45"/>
<circle cx="656.23" cy="180.2" r="2.45"/>
<circle cx="665.56" cy="180.2" r="2.45"/>
<circle cx="674.88" cy="180.2" r="2.45"/>
<circle cx="684.21" cy="180.2" r="2.45"/>
<circle cx="693.54" cy="180.2" r="2.45"/>
<circle cx="702.87" cy="180.2" r="2.45"/>
<circle cx="712.20" cy="180.2" r="2.45"/>
<circle cx="721.53" cy="180.2" r="2.45"/>
<circle cx="730.86" cy="180.2" r="2.45"/>
<circle cx="740.19" cy="180.2" r="2.45"/>
<circle cx="749.52" cy="180.2" r="2.45"/>
<circle cx="758.85" cy="180.2" r="2.45"/>
<circle cx="768.18" cy="180.2" r="2.45"/>
<circle cx="777.50" cy="180.2" r="2.45"/>
<circle cx="786.83" cy="180.2" r="2.45"/>
<circle cx="796.16" cy="180.2" r="2.45"/>
<circle cx="805.49" cy="180.2" r="2.45"/>
<circle cx="814.82" cy="180.2" r="2.45"/>
<circle cx="824.15" cy="180.2" r="2.45"/>
<circle cx="833.48" cy="180.2" r="2.45"/>
<circle cx="842.81" cy="180.2" r="2.45"/>
<circle cx="852.14" cy="180.2" r="2.45"/>
<circle cx="861.47" cy="180.2" r="2.45"/>
<circle cx="870.79" cy="180.2" r="2.45"/>
<circle cx="880.12" cy="180.2" r="2.45"/>
<circle cx="889.45" cy="180.2" r="2.45"/></g>
<g stroke="#000" stroke-width="1.8" fill="none">
<path d="M55.9,243.2 V679.4"/>
<path d="M49.3,679.4 H922.9"/>
<path d="M49.3,679.4 H55.9"/>
<path d="M49.3,592.2 H55.9"/>
<path d="M49.3,504.9 H55.9"/>
<path d="M49.3,417.7 H55.9"/>
<path d="M49.3,330.4 H55.9"/>
<path d="M49.3,243.2 H55.9"/>
<path d="M55.9,679.4 V685.4"/>
<path d="M152.2,679.4 V685.4"/>
<path d="M248.6,679.4 V685.4"/>
<path d="M344.9,679.4 V685.4"/>
<path d="M441.2,679.4 V685.4"/>
<path d="M537.5,679.4 V685.4"/>
<path d="M633.9,679.4 V685.4"/>
<path d="M730.2,679.4 V685.4"/>
<path d="M826.5,679.4 V685.4"/>
<path d="M922.9,679.4 V685.4"/>
</g>
<path d="M65.5,672.0 C67.1,672.0 72.0,672.0 75.2,672.0 C78.4,672.0 81.6,672.0 84.8,672.0 C88.0,672.0 91.2,672.0 94.4,672.0 C97.6,672.0 100.9,672.0 104.1,672.0 C107.3,672.0 110.5,672.0 113.7,672.0 C116.9,672.0 120.1,672.0 123.3,672.0 C126.5,672.0 129.8,672.1 133.0,672.0 C136.2,671.8 139.4,671.4 142.6,671.1 C145.8,670.8 149.0,670.5 152.2,670.2 C155.4,669.9 158.7,669.8 161.9,669.4 C165.1,668.9 168.3,668.1 171.5,667.6 C174.7,667.1 177.9,666.6 181.1,666.3 C184.3,666.0 187.6,666.0 190.8,665.9 C194.0,665.8 197.2,666.1 200.4,665.9 C203.6,665.7 206.8,665.3 210.0,664.6 C213.2,663.8 216.3,662.4 219.7,661.5 C223.0,660.6 227.1,660.6 230.0,659.3 C232.9,658.0 234.8,656.0 237.2,653.9 C239.6,651.8 242.3,649.7 244.4,646.6 C246.5,643.6 248.3,640.3 249.9,635.8 C251.4,631.4 252.3,625.1 253.8,620.0 C255.2,614.9 257.3,609.2 258.8,605.0 C260.2,600.8 261.5,597.9 262.5,595.0 C263.5,592.1 264.0,590.4 265.0,587.5 C266.0,584.6 267.5,581.2 268.8,577.5 C270.0,573.8 271.5,569.6 272.5,565.0 C273.5,560.4 274.2,553.8 275.0,550.0 C275.8,546.2 276.2,543.8 277.5,542.5 C278.8,541.2 280.8,542.9 282.5,542.5 C284.2,542.1 285.8,542.1 287.5,540.0 C289.2,537.9 290.8,534.2 292.5,530.0 C294.2,525.8 295.8,519.2 297.5,515.0 C299.2,510.8 301.2,507.5 302.5,505.0 C303.8,502.5 304.4,500.7 305.0,500.0 C305.6,499.3 304.5,502.6 306.4,500.6 C308.2,498.5 313.4,494.2 316.0,487.5 C318.6,480.7 319.3,470.8 321.7,460.2 C324.2,449.5 328.4,435.7 330.9,423.5 C333.5,411.3 335.0,396.0 337.0,386.8 C339.1,377.6 341.6,372.0 343.1,368.4 C344.7,364.9 344.7,365.4 346.2,365.4 C347.7,365.4 350.8,367.7 352.3,368.4 C353.9,369.2 354.4,373.0 355.4,370.0 C356.4,366.9 357.4,356.0 358.4,350.1 C359.5,344.2 360.2,338.1 361.5,334.8 C362.8,331.5 364.3,329.4 366.1,330.2 C367.8,331.0 369.4,336.4 371.9,339.6 C374.5,342.7 378.9,345.4 381.5,349.2 C384.2,352.9 385.3,357.4 387.9,361.9 C390.6,366.5 394.8,371.0 397.5,376.3 C400.2,381.7 401.8,386.7 403.9,393.9 C406.0,401.1 408.2,409.9 410.3,419.5 C412.4,429.0 414.5,441.3 416.7,451.4 C418.8,461.5 420.9,471.6 423.1,480.2 C425.2,488.7 427.3,496.9 429.5,502.5 C431.6,508.1 433.2,511.0 435.8,513.7 C438.5,516.4 442.5,517.2 445.4,518.5 C448.4,519.8 451.3,519.6 453.4,521.7 C455.5,523.8 456.3,531.3 458.2,531.3 C460.1,531.3 462.5,528.1 464.6,521.7 C466.7,515.3 468.3,499.3 471.0,492.9 C473.7,486.5 477.9,487.6 480.6,483.4 C483.2,479.1 484.8,475.4 487.0,467.4 C489.1,459.4 491.7,446.1 493.4,435.4 C495.0,424.8 495.0,413.1 496.7,403.3 C498.3,393.5 501.1,383.3 503.3,376.7 C505.6,370.0 507.8,366.9 510.0,363.3 C512.2,359.7 514.7,355.8 516.7,355.0 C518.6,354.2 520.0,355.3 521.7,358.3 C523.3,361.4 525.0,366.9 526.7,373.3 C528.3,379.7 530.0,387.8 531.7,396.7 C533.3,405.6 534.7,420.0 536.7,426.7 C538.6,433.3 541.1,433.9 543.3,436.7 C545.6,439.4 547.8,440.0 550.0,443.3 C552.2,446.7 554.4,453.6 556.7,456.7 C558.9,459.7 561.1,461.4 563.3,461.7 C565.6,461.9 567.8,459.7 570.0,458.3 C572.2,456.9 574.2,454.2 576.7,453.3 C579.2,452.5 582.8,452.8 585.0,453.3 C587.2,453.8 588.3,454.3 590.0,456.2 C591.7,458.2 593.3,461.5 595.0,465.0 C596.7,468.5 598.3,473.3 600.0,477.5 C601.7,481.7 603.3,486.2 605.0,490.0 C606.7,493.8 608.3,497.1 610.0,500.0 C611.7,502.9 613.1,505.4 615.0,507.5 C616.9,509.6 619.6,510.4 621.2,512.5 C622.9,514.6 624.0,516.7 625.0,520.0 C626.0,523.3 626.7,527.5 627.5,532.5 C628.3,537.5 629.2,545.0 630.0,550.0 C630.8,555.0 631.5,558.8 632.5,562.5 C633.5,566.2 634.8,570.2 636.2,572.5 C637.7,574.8 639.8,574.6 641.2,576.2 C642.7,577.9 643.8,576.9 645.0,582.5 C646.2,588.1 647.5,602.9 648.7,609.8 C649.9,616.7 651.0,620.0 652.2,623.9 C653.4,627.9 654.4,630.2 655.8,633.4 C657.1,636.5 658.5,640.1 660.5,642.8 C662.5,645.6 664.8,648.2 667.6,649.9 C670.3,651.7 673.9,652.3 677.0,653.5 C680.2,654.7 683.3,656.0 686.5,657.0 C689.6,658.0 692.8,658.8 695.9,659.4 C699.1,660.0 702.2,660.2 705.4,660.6 C708.5,661.0 710.1,661.1 714.8,661.7 C719.5,662.4 728.2,664.0 733.7,664.6 C739.3,665.2 743.0,665.1 748.3,665.5 C753.7,665.8 760.0,666.2 765.8,666.6 C771.7,667.1 777.5,667.6 783.3,668.1 C789.2,668.6 795.0,669.2 800.8,669.6 C806.7,669.9 812.5,670.2 818.3,670.4 C824.1,670.7 830.0,670.8 835.8,671.0 C841.6,671.3 847.5,671.6 853.3,671.9 C859.1,672.1 865.0,672.3 870.8,672.5 C876.6,672.6 882.5,672.7 888.3,672.8 C894.1,672.9 901.4,673.0 905.8,673.1 C910.2,673.1 913.1,673.1 914.6,673.1" fill="none" stroke="#00b050" stroke-width="3.4" stroke-linejoin="round" stroke-dasharray="4.5 5.5" stroke-linecap="round"/>
<path d="M65.5,664.1 C67.1,664.2 72.0,664.6 75.2,664.6 C78.4,664.6 81.6,664.9 84.8,664.1 C88.0,663.3 91.2,660.6 94.4,659.8 C97.6,659.0 100.9,659.5 104.1,659.3 C107.3,659.2 110.5,659.0 113.7,658.9 C116.9,658.8 120.1,658.8 123.3,658.9 C126.5,659.0 129.8,659.3 133.0,659.3 C136.2,659.3 139.4,659.6 142.6,658.9 C145.8,658.2 149.0,656.2 152.2,655.0 C155.4,653.7 158.7,652.6 161.9,651.5 C165.1,650.3 168.3,649.0 171.5,648.0 C174.7,647.0 177.9,647.4 181.1,645.4 C184.3,643.3 187.6,638.3 190.8,635.8 C194.0,633.3 197.2,633.1 200.4,630.5 C203.6,628.0 207.6,623.5 210.0,620.5 C212.5,617.5 213.3,614.7 215.0,612.5 C216.7,610.3 218.1,608.8 220.0,607.5 C221.9,606.2 224.2,607.1 226.2,605.0 C228.3,602.9 230.6,599.8 232.5,595.0 C234.4,590.2 236.2,579.6 237.5,576.2 C238.8,572.9 238.5,575.0 240.0,575.0 C241.5,575.0 244.6,577.9 246.2,576.2 C247.9,574.6 249.0,569.0 250.0,565.0 C251.0,561.0 251.7,558.8 252.5,552.5 C253.3,546.2 254.2,535.8 255.0,527.5 C255.8,519.2 256.5,510.8 257.5,502.5 C258.5,494.2 260.0,484.6 261.2,477.5 C262.5,470.4 263.8,465.4 265.0,460.0 C266.2,454.6 267.9,448.3 268.8,445.0 C269.6,441.7 268.5,446.7 270.0,440.0 C271.5,433.3 274.6,410.6 277.5,405.0 C280.3,399.5 283.9,419.0 287.1,406.8 C290.3,394.6 293.5,349.3 296.7,331.7 C299.9,314.2 303.1,309.4 306.4,301.2 C309.6,293.0 312.8,289.4 316.0,282.5 C319.2,275.6 322.4,264.3 325.6,259.8 C328.8,255.3 332.0,256.4 335.3,255.4 C338.5,254.4 341.2,254.1 344.9,253.7 C348.6,253.3 351.1,253.4 357.6,253.0 C364.1,252.6 374.7,251.4 383.9,251.2 C393.2,251.1 405.9,252.3 413.2,252.1 C420.6,251.9 423.3,249.4 427.9,250.1 C432.5,250.7 437.2,255.8 441.1,255.9 C445.0,256.0 448.2,251.5 451.3,250.6 C454.5,249.8 457.0,250.1 460.1,250.6 C463.3,251.2 467.0,254.4 470.4,254.2 C473.8,253.9 475.0,249.9 480.6,249.2 C486.3,248.5 497.2,250.1 504.1,250.1 C510.9,250.1 514.8,249.5 521.7,249.2 C528.5,248.9 538.3,248.9 545.1,248.3 C551.9,247.7 557.8,246.0 562.7,245.7 C567.6,245.3 570.5,245.5 574.4,246.3 C578.3,247.0 582.5,248.6 586.1,250.1 C589.8,251.5 593.2,254.4 596.4,255.0 C599.5,255.7 602.0,252.9 605.2,254.2 C608.3,255.4 611.8,259.5 615.4,262.4 C619.1,265.2 624.3,268.8 627.1,271.2 C629.9,273.5 630.0,272.7 632.2,276.2 C634.4,279.8 637.9,287.0 640.3,292.4 C642.6,297.7 644.3,302.4 646.3,308.5 C648.3,314.5 650.7,321.9 652.4,328.6 C654.0,335.3 655.0,340.7 656.4,348.7 C657.7,356.8 659.2,369.9 660.4,376.9 C661.6,384.0 662.3,388.3 663.6,391.0 C665.0,393.7 667.0,393.0 668.5,393.0 C669.9,393.0 671.2,386.5 672.5,391.0 C673.8,395.5 675.4,412.7 676.2,420.0 C677.1,427.3 676.9,429.6 677.5,435.0 C678.1,440.4 679.4,447.1 680.0,452.5 C680.6,457.9 680.6,462.9 681.2,467.5 C681.9,472.1 682.7,476.5 683.8,480.0 C684.8,483.5 686.0,486.2 687.5,488.8 C689.0,491.2 690.4,493.3 692.5,495.0 C694.6,496.7 697.5,498.0 700.0,498.8 C702.5,499.5 705.4,499.3 707.5,499.5 C709.6,499.7 710.8,499.1 712.5,500.0 C714.2,500.9 715.8,502.9 717.5,505.0 C719.2,507.1 720.4,509.2 722.5,512.5 C724.6,515.8 727.6,520.2 730.0,525.0 C732.4,529.8 734.3,535.9 736.7,541.2 C739.0,546.6 741.5,552.4 744.0,557.3 C746.4,562.1 748.6,567.2 751.2,570.4 C753.9,573.6 757.3,574.5 760.0,576.2 C762.7,577.9 764.9,579.9 767.3,580.6 C769.7,581.3 772.4,579.9 774.6,580.6 C776.8,581.3 778.5,583.0 780.4,585.0 C782.3,586.9 784.1,589.6 786.2,592.3 C788.4,595.0 791.1,598.1 793.5,601.0 C796.0,603.9 798.6,607.6 800.8,609.8 C803.0,612.0 804.2,613.7 806.7,614.1 C809.1,614.6 813.0,612.0 815.4,612.7 C817.8,613.4 819.3,616.3 821.2,618.5 C823.2,620.7 825.1,623.6 827.1,625.8 C829.0,628.0 830.5,629.9 832.9,631.6 C835.3,633.3 838.2,634.8 841.6,636.0 C845.1,637.2 849.4,638.0 853.3,638.9 C857.2,639.9 861.1,640.6 865.0,641.9 C868.9,643.1 872.8,644.5 876.6,646.2 C880.5,647.9 884.9,650.6 888.3,652.1 C891.7,653.5 894.1,654.5 897.1,655.0 C900.0,655.5 902.9,655.6 905.8,655.0 C908.7,654.4 913.1,652.1 914.6,651.5" fill="none" stroke="#a6a6a6" stroke-width="3.2" stroke-linejoin="round" stroke-linecap="round"/>
<path d="M65.5,678.6 C101.7,678.6 244.9,679.0 282.3,678.6 C319.7,678.2 288.0,677.3 290.0,676.5 C292.0,675.7 292.6,673.9 294.0,673.7 C295.4,673.5 297.1,674.8 298.6,675.5 C300.1,676.2 299.1,677.5 303.0,678.0 C306.9,678.5 318.0,679.0 321.8,678.6 C325.5,678.2 324.7,678.4 325.7,675.5 C326.6,672.6 326.9,666.2 327.5,661.1 C328.1,656.0 328.7,650.6 329.3,644.8 C329.9,639.1 330.5,632.8 331.1,626.8 C331.7,620.8 332.3,614.8 332.9,608.7 C333.4,602.7 333.9,596.4 334.3,590.7 C334.8,585.0 335.2,579.0 335.6,574.4 C336.0,569.9 335.8,577.7 336.5,563.6 C337.2,549.5 338.6,510.0 340.0,489.7 C341.4,469.4 342.7,451.4 344.8,441.8 C346.9,432.2 350.6,437.6 352.8,432.2 C354.9,426.9 355.4,418.1 357.6,409.9 C359.7,401.6 363.4,384.3 365.6,382.7 C367.7,381.1 368.8,395.2 370.4,400.3 C371.9,405.3 373.3,413.3 375.1,413.1 C377.0,412.8 379.4,396.6 381.5,398.7 C383.7,400.8 386.1,414.4 387.9,425.8 C389.8,437.3 391.1,452.5 392.7,467.4 C394.3,482.3 396.2,502.5 397.5,515.3 C398.8,528.1 399.4,545.1 400.7,544.1 C402.0,543.0 403.9,523.3 405.5,508.9 C407.1,494.5 408.7,470.6 410.3,457.8 C411.9,445.0 412.7,437.0 415.1,432.2 C417.5,427.4 421.5,430.4 424.7,429.0 C427.9,427.7 431.6,422.1 434.2,424.2 C436.9,426.4 438.8,432.5 440.6,441.8 C442.5,451.1 444.1,466.8 445.4,480.2 C446.8,493.5 447.8,513.2 448.6,521.7 C449.4,530.2 449.2,536.6 450.2,531.3 C451.3,526.0 453.4,504.9 455.0,489.7 C456.6,474.6 457.9,447.7 459.8,440.2 C461.7,432.8 463.8,442.1 466.2,445.0 C468.6,447.9 471.5,453.5 474.2,457.8 C476.8,462.1 480.0,467.4 482.2,470.6 C484.3,473.8 485.4,480.2 487.0,477.0 C488.6,473.8 490.4,458.1 491.8,451.4 C493.1,444.7 493.9,443.8 495.0,436.7 C496.1,429.5 495.8,414.4 498.3,408.3 C500.8,402.2 506.7,403.6 510.0,400.0 C513.3,396.4 516.1,393.3 518.3,386.7 C520.6,380.0 521.8,367.2 523.3,360.0 C524.8,352.8 525.9,343.9 527.3,343.3 C528.7,342.8 530.4,351.1 531.7,356.7 C532.9,362.2 533.9,368.9 535.0,376.7 C536.1,384.4 537.5,395.0 538.3,403.3 C539.2,411.7 539.4,418.3 540.0,426.7 C540.6,435.0 541.1,443.3 541.7,453.3 C542.2,463.3 542.6,474.8 543.3,486.7 C544.0,498.6 545.1,517.2 545.9,524.7 C546.7,532.2 546.5,529.3 548.3,531.8 C550.0,534.4 554.8,536.1 556.5,540.1 C558.3,544.0 558.1,547.8 558.9,555.4 C559.7,563.1 560.5,576.3 561.3,586.1 C562.0,596.0 562.8,605.0 563.6,614.5 C564.4,623.9 564.8,635.4 566.0,642.8 C567.2,650.3 569.5,656.2 570.7,659.4 C571.9,662.5 572.1,662.5 573.1,661.7 C574.1,661.0 575.6,659.4 576.6,654.7 C577.6,649.9 578.2,640.9 579.0,633.4 C579.8,625.9 580.6,618.8 581.3,609.8 C582.1,600.7 582.7,586.1 583.7,579.1 C584.7,572.0 586.1,567.2 587.2,567.2 C588.4,567.2 589.6,573.9 590.8,579.1 C592.0,584.2 593.2,591.7 594.3,598.0 C595.5,604.3 596.7,610.6 597.9,616.9 C599.1,623.2 600.2,629.9 601.4,635.8 C602.6,641.7 603.8,647.6 605.0,652.3 C606.1,657.0 607.3,660.4 608.5,664.1 C609.7,667.8 610.9,672.2 612.1,674.7 C613.2,677.3 612.6,678.7 615.6,679.5 C618.5,680.2 626.6,680.1 629.8,679.5 C632.9,678.9 633.1,678.5 634.5,675.9 C635.9,673.4 636.7,668.4 638.0,664.1 C639.4,659.8 641.2,650.7 642.8,649.9 C644.3,649.1 646.1,655.4 647.5,659.4 C648.9,663.3 650.0,670.2 651.0,673.6 C652.0,676.9 646.7,678.7 653.4,679.5 C660.1,680.2 684.1,681.2 691.2,678.3 C698.3,675.3 694.3,667.6 695.9,661.7 C697.5,655.8 699.3,649.1 700.6,642.8 C702.0,636.5 703.0,628.7 704.2,623.9 C705.4,619.2 706.5,617.1 707.7,614.5 C708.9,611.9 710.1,607.8 711.3,608.6 C712.5,609.4 713.8,614.3 714.8,619.2 C715.8,624.1 716.5,630.2 717.2,638.1 C717.9,646.0 718.3,659.9 719.2,666.6 C720.0,673.3 714.3,676.4 722.1,678.3 C729.9,680.3 757.8,681.2 765.8,678.3 C773.8,675.4 769.0,666.6 770.2,660.8 C771.4,655.0 772.1,648.4 773.1,643.3 C774.1,638.2 775.1,632.6 776.0,630.2 C777.0,627.8 778.0,627.5 778.9,628.7 C779.9,629.9 780.9,633.1 781.9,637.5 C782.8,641.9 783.8,649.1 784.8,655.0 C785.8,660.8 786.7,668.4 787.7,672.5 C788.7,676.5 789.2,678.1 790.6,679.2 C792.1,680.3 794.7,681.3 796.4,679.2 C798.1,677.1 799.4,671.2 800.8,666.6 C802.3,662.1 803.7,655.7 805.2,652.1 C806.7,648.4 808.1,646.2 809.6,644.8 C811.0,643.3 812.5,643.8 813.9,643.3 C815.4,642.8 816.9,641.4 818.3,641.9 C819.8,642.3 821.2,643.6 822.7,646.2 C824.1,648.9 825.6,654.0 827.1,657.9 C828.5,661.8 830.2,666.2 831.4,669.6 C832.7,673.0 820.7,676.9 834.4,678.3 C848.0,679.8 900.0,678.3 913.1,678.3" fill="none" stroke="#ff0000" stroke-width="4.8" stroke-linejoin="round" stroke-dasharray="5 10" stroke-linecap="round"/>
<path d="M65.5,631.4 C72.0,631.3 89.6,631.2 104.1,631.0 C118.5,630.8 141.0,630.5 152.2,630.1 C163.5,629.7 165.1,629.2 171.5,628.4 C177.9,627.6 184.3,626.5 190.8,625.3 C197.2,624.1 206.0,621.9 210.0,620.9 C214.1,620.0 212.5,620.0 215.0,619.5 C217.5,619.0 221.2,619.2 225.0,618.0 C228.8,616.8 233.8,614.0 237.5,612.5 C241.2,611.0 244.0,610.8 247.5,608.8 C251.0,606.7 256.5,603.1 258.8,600.0 C261.0,596.9 260.4,594.2 261.2,590.0 C262.1,585.8 262.9,579.2 263.8,575.0 C264.6,570.8 265.4,569.2 266.2,565.0 C267.1,560.8 267.3,554.0 268.8,550.0 C270.2,546.0 273.3,544.8 275.0,541.2 C276.7,537.7 277.7,532.7 278.8,528.8 C279.8,524.8 280.6,521.9 281.2,517.5 C281.9,513.1 281.9,507.1 282.5,502.5 C283.1,497.9 284.4,494.6 285.0,490.0 C285.6,485.4 285.8,478.8 286.2,475.0 C286.7,471.2 287.1,471.2 287.5,467.5 C287.9,463.8 288.3,456.7 288.8,452.5 C289.2,448.3 289.5,448.8 290.0,442.5 C290.5,436.2 290.4,429.4 291.5,414.4 C292.6,399.5 295.4,368.2 296.7,352.8 C297.9,337.4 297.5,330.9 299.2,321.9 C300.9,312.9 303.7,304.3 306.9,298.8 C310.2,293.3 315.2,291.3 318.7,288.9 C322.2,286.5 324.3,285.9 327.9,284.3 C331.4,282.8 336.8,281.8 340.1,279.8 C343.4,277.7 345.7,274.7 347.7,272.1 C349.8,269.6 351.0,262.2 352.3,264.5 C353.6,266.8 354.4,274.7 355.4,285.9 C356.4,297.1 357.7,316.5 358.4,331.7 C359.2,347.0 359.3,359.3 360.0,377.6 C360.6,396.0 361.7,423.1 362.4,441.8 C363.0,460.5 363.2,474.3 364.0,489.7 C364.8,505.2 366.0,525.0 367.2,534.5 C368.3,544.0 369.3,543.3 371.1,546.7 C372.9,550.0 375.7,554.4 377.8,554.4 C379.8,554.4 381.7,545.6 383.3,546.7 C385.0,547.8 386.5,557.0 387.8,561.1 C389.1,565.2 389.8,567.0 391.1,571.1 C392.4,575.2 394.3,581.5 395.6,585.6 C396.9,589.6 397.0,594.8 398.9,595.6 C400.7,596.3 404.8,592.8 406.7,590.0 C408.5,587.2 408.7,583.0 410.0,578.9 C411.3,574.8 412.4,567.4 414.4,565.6 C416.5,563.7 418.7,568.0 422.2,567.8 C425.7,567.6 432.2,563.7 435.6,564.4 C438.9,565.2 440.4,568.3 442.2,572.2 C444.1,576.1 445.4,583.7 446.7,587.8 C448.0,591.9 448.5,597.0 450.0,596.7 C451.5,596.3 454.1,589.1 455.6,585.6 C457.0,582.0 457.0,578.7 458.9,575.6 C460.7,572.4 463.7,567.8 466.7,566.7 C469.6,565.6 473.3,567.0 476.7,568.9 C480.0,570.7 483.9,577.4 486.7,577.8 C489.4,578.1 491.5,574.4 493.3,571.1 C495.2,567.8 495.9,561.3 497.8,557.8 C499.6,554.3 502.2,553.1 504.4,550.0 C506.7,546.9 509.4,542.2 511.1,538.9 C512.8,535.6 512.4,535.9 514.4,530.0 C516.5,524.1 520.7,507.8 523.3,503.3 C525.9,498.9 527.8,498.9 530.0,503.3 C532.2,507.8 535.0,521.3 536.7,530.0 C538.3,538.7 538.9,547.3 540.0,555.4 C541.1,563.6 542.6,573.5 543.5,579.1 C544.5,584.6 544.5,585.4 545.9,588.5 C547.3,591.7 549.6,596.0 551.8,598.0 C554.0,599.9 556.9,599.3 558.9,600.3 C560.9,601.3 561.3,602.1 563.6,603.9 C566.0,605.6 570.3,610.2 573.1,611.0 C575.8,611.7 577.8,609.8 580.2,608.6 C582.5,607.4 584.5,604.3 587.2,603.9 C590.0,603.5 594.3,605.0 596.7,606.2 C599.1,607.4 599.1,608.8 601.4,611.0 C603.8,613.1 607.7,616.5 610.9,619.2 C614.0,622.0 617.2,625.9 620.3,627.5 C623.5,629.1 627.0,629.3 629.8,628.7 C632.5,628.1 634.9,625.3 636.9,623.9 C638.8,622.6 639.2,619.4 641.6,620.4 C643.9,621.4 648.3,626.9 651.0,629.9 C653.8,632.8 655.4,635.2 658.1,638.1 C660.9,641.1 664.4,645.4 667.6,647.6 C670.7,649.7 673.9,650.3 677.0,651.1 C680.2,651.9 684.1,652.7 686.5,652.3 C688.8,651.9 689.6,651.1 691.2,648.8 C692.8,646.4 694.5,641.9 695.9,638.1 C697.3,634.4 698.3,628.9 699.5,626.3 C700.6,623.7 701.6,622.8 703.0,622.8 C704.4,622.8 705.8,623.7 707.7,626.3 C709.7,628.9 712.4,634.3 714.8,638.1 C717.2,641.9 719.9,646.6 722.1,649.1 C724.3,651.7 725.5,652.5 727.9,653.5 C730.3,654.5 733.3,654.5 736.7,655.0 C740.1,655.5 744.4,656.4 748.3,656.4 C752.2,656.4 757.1,655.7 760.0,655.0 C762.9,654.2 763.4,653.5 765.8,652.1 C768.3,650.6 772.1,647.9 774.6,646.2 C777.0,644.5 778.5,643.3 780.4,641.9 C782.3,640.4 784.3,638.7 786.2,637.5 C788.2,636.3 789.6,634.8 792.1,634.6 C794.5,634.3 797.9,634.8 800.8,636.0 C803.7,637.2 807.1,640.4 809.6,641.9 C812.0,643.3 813.2,643.6 815.4,644.8 C817.6,646.0 820.7,648.9 822.7,649.1 C824.6,649.4 825.4,648.2 827.1,646.2 C828.8,644.3 831.0,639.9 832.9,637.5 C834.8,635.1 836.1,633.1 838.7,631.6 C841.4,630.2 846.0,629.7 848.9,628.7 C851.9,627.8 853.6,626.3 856.2,625.8 C858.9,625.3 861.1,625.6 865.0,625.8 C868.9,626.1 874.7,626.9 879.6,627.3 C884.4,627.7 888.6,628.0 894.1,628.1 C899.7,628.3 909.9,628.1 913.1,628.1" fill="none" stroke="#0070c0" stroke-width="3.8" stroke-linejoin="round" stroke-dasharray="9.5 15.7" stroke-linecap="round"/>
<path d="M65.5,660.9 C67.1,661.0 72.0,661.7 75.2,662.0 C78.4,662.2 81.6,662.8 84.8,662.4 C88.0,662.0 91.2,660.4 94.4,659.8 C97.6,659.2 100.9,659.3 104.1,658.9 C107.3,658.5 110.5,657.3 113.7,657.2 C116.9,657.0 120.1,657.8 123.3,658.0 C126.5,658.2 129.8,658.7 133.0,658.5 C136.2,658.2 139.4,657.3 142.6,656.7 C145.8,656.1 149.0,655.8 152.2,655.0 C155.4,654.1 158.7,652.8 161.9,651.5 C165.1,650.2 168.3,648.6 171.5,647.1 C174.7,645.6 177.9,644.0 181.1,642.3 C184.3,640.7 187.6,638.7 190.8,637.1 C194.0,635.5 197.2,634.7 200.4,632.7 C203.6,630.8 207.6,628.3 210.0,625.3 C212.5,622.4 213.3,617.3 215.0,615.0 C216.7,612.7 217.9,612.9 220.0,611.2 C222.1,609.6 225.0,607.3 227.5,605.0 C230.0,602.7 232.5,600.4 235.0,597.5 C237.5,594.6 240.0,590.8 242.5,587.5 C245.0,584.2 247.7,581.7 250.0,577.5 C252.3,573.3 254.6,567.9 256.2,562.5 C257.9,557.1 259.0,551.2 260.0,545.0 C261.0,538.8 261.7,532.1 262.5,525.0 C263.3,517.9 264.2,510.4 265.0,502.5 C265.8,494.6 266.7,484.2 267.5,477.5 C268.3,470.8 268.8,466.7 270.0,462.5 C271.2,458.3 273.5,456.2 275.0,452.5 C276.5,448.8 276.5,450.0 278.8,440.0 C281.0,430.0 285.9,405.6 288.5,392.7 C291.2,379.7 292.6,369.8 294.7,362.1 C296.7,354.5 298.7,352.0 300.8,346.9 C302.8,341.8 304.8,338.2 306.9,331.6 C308.9,325.0 310.9,314.3 313.0,307.2 C315.0,300.1 316.5,293.9 319.1,288.9 C321.6,283.8 324.7,280.7 328.2,276.6 C331.8,272.6 336.4,268.5 340.5,264.4 C344.5,260.4 350.1,253.2 352.7,252.2 C355.2,251.2 354.7,252.7 355.7,258.3 C356.7,263.9 357.8,273.6 358.8,285.8 C359.8,298.0 360.6,319.9 361.8,331.6 C363.1,343.3 364.4,348.9 366.4,356.0 C368.4,363.2 371.2,372.3 374.0,374.4 C376.8,376.4 380.7,366.2 383.2,368.2 C385.8,370.3 386.8,377.4 389.3,386.6 C391.9,395.7 396.3,416.4 398.5,423.2 C400.6,430.0 400.9,429.7 402.3,427.4 C403.7,425.2 405.2,416.8 407.1,409.9 C409.0,402.9 410.8,389.4 413.5,385.9 C416.1,382.4 419.9,389.6 423.1,389.1 C426.3,388.6 430.0,383.0 432.7,382.7 C435.3,382.4 436.9,383.0 439.0,387.5 C441.2,392.0 443.6,403.5 445.4,409.9 C447.3,416.3 448.6,426.4 450.2,425.8 C451.8,425.3 453.2,413.3 455.0,406.7 C456.9,400.0 458.7,389.1 461.4,385.9 C464.1,382.7 468.1,387.0 471.0,387.5 C473.9,388.0 476.0,387.2 479.0,389.1 C481.9,391.0 486.7,397.2 488.6,398.7 C490.4,400.2 488.6,402.3 490.0,398.3 C491.4,394.4 494.4,380.0 496.7,375.0 C498.9,370.0 501.1,370.8 503.3,368.3 C505.6,365.8 507.8,363.6 510.0,360.0 C512.2,356.4 514.2,350.3 516.7,346.7 C519.2,343.1 522.5,338.9 525.0,338.3 C527.5,337.8 529.7,340.3 531.7,343.3 C533.6,346.4 535.0,350.6 536.7,356.7 C538.3,362.8 540.3,371.7 541.7,380.0 C543.1,388.3 543.9,398.9 545.0,406.7 C546.1,414.4 546.4,423.1 548.3,426.7 C550.3,430.3 554.4,426.7 556.7,428.3 C558.9,430.0 559.7,432.5 561.7,436.7 C563.6,440.8 566.1,450.3 568.3,453.3 C570.6,456.4 572.8,456.7 575.0,455.0 C577.2,453.3 579.6,446.3 581.7,443.3 C583.7,440.4 585.9,438.3 587.3,437.3 C588.7,436.4 588.7,436.2 590.0,437.5 C591.3,438.8 593.3,442.1 595.0,445.0 C596.7,447.9 598.3,451.2 600.0,455.0 C601.7,458.8 603.3,463.3 605.0,467.5 C606.7,471.7 608.3,475.8 610.0,480.0 C611.7,484.2 613.3,488.8 615.0,492.5 C616.7,496.2 618.3,499.9 620.0,502.5 C621.7,505.1 623.3,507.2 625.0,508.0 C626.7,508.8 628.3,508.8 630.0,507.5 C631.7,506.2 633.5,503.3 635.0,500.0 C636.5,496.7 637.4,491.3 638.8,487.5 C640.1,483.7 641.8,478.2 643.0,477.0 C644.2,475.8 645.1,477.0 646.2,480.0 C647.4,483.0 648.8,489.6 650.0,495.0 C651.2,500.4 652.5,507.5 653.8,512.5 C655.0,517.5 656.0,520.8 657.5,525.0 C659.0,529.2 660.8,532.9 662.5,537.5 C664.2,542.1 665.8,547.1 667.5,552.5 C669.2,557.9 670.8,564.2 672.5,570.0 C674.2,575.8 676.0,583.1 677.5,587.5 C679.0,591.9 680.0,594.8 681.2,596.2 C682.5,597.7 683.8,597.3 685.0,596.2 C686.2,595.2 687.5,593.5 688.8,590.0 C690.0,586.5 691.2,581.7 692.5,575.0 C693.8,568.3 695.0,558.3 696.2,550.0 C697.5,541.7 698.9,530.4 700.0,525.0 C701.1,519.6 702.0,517.9 703.0,517.5 C704.0,517.1 705.1,519.2 706.2,522.5 C707.4,525.8 708.8,531.7 710.0,537.5 C711.2,543.3 712.5,550.8 713.8,557.5 C715.0,564.2 716.2,571.7 717.5,577.5 C718.8,583.3 720.0,588.8 721.2,592.5 C722.5,596.2 723.4,598.4 725.0,599.6 C726.6,600.7 728.6,598.6 730.8,599.6 C733.0,600.5 735.7,603.0 738.1,605.4 C740.5,607.8 743.2,612.0 745.4,614.1 C747.6,616.3 748.8,617.8 751.2,618.5 C753.7,619.3 757.3,617.8 760.0,618.5 C762.7,619.3 765.1,623.6 767.3,622.9 C769.5,622.2 770.9,617.8 773.1,614.1 C775.3,610.5 777.7,604.8 780.4,601.0 C783.1,597.2 786.7,592.1 789.2,591.4 C791.6,590.7 793.0,594.3 795.0,596.7 C796.9,599.0 798.9,602.0 800.8,605.4 C802.8,608.8 804.7,613.7 806.7,617.1 C808.6,620.5 810.5,622.9 812.5,625.8 C814.4,628.7 816.1,631.9 818.3,634.6 C820.5,637.2 823.7,640.9 825.6,641.9 C827.6,642.8 828.3,641.9 830.0,640.4 C831.7,638.9 833.9,634.3 835.8,633.1 C837.8,631.9 839.7,632.6 841.6,633.1 C843.6,633.6 845.1,635.3 847.5,636.0 C849.9,636.8 853.3,636.8 856.2,637.5 C859.1,638.2 861.6,639.2 865.0,640.4 C868.4,641.6 872.8,643.5 876.6,644.8 C880.5,646.1 884.9,647.5 888.3,648.3 C891.7,649.0 894.1,649.2 897.1,649.1 C900.0,649.0 902.9,648.3 905.8,647.7 C908.7,647.1 913.1,646.0 914.6,645.6" fill="none" stroke="#7030a0" stroke-width="3.6" stroke-linejoin="round" stroke-linecap="round"/>
<g font-family='"Liberation Sans", sans-serif' font-size="22.4" fill="#000">
<text x="38.9" y="687.1" text-anchor="end">0</text>
<text x="41.2" y="599.9" text-anchor="end">0.2</text>
<text x="41.2" y="512.6" text-anchor="end">0.4</text>
<text x="41.2" y="425.4" text-anchor="end">0.6</text>
<text x="41.2" y="338.1" text-anchor="end">0.8</text>
<text x="41.2" y="250.9" text-anchor="end">1.0</text>
<text x="56.3" y="711.8" text-anchor="middle">0</text>
<text x="153.0" y="711.8" text-anchor="middle">10</text>
<text x="249.4" y="711.8" text-anchor="middle">20</text>
<text x="345.7" y="711.8" text-anchor="middle">30</text>
<text x="442.0" y="711.8" text-anchor="middle">40</text>
<text x="538.3" y="711.8" text-anchor="middle">50</text>
<text x="634.7" y="711.8" text-anchor="middle">60</text>
<text x="731.0" y="711.8" text-anchor="middle">70</text>
<text x="827.3" y="711.8" text-anchor="middle">80</text>
<text x="923.7" y="711.8" text-anchor="middle">90</text>
</g>
<text x="943.3" y="687.2" font-family='"Liberation Sans", sans-serif' font-size="21" textLength="75" lengthAdjust="spacingAndGlyphs">Point ID</text>
<text transform="translate(93.4,346.5) rotate(-90)" font-family='"Liberation Sans", sans-serif' font-size="21" textLength="101" lengthAdjust="spacingAndGlyphs">Light value</text>
<path d="M696.5,264.2 H751.7" fill="none" stroke="#00b050" stroke-width="3.4" stroke-linejoin="round" stroke-dasharray="4.9 5.2" stroke-linecap="round"/>
<text x="763.6" y="270.7" font-family='"Liberation Sans", sans-serif' font-size="18.4" textLength="252.9" lengthAdjust="spacingAndGlyphs">Radiance Calibrated Products</text>
<path d="M696.6,304.2 H756.2" fill="none" stroke="#a6a6a6" stroke-width="3.2" stroke-linejoin="round" stroke-linecap="round"/>
<text x="763.6" y="310.6" font-family='"Liberation Sans", sans-serif' font-size="18.4" textLength="235.9" lengthAdjust="spacingAndGlyphs">DMSP-OLS Nighttime Lights</text>
<path d="M696.6,344.5 H746.8" fill="none" stroke="#ff0000" stroke-width="4.8" stroke-linejoin="round" stroke-dasharray="5.2 9.8" stroke-linecap="round"/>
<text x="763.6" y="350.6" font-family='"Liberation Sans", sans-serif' font-size="18.4" textLength="56.2" lengthAdjust="spacingAndGlyphs">NUACI</text>
<path d="M696.9,384.2 H756.1" fill="none" stroke="#0070c0" stroke-width="3.8" stroke-linejoin="round" stroke-dasharray="9.6 15.6" stroke-linecap="round"/>
<text x="763.6" y="390.4" font-family='"Liberation Sans", sans-serif' font-size="18.4" textLength="27.4" lengthAdjust="spacingAndGlyphs">HSI</text>
<path d="M696.8,424.3 H756.2" fill="none" stroke="#7030a0" stroke-width="3.6" stroke-linejoin="round" stroke-linecap="round"/>
<text x="763.6" y="430.2" font-family='"Liberation Sans", sans-serif' font-size="18.4" textLength="56.2" lengthAdjust="spacingAndGlyphs">VANUI</text>
</svg>
</body></html>
